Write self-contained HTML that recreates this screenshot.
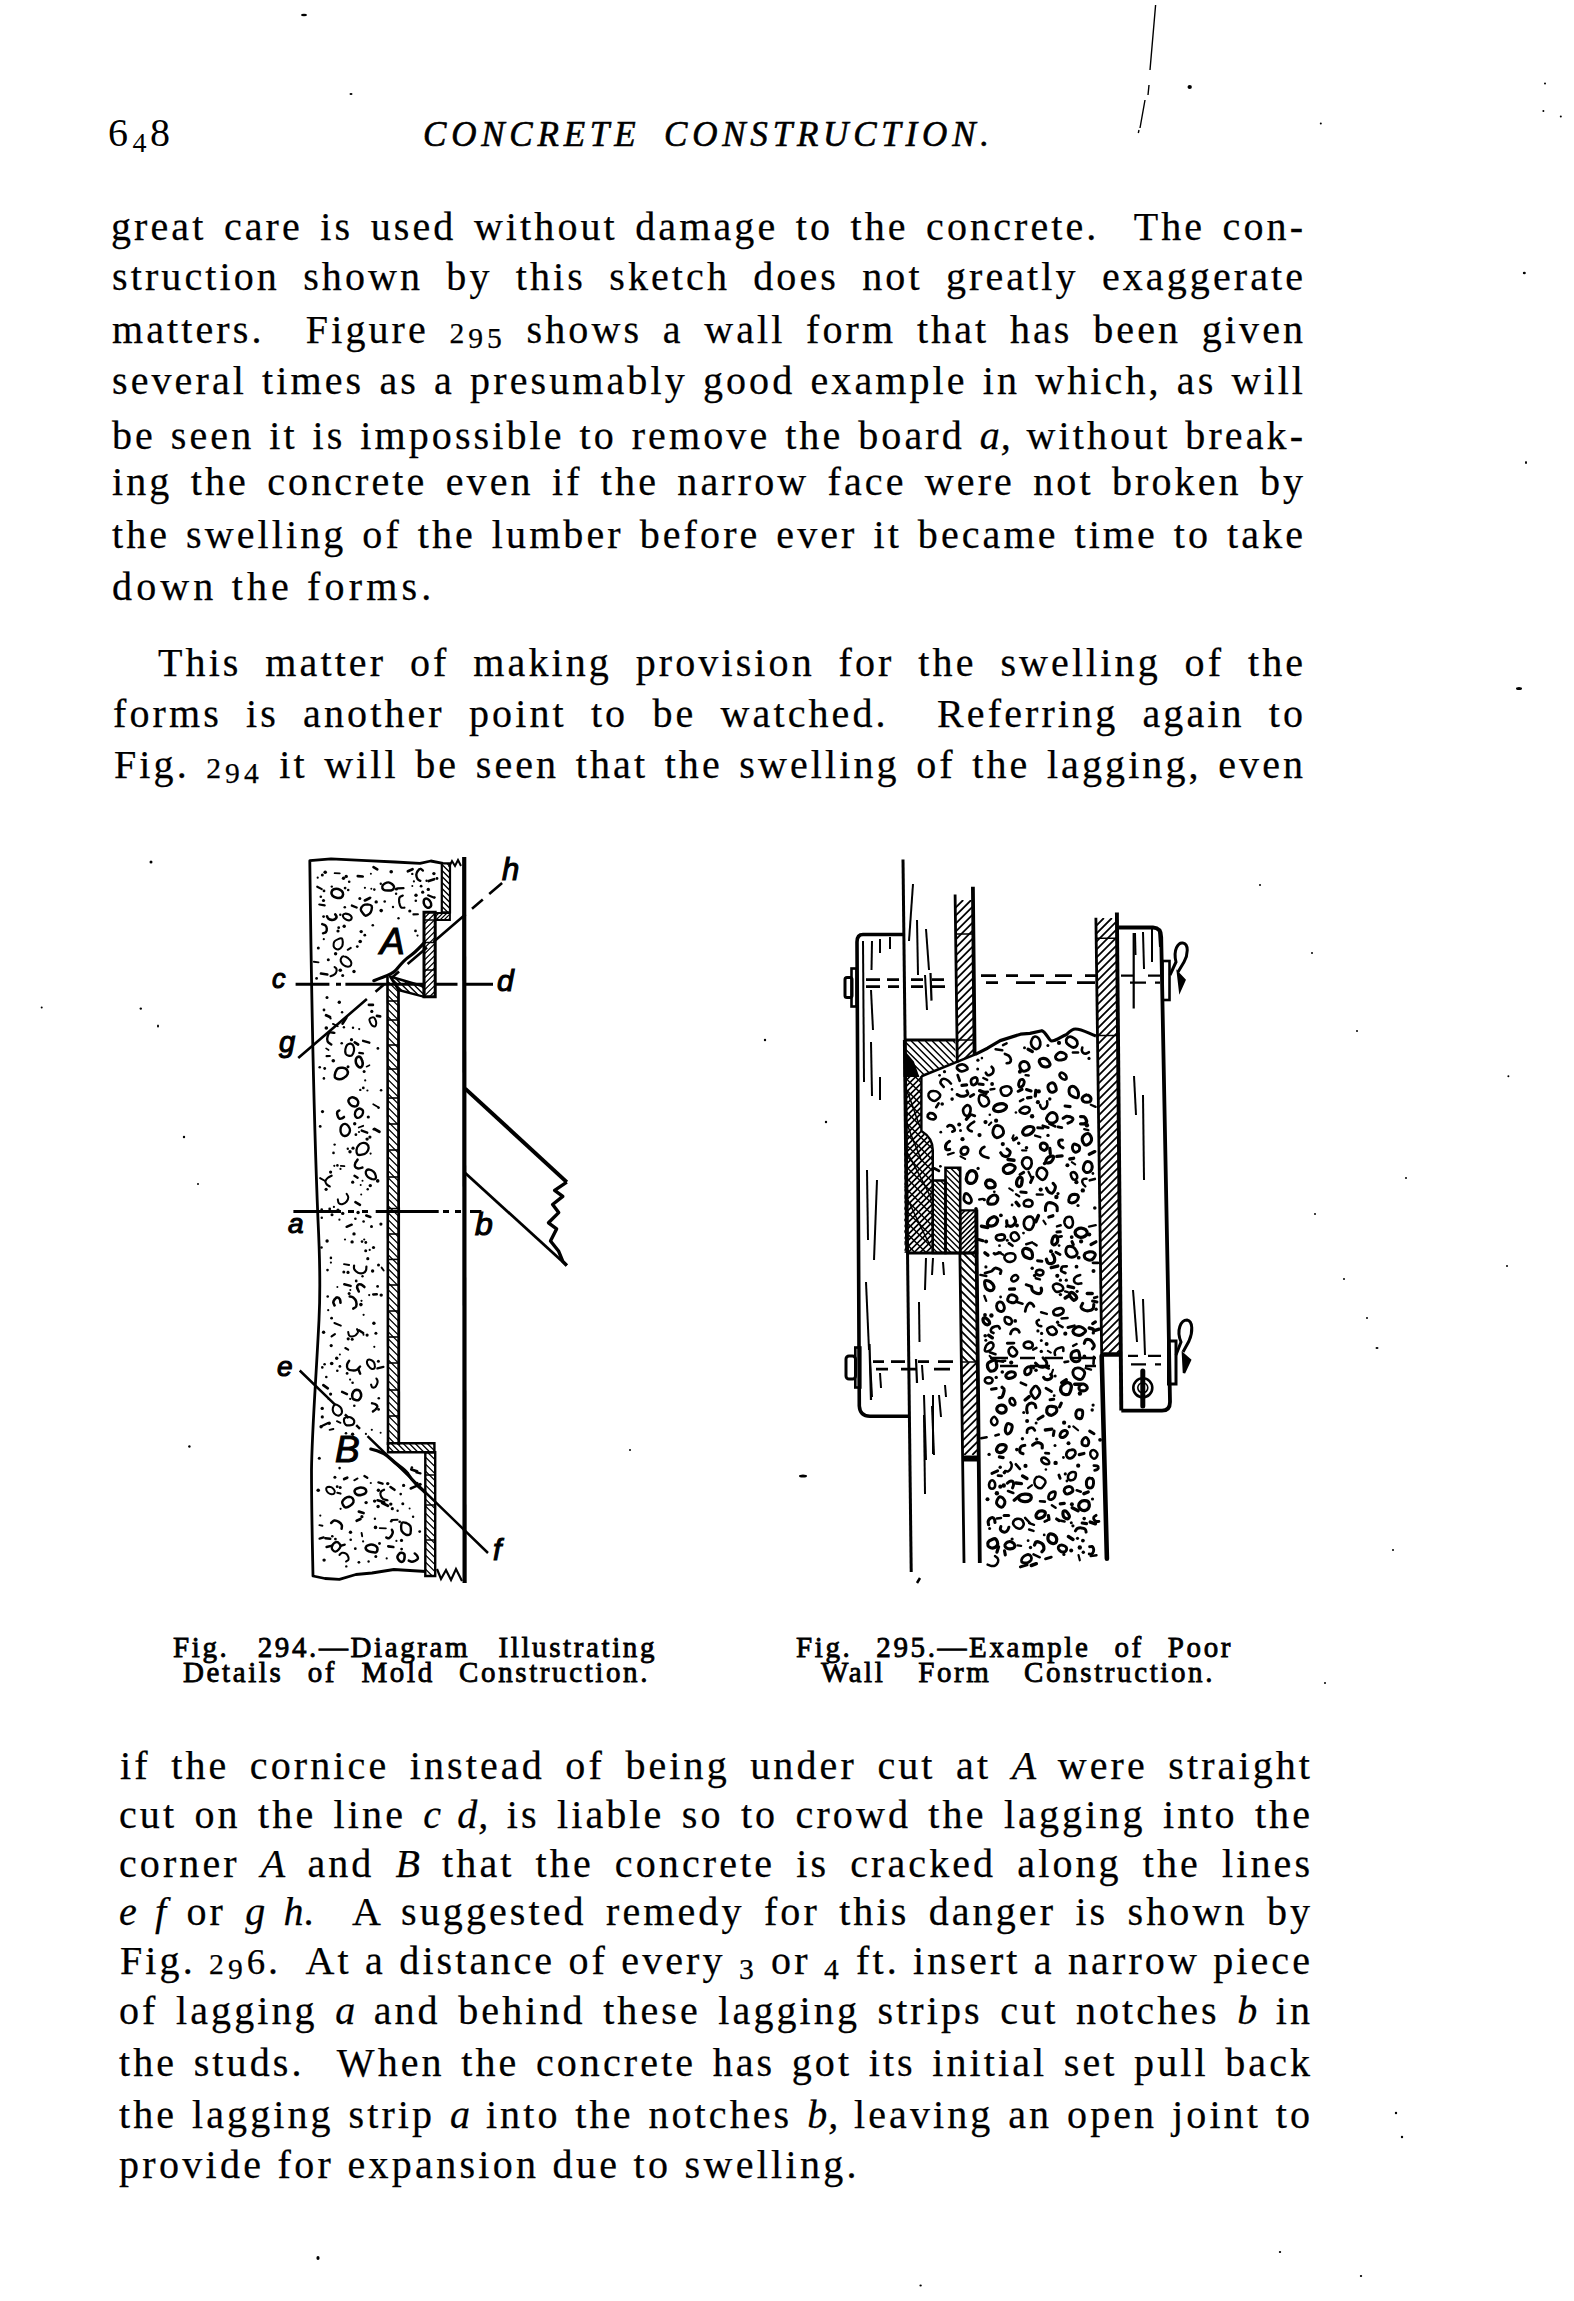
<!DOCTYPE html>
<html><head><meta charset="utf-8"><title>Concrete Construction p.648</title>
<style>
html,body{margin:0;padding:0;background:#fff}
body{width:1574px;height:2301px;position:relative;overflow:hidden;font-family:"Liberation Serif",serif;color:#000}
.l{position:absolute;font-size:40px;line-height:40px;letter-spacing:3.1px;white-space:nowrap;-webkit-text-stroke:0.25px #000}
.j{text-align:justify;text-align-last:justify}
.l i{letter-spacing:1px}
.ox{font-size:0.74em;letter-spacing:4px}
.od{font-size:0.74em;letter-spacing:4px;position:relative;top:0.2em}
.oa{font-size:0.92em;letter-spacing:3px}
.hd{position:absolute;font-size:35px;line-height:35px;font-style:italic;letter-spacing:4.8px;white-space:nowrap;-webkit-text-stroke:0.6px #000}
.pn{position:absolute;font-size:40px;line-height:40px;letter-spacing:3.5px;white-space:nowrap}
.cap{position:absolute;font-family:"Liberation Serif",serif;font-size:29px;line-height:29px;letter-spacing:2.6px;-webkit-text-stroke:0.8px #000;white-space:nowrap;text-align:justify;text-align-last:justify}
svg{position:absolute;left:0;top:0}
</style></head><body>
<div class="pn" style="left:108px;top:112.5px">6<span style="font-size:28px;position:relative;top:6px;margin-left:1px">4</span>8</div>
<div class="hd" style="left:423px;top:116.7px">CONCRETE</div>
<div class="hd" style="left:664px;top:116.7px">CONSTRUCTION.</div>
<div class="l j" style="top:206.5px;left:111px;width:1195.1px">great care is used without damage to the concrete.&nbsp; The con-</div>
<div class="l j" style="top:257.0px;left:112px;width:1194.1px">struction shown by this sketch does not greatly exaggerate</div>
<div class="l j" style="top:309.5px;left:112px;width:1194.1px">matters.&nbsp; Figure <span class=ox>2</span><span class=od>9</span><span class=od>5</span> shows a wall form that has been given</div>
<div class="l j" style="top:360.7px;left:112px;width:1194.1px">several times as a presumably good example in which, as will</div>
<div class="l j" style="top:416.3px;left:112px;width:1194.1px">be seen it is impossible to remove the board <i>a,</i> without break-</div>
<div class="l j" style="top:462.0px;left:112px;width:1194.1px">ing the concrete even if the narrow face were not broken by</div>
<div class="l j" style="top:515.3px;left:112px;width:1194.1px">the swelling of the lumber before ever it became time to take</div>
<div class="l" style="top:566.5px;left:112px;width:1194.1px;letter-spacing:4.15px">down the forms.</div>
<div class="l j" style="top:642.7px;left:158px;width:1148.1px">This matter of making provision for the swelling of the</div>
<div class="l j" style="top:693.8px;left:113px;width:1193.1px">forms is another point to be watched.&nbsp; Referring again to</div>
<div class="l j" style="top:744.5px;left:114px;width:1192.1px">Fig. <span class=ox>2</span><span class=od>9</span><span class=od>4</span> it will be seen that the swelling of the lagging, even</div>
<div class="l j" style="top:1745.5px;left:120px;width:1193.1px">if the cornice instead of being under cut at <i>A</i> were straight</div>
<div class="l j" style="top:1794.5px;left:119px;width:1194.1px">cut on the line <i>c d,</i> is liable so to crowd the lagging into the</div>
<div class="l j" style="top:1844.2px;left:119px;width:1194.1px">corner <i>A</i> and <i>B</i> that the concrete is cracked along the lines</div>
<div class="l j" style="top:1892.0px;left:119px;width:1194.1px"><i>e f</i> or <i>g h.</i>&nbsp; A suggested remedy for this danger is shown by</div>
<div class="l j" style="top:1940.5px;left:120px;width:1193.1px">Fig. <span class=ox>2</span><span class=od>9</span><span class=oa>6</span>.&nbsp; At a distance of every <span class=od>3</span> or <span class=od>4</span> ft. insert a narrow piece</div>
<div class="l j" style="top:1991.1px;left:119px;width:1194.1px">of lagging <i>a</i> and behind these lagging strips cut notches <i>b</i> in</div>
<div class="l j" style="top:2042.8px;left:119px;width:1194.1px">the studs.&nbsp; When the concrete has got its initial set pull back</div>
<div class="l j" style="top:2094.5px;left:119px;width:1194.1px">the lagging strip <i>a</i> into the notches <i>b,</i> leaving an open joint to</div>
<div class="l" style="top:2145.4px;left:119px;width:1194.1px;letter-spacing:3.3px">provide for expansion due to swelling.</div>
<div class="cap" style="left:173px;width:484px;top:1633.2px">Fig. 294.—Diagram Illustrating</div>
<div class="cap" style="left:183px;width:467px;top:1657.7px">Details of Mold Construction.</div>
<div class="cap" style="left:796px;width:437px;top:1633.2px">Fig. 295.—Example of Poor</div>
<div class="cap" style="left:821px;width:394px;top:1657.7px">Wall Form Construction.</div>
<svg width="1574" height="2301" viewBox="0 0 1574 2301"><g fill="none" stroke="#000" stroke-linecap="butt"><path d="M443,863.3 L430.8,861 L420,863.3 L395,862 L366.7,860.7 L331,858.9 L309.8,860.7 C311,960 313,1100 318,1220 C320,1260 320.5,1290 319,1320 C316,1380 312,1430 311.5,1470 C311.5,1510 312.5,1550 313,1576 L325,1578.5 L339.4,1579.4 L355.9,1574.5 L372,1573 L393.9,1569.5 L426,1571.5" stroke-width="2.8" stroke-linejoin="round"/>
<path d="M449,867 L452,861 L455,866 L458,860 L461,866" stroke-width="2"/>
<path d="M437,1569 L441,1579 L446,1570 L451,1580 L456,1569 L462,1581" stroke-width="2.2"/>
<path d="M464.2,857 L464.6,1583" stroke-width="4.2"/>
<clipPath id="cp1"><polygon points="441.8,863.3 450.0,863.3 450.0,912.3 441.8,912.3"/></clipPath><path d="M392.8,863.3L441.8,912.3M398.8,863.3L447.8,912.3M404.8,863.3L453.8,912.3M410.8,863.3L459.8,912.3M416.8,863.3L465.8,912.3M422.8,863.3L471.8,912.3M428.8,863.3L477.8,912.3M434.8,863.3L483.8,912.3M440.8,863.3L489.8,912.3M446.8,863.3L495.8,912.3M452.8,863.3L501.8,912.3M458.8,863.3L507.8,912.3M464.8,863.3L513.8,912.3M470.8,863.3L519.8,912.3M476.8,863.3L525.8,912.3M482.8,863.3L531.8,912.3M488.8,863.3L537.8,912.3M494.8,863.3L543.8,912.3" stroke-width="1.3" clip-path="url(#cp1)"/><polygon points="441.8,863.3 450.0,863.3 450.0,912.3 441.8,912.3" stroke-width="2.2"/>
<clipPath id="cp2"><polygon points="435.0,913.0 450.0,913.0 450.0,920.0 435.0,920.0"/></clipPath><path d="M428.0,920.0L435.0,913.0M432.0,920.0L439.0,913.0M436.0,920.0L443.0,913.0M440.0,920.0L447.0,913.0M444.0,920.0L451.0,913.0M448.0,920.0L455.0,913.0M452.0,920.0L459.0,913.0M456.0,920.0L463.0,913.0" stroke-width="1.2" clip-path="url(#cp2)"/><polygon points="435.0,913.0 450.0,913.0 450.0,920.0 435.0,920.0" stroke-width="1.8"/>
<clipPath id="cp3"><polygon points="424.0,912.3 435.2,912.3 435.2,996.8 424.0,996.8"/></clipPath><path d="M339.5,996.8L424.0,912.3M345.5,996.8L430.0,912.3M351.5,996.8L436.0,912.3M357.5,996.8L442.0,912.3M363.5,996.8L448.0,912.3M369.5,996.8L454.0,912.3M375.5,996.8L460.0,912.3M381.5,996.8L466.0,912.3M387.5,996.8L472.0,912.3M393.5,996.8L478.0,912.3M399.5,996.8L484.0,912.3M405.5,996.8L490.0,912.3M411.5,996.8L496.0,912.3M417.5,996.8L502.0,912.3M423.5,996.8L508.0,912.3M429.5,996.8L514.0,912.3M435.5,996.8L520.0,912.3M441.5,996.8L526.0,912.3M447.5,996.8L532.0,912.3M453.5,996.8L538.0,912.3M459.5,996.8L544.0,912.3M465.5,996.8L550.0,912.3M471.5,996.8L556.0,912.3M477.5,996.8L562.0,912.3M483.5,996.8L568.0,912.3M489.5,996.8L574.0,912.3M495.5,996.8L580.0,912.3M501.5,996.8L586.0,912.3M507.5,996.8L592.0,912.3M513.5,996.8L598.0,912.3M519.5,996.8L604.0,912.3" stroke-width="1.3" clip-path="url(#cp3)"/><polygon points="424.0,912.3 435.2,912.3 435.2,996.8 424.0,996.8" stroke-width="3"/>
<path d="M424,920 L435.2,920" stroke-width="1.5"/>
<path d="M424,942.5 L435.2,942.5" stroke-width="1.5"/>
<path d="M424,970 L435.2,970" stroke-width="1.5"/>
<clipPath id="cp4"><polygon points="390.0,976.5 424.0,986.5 424.0,996.8 400.5,990.5 398.5,990.0"/></clipPath><path d="M369.7,976.5L390.0,996.8M375.7,976.5L396.0,996.8M381.7,976.5L402.0,996.8M387.7,976.5L408.0,996.8M393.7,976.5L414.0,996.8M399.7,976.5L420.0,996.8M405.7,976.5L426.0,996.8M411.7,976.5L432.0,996.8M417.7,976.5L438.0,996.8M423.7,976.5L444.0,996.8M429.7,976.5L450.0,996.8M435.7,976.5L456.0,996.8M441.7,976.5L462.0,996.8" stroke-width="1.4" clip-path="url(#cp4)"/><polygon points="390.0,976.5 424.0,986.5 424.0,996.8 400.5,990.5 398.5,990.0" stroke-width="2.4"/>
<clipPath id="cp5"><polygon points="387.5,978.0 398.5,978.0 398.8,1443.2 388.0,1443.2"/></clipPath><path d="M-77.7,978.0L387.5,1443.2M-70.7,978.0L394.5,1443.2M-63.7,978.0L401.5,1443.2M-56.7,978.0L408.5,1443.2M-49.7,978.0L415.5,1443.2M-42.7,978.0L422.5,1443.2M-35.7,978.0L429.5,1443.2M-28.7,978.0L436.5,1443.2M-21.7,978.0L443.5,1443.2M-14.7,978.0L450.5,1443.2M-7.7,978.0L457.5,1443.2M-0.7,978.0L464.5,1443.2M6.3,978.0L471.5,1443.2M13.3,978.0L478.5,1443.2M20.3,978.0L485.5,1443.2M27.3,978.0L492.5,1443.2M34.3,978.0L499.5,1443.2M41.3,978.0L506.5,1443.2M48.3,978.0L513.5,1443.2M55.3,978.0L520.5,1443.2M62.3,978.0L527.5,1443.2M69.3,978.0L534.5,1443.2M76.3,978.0L541.5,1443.2M83.3,978.0L548.5,1443.2M90.3,978.0L555.5,1443.2M97.3,978.0L562.5,1443.2M104.3,978.0L569.5,1443.2M111.3,978.0L576.5,1443.2M118.3,978.0L583.5,1443.2M125.3,978.0L590.5,1443.2M132.3,978.0L597.5,1443.2M139.3,978.0L604.5,1443.2M146.3,978.0L611.5,1443.2M153.3,978.0L618.5,1443.2M160.3,978.0L625.5,1443.2M167.3,978.0L632.5,1443.2M174.3,978.0L639.5,1443.2M181.3,978.0L646.5,1443.2M188.3,978.0L653.5,1443.2M195.3,978.0L660.5,1443.2M202.3,978.0L667.5,1443.2M209.3,978.0L674.5,1443.2M216.3,978.0L681.5,1443.2M223.3,978.0L688.5,1443.2M230.3,978.0L695.5,1443.2M237.3,978.0L702.5,1443.2M244.3,978.0L709.5,1443.2M251.3,978.0L716.5,1443.2M258.3,978.0L723.5,1443.2M265.3,978.0L730.5,1443.2M272.3,978.0L737.5,1443.2M279.3,978.0L744.5,1443.2M286.3,978.0L751.5,1443.2M293.3,978.0L758.5,1443.2M300.3,978.0L765.5,1443.2M307.3,978.0L772.5,1443.2M314.3,978.0L779.5,1443.2M321.3,978.0L786.5,1443.2M328.3,978.0L793.5,1443.2M335.3,978.0L800.5,1443.2M342.3,978.0L807.5,1443.2M349.3,978.0L814.5,1443.2M356.3,978.0L821.5,1443.2M363.3,978.0L828.5,1443.2M370.3,978.0L835.5,1443.2M377.3,978.0L842.5,1443.2M384.3,978.0L849.5,1443.2M391.3,978.0L856.5,1443.2M398.3,978.0L863.5,1443.2M405.3,978.0L870.5,1443.2M412.3,978.0L877.5,1443.2M419.3,978.0L884.5,1443.2M426.3,978.0L891.5,1443.2M433.3,978.0L898.5,1443.2M440.3,978.0L905.5,1443.2M447.3,978.0L912.5,1443.2M454.3,978.0L919.5,1443.2M461.3,978.0L926.5,1443.2M468.3,978.0L933.5,1443.2M475.3,978.0L940.5,1443.2M482.3,978.0L947.5,1443.2M489.3,978.0L954.5,1443.2M496.3,978.0L961.5,1443.2M503.3,978.0L968.5,1443.2M510.3,978.0L975.5,1443.2M517.3,978.0L982.5,1443.2M524.3,978.0L989.5,1443.2M531.3,978.0L996.5,1443.2M538.3,978.0L1003.5,1443.2M545.3,978.0L1010.5,1443.2M552.3,978.0L1017.5,1443.2M559.3,978.0L1024.5,1443.2M566.3,978.0L1031.5,1443.2M573.3,978.0L1038.5,1443.2M580.3,978.0L1045.5,1443.2M587.3,978.0L1052.5,1443.2M594.3,978.0L1059.5,1443.2M601.3,978.0L1066.5,1443.2M608.3,978.0L1073.5,1443.2M615.3,978.0L1080.5,1443.2M622.3,978.0L1087.5,1443.2M629.3,978.0L1094.5,1443.2M636.3,978.0L1101.5,1443.2M643.3,978.0L1108.5,1443.2M650.3,978.0L1115.5,1443.2M657.3,978.0L1122.5,1443.2M664.3,978.0L1129.5,1443.2M671.3,978.0L1136.5,1443.2M678.3,978.0L1143.5,1443.2M685.3,978.0L1150.5,1443.2M692.3,978.0L1157.5,1443.2M699.3,978.0L1164.5,1443.2M706.3,978.0L1171.5,1443.2M713.3,978.0L1178.5,1443.2M720.3,978.0L1185.5,1443.2M727.3,978.0L1192.5,1443.2M734.3,978.0L1199.5,1443.2M741.3,978.0L1206.5,1443.2M748.3,978.0L1213.5,1443.2M755.3,978.0L1220.5,1443.2M762.3,978.0L1227.5,1443.2M769.3,978.0L1234.5,1443.2M776.3,978.0L1241.5,1443.2M783.3,978.0L1248.5,1443.2M790.3,978.0L1255.5,1443.2M797.3,978.0L1262.5,1443.2M804.3,978.0L1269.5,1443.2M811.3,978.0L1276.5,1443.2M818.3,978.0L1283.5,1443.2M825.3,978.0L1290.5,1443.2M832.3,978.0L1297.5,1443.2M839.3,978.0L1304.5,1443.2M846.3,978.0L1311.5,1443.2M853.3,978.0L1318.5,1443.2M860.3,978.0L1325.5,1443.2" stroke-width="1.3" clip-path="url(#cp5)"/>
<path d="M387.5,977 L388,1445" stroke-width="2.6"/><path d="M398.5,990 L398.8,1445" stroke-width="2.8"/>
<path d="M388,1001 L398.5,1001" stroke-width="1.6"/>
<path d="M388,1020 L398.5,1020" stroke-width="1.6"/>
<path d="M388,1045 L398.5,1045" stroke-width="1.6"/>
<path d="M388,1069 L398.5,1069" stroke-width="1.6"/>
<path d="M388,1098 L398.5,1098" stroke-width="1.6"/>
<path d="M388,1124 L398.5,1124" stroke-width="1.6"/>
<path d="M388,1150 L398.5,1150" stroke-width="1.6"/>
<path d="M388,1177 L398.5,1177" stroke-width="1.6"/>
<path d="M388,1208.6 L398.5,1208.6" stroke-width="1.6"/>
<path d="M388,1234 L398.5,1234" stroke-width="1.6"/>
<path d="M388,1259.4 L398.5,1259.4" stroke-width="1.6"/>
<path d="M388,1285 L398.5,1285" stroke-width="1.6"/>
<path d="M388,1311 L398.5,1311" stroke-width="1.6"/>
<path d="M388,1337 L398.5,1337" stroke-width="1.6"/>
<path d="M388,1363 L398.5,1363" stroke-width="1.6"/>
<path d="M388,1390 L398.5,1390" stroke-width="1.6"/>
<path d="M388,1416 L398.5,1416" stroke-width="1.6"/>
<clipPath id="cp6"><polygon points="388.0,1443.2 434.4,1443.2 434.4,1452.2 388.0,1452.2"/></clipPath><path d="M379.0,1443.2L388.0,1452.2M385.0,1443.2L394.0,1452.2M391.0,1443.2L400.0,1452.2M397.0,1443.2L406.0,1452.2M403.0,1443.2L412.0,1452.2M409.0,1443.2L418.0,1452.2M415.0,1443.2L424.0,1452.2M421.0,1443.2L430.0,1452.2M427.0,1443.2L436.0,1452.2M433.0,1443.2L442.0,1452.2M439.0,1443.2L448.0,1452.2" stroke-width="1.3" clip-path="url(#cp6)"/><polygon points="388.0,1443.2 434.4,1443.2 434.4,1452.2 388.0,1452.2" stroke-width="2.4"/>
<clipPath id="cp7"><polygon points="425.3,1452.2 435.2,1452.2 435.2,1576.0 425.3,1576.0"/></clipPath><path d="M301.5,1452.2L425.3,1576.0M308.5,1452.2L432.3,1576.0M315.5,1452.2L439.3,1576.0M322.5,1452.2L446.3,1576.0M329.5,1452.2L453.3,1576.0M336.5,1452.2L460.3,1576.0M343.5,1452.2L467.3,1576.0M350.5,1452.2L474.3,1576.0M357.5,1452.2L481.3,1576.0M364.5,1452.2L488.3,1576.0M371.5,1452.2L495.3,1576.0M378.5,1452.2L502.3,1576.0M385.5,1452.2L509.3,1576.0M392.5,1452.2L516.3,1576.0M399.5,1452.2L523.3,1576.0M406.5,1452.2L530.3,1576.0M413.5,1452.2L537.3,1576.0M420.5,1452.2L544.3,1576.0M427.5,1452.2L551.3,1576.0M434.5,1452.2L558.3,1576.0M441.5,1452.2L565.3,1576.0M448.5,1452.2L572.3,1576.0M455.5,1452.2L579.3,1576.0M462.5,1452.2L586.3,1576.0M469.5,1452.2L593.3,1576.0M476.5,1452.2L600.3,1576.0M483.5,1452.2L607.3,1576.0M490.5,1452.2L614.3,1576.0M497.5,1452.2L621.3,1576.0M504.5,1452.2L628.3,1576.0M511.5,1452.2L635.3,1576.0M518.5,1452.2L642.3,1576.0M525.5,1452.2L649.3,1576.0M532.5,1452.2L656.3,1576.0M539.5,1452.2L663.3,1576.0M546.5,1452.2L670.3,1576.0M553.5,1452.2L677.3,1576.0" stroke-width="1.3" clip-path="url(#cp7)"/><polygon points="425.3,1452.2 435.2,1452.2 435.2,1576.0 425.3,1576.0" stroke-width="2.4"/>
<path d="M425.3,1475 L435.2,1475" stroke-width="1.5"/>
<path d="M425.3,1505 L435.2,1505" stroke-width="1.5"/>
<path d="M425.3,1540 L435.2,1540" stroke-width="1.5"/>
<path d="M295.6,984.3 L329.4,984.3 M336,984.3 L341,984.3 M345.4,984.3 L425.4,984.3 M435,984.3 L457.5,984.3 M466,984.3 L493,984.3" stroke-width="3"/>
<path d="M293.4,1211.6 L341,1211.6 M348,1211.6 L354,1211.6 M362,1211.6 L368,1211.6 M375.7,1211.6 L438.7,1211.6 M443,1211.6 L449,1211.6 M455,1211.6 L461,1211.6 M470,1211.6 L481.4,1211.6" stroke-width="3"/>
<path d="M298.2,1058.1L366.9,999.1M375.5,991.8L384.0,984.4M392.6,977.0L399.1,971.5M407.6,964.1L427.0,947.5M433.4,942.0L465.6,914.3M472.0,908.8L482.8,899.6M489.2,894.1L502.1,883.0" stroke-width="2.6"/>
<path d="M299.7,1370.5L335.5,1405.2M344.9,1414.3L348.7,1418.0M356.2,1425.2L360.0,1428.9M367.5,1436.2L488.0,1553.0" stroke-width="2.5"/>
<path d="M373.8,980.7 C385,976 392,975 396,970 C400,965 404,960 410,956 C416,952 420,947 424.5,942.5" stroke-width="3.2" stroke-linecap="round"/>
<path d="M370.8,1449 C380,1451 386,1454 392,1460 C398,1466 404,1468 408,1474 C411,1479 414,1482 417,1485 C420,1488 423,1490 425.3,1492.7" stroke-width="3.2" stroke-linecap="round"/>
<path d="M465.2,1088.6 L566.8,1182.1" stroke-width="4"/>
<path d="M465.2,1173 L566.8,1265.5" stroke-width="2.8"/>
<path d="M566.8,1182.1 L554.6,1190.3 L562.8,1196.4 L552.6,1204.5 L558.7,1212.6 L548.5,1222.8 L556.6,1228.9 L550.5,1241 L558.7,1251.3 L562.8,1261.4 L566.8,1265.5" stroke-width="3.4" stroke-linejoin="round"/>
<text x="502" y="880" font-size="31" font-family="Liberation Sans" font-style="italic" stroke="#000" stroke-width="1.1" fill="#000">h</text>
<text x="272" y="988" font-size="27" font-family="Liberation Sans" font-style="italic" stroke="#000" stroke-width="1.1" fill="#000">c</text>
<text x="497" y="991" font-size="30" font-family="Liberation Sans" font-style="italic" stroke="#000" stroke-width="1.1" fill="#000">d</text>
<text x="380" y="954" font-size="37" font-family="Liberation Sans" font-style="italic" stroke="#000" stroke-width="1.1" fill="#000">A</text>
<text x="279" y="1052" font-size="29" font-family="Liberation Sans" font-style="italic" stroke="#000" stroke-width="1.1" fill="#000">g</text>
<text x="288" y="1233" font-size="28" font-family="Liberation Sans" font-style="italic" stroke="#000" stroke-width="1.1" fill="#000">a</text>
<text x="475" y="1235" font-size="32" font-family="Liberation Sans" font-style="italic" stroke="#000" stroke-width="1.1" fill="#000">b</text>
<text x="277" y="1376" font-size="28" font-family="Liberation Sans" font-style="italic" stroke="#000" stroke-width="1.1" fill="#000">e</text>
<text x="335" y="1462" font-size="37" font-family="Liberation Sans" font-style="italic" stroke="#000" stroke-width="1.1" fill="#000">B</text>
<text x="493" y="1560" font-size="30" font-family="Liberation Sans" font-style="italic" stroke="#000" stroke-width="1.1" fill="#000">f</text>
<path d="M382.3,886.2C382.5,885.1 383.8,884.1 384.8,883.5C385.9,882.9 387.3,882.3 388.5,882.4C389.7,882.5 391.0,883.3 392.0,884.0C392.9,884.8 394.1,886.0 394.1,887.0C394.1,888.1 393.1,889.6 392.0,890.1C391.0,890.7 389.3,890.6 387.9,890.5C386.5,890.5 384.5,890.4 383.6,889.7C382.6,889.0 382.1,887.2 382.3,886.2Z" stroke-width="2.4" stroke-linecap="round"/>
<path d="M343.1,894.4C343.0,895.5 342.3,896.9 341.2,897.5C340.1,898.0 338.0,898.0 336.5,897.7C335.1,897.4 333.3,896.6 332.5,895.7C331.6,894.7 331.3,893.2 331.5,892.2C331.7,891.1 332.5,889.8 333.7,889.3C334.8,888.8 336.8,888.7 338.2,889.0C339.5,889.3 341.0,890.2 341.9,891.1C342.7,892.0 343.3,893.4 343.1,894.4Z" stroke-width="2.6" stroke-linecap="round"/>
<path d="M404.4,907.7C403.8,907.7 401.7,908.1 400.9,907.2C400.0,906.3 399.5,904.1 399.2,902.4C399.0,900.8 399.0,898.5 399.6,897.4C400.2,896.2 402.2,895.9 402.8,895.6" stroke-width="2.2" stroke-linecap="round"/>
<path d="M335.5,948.7C334.7,948.2 333.8,947.3 333.6,946.1C333.4,944.9 333.6,942.7 334.4,941.5C335.1,940.4 336.9,939.6 338.1,939.1C339.3,938.5 341.0,937.9 341.8,938.4C342.5,938.9 342.7,940.7 342.8,942.0C342.8,943.3 342.7,945.0 342.1,946.2C341.4,947.4 339.8,948.9 338.7,949.3C337.6,949.7 336.4,949.2 335.5,948.7Z" stroke-width="2.1" stroke-linecap="round"/>
<path d="M362.7,913.0C361.9,912.0 360.7,910.8 360.8,909.5C360.9,908.2 362.0,906.3 363.2,905.4C364.3,904.6 366.2,904.4 367.6,904.4C369.1,904.5 371.0,905.0 371.7,906.0C372.3,907.0 371.8,909.0 371.5,910.2C371.2,911.5 370.6,912.7 369.6,913.7C368.6,914.6 366.8,915.9 365.6,915.8C364.4,915.7 363.5,914.1 362.7,913.0Z" stroke-width="2.4" stroke-linecap="round"/>
<path d="M335.2,914.3C335.4,914.7 336.7,916.1 336.6,917.0C336.5,917.8 335.6,918.8 334.7,919.3C333.9,919.8 332.6,920.0 331.5,919.9C330.5,919.8 329.3,919.4 328.6,918.8C327.8,918.3 327.3,916.8 327.0,916.4" stroke-width="2.6" stroke-linecap="round"/>
<path d="M334.6,967.1C334.9,967.4 336.2,968.0 336.5,969.0C336.7,969.9 336.6,971.8 336.0,972.8C335.5,973.8 334.3,974.6 333.4,975.1C332.5,975.7 331.0,976.0 330.5,976.2" stroke-width="2.1" stroke-linecap="round"/>
<path d="M341.2,958.1C341.7,957.2 342.8,956.1 343.9,956.2C345.1,956.2 346.9,957.3 348.1,958.2C349.2,959.1 350.4,960.3 350.9,961.4C351.4,962.5 351.6,964.1 351.1,964.9C350.6,965.8 349.2,966.7 347.9,966.7C346.7,966.7 344.6,965.9 343.4,965.0C342.2,964.1 341.2,962.5 340.8,961.4C340.5,960.2 340.6,959.0 341.2,958.1Z" stroke-width="2.1" stroke-linecap="round"/>
<path d="M351.5,918.8C351.2,919.4 350.5,920.2 349.7,920.3C348.8,920.5 347.4,920.1 346.5,919.7C345.5,919.2 344.4,918.6 343.8,917.9C343.3,917.2 342.7,916.0 342.9,915.3C343.1,914.6 344.1,913.9 345.0,913.7C346.0,913.5 347.5,913.9 348.6,914.3C349.6,914.8 350.8,915.6 351.3,916.4C351.8,917.1 351.8,918.1 351.5,918.8Z" stroke-width="2.1" stroke-linecap="round"/>
<path d="M322.2,924.1C322.7,924.3 324.5,924.6 325.3,925.3C326.0,926.0 326.7,927.4 326.8,928.5C326.9,929.7 326.6,931.3 326.0,932.1C325.3,932.9 323.5,933.1 323.0,933.3" stroke-width="2.4" stroke-linecap="round"/>
<path d="M420.3,880.8C419.9,880.5 418.3,880.2 417.7,879.2C417.0,878.2 416.3,876.2 416.3,874.8C416.3,873.4 417.2,871.8 417.9,870.8C418.5,869.8 419.5,868.7 420.3,868.7C421.1,868.6 422.5,870.3 422.9,870.6" stroke-width="2.4" stroke-linecap="round"/>
<path d="M424.7,899.0C425.3,898.6 426.5,898.4 427.4,898.8C428.3,899.2 429.6,900.4 430.2,901.4C430.9,902.5 431.3,904.3 431.2,905.3C431.1,906.3 430.3,907.0 429.6,907.4C428.9,907.8 427.8,908.0 426.9,907.5C426.1,907.1 425.0,905.8 424.4,904.8C423.9,903.8 423.6,902.5 423.7,901.6C423.7,900.6 424.1,899.5 424.7,899.0Z" stroke-width="2.5" stroke-linecap="round"/>
<circle cx="434.6" cy="897.4" r="1.1" stroke="none" fill="#000"/>
<circle cx="348.2" cy="890.0" r="1.3" stroke="none" fill="#000"/>
<circle cx="376.2" cy="901.9" r="1.7" stroke="none" fill="#000"/>
<circle cx="370.9" cy="873.7" r="1.0" stroke="none" fill="#000"/>
<circle cx="318.3" cy="947.9" r="1.5" stroke="none" fill="#000"/>
<line x1="313.8" y1="961.7" x2="318.5" y2="962.4" stroke-width="1.9" stroke-linecap="round"/>
<line x1="397.7" y1="888.4" x2="403.5" y2="888.2" stroke-width="2.2" stroke-linecap="round"/>
<circle cx="357.3" cy="946.6" r="1.4" stroke="none" fill="#000"/>
<circle cx="409.8" cy="911.0" r="1.6" stroke="none" fill="#000"/>
<line x1="320.9" y1="973.6" x2="327.4" y2="974.6" stroke-width="2.5" stroke-linecap="round"/>
<circle cx="361.2" cy="931.6" r="1.7" stroke="none" fill="#000"/>
<circle cx="396.4" cy="889.0" r="1.6" stroke="none" fill="#000"/>
<circle cx="340.3" cy="970.3" r="1.8" stroke="none" fill="#000"/>
<circle cx="354.0" cy="971.5" r="1.7" stroke="none" fill="#000"/>
<circle cx="323.6" cy="916.6" r="1.4" stroke="none" fill="#000"/>
<line x1="373.5" y1="867.2" x2="377.3" y2="869.4" stroke-width="2.6" stroke-linecap="round"/>
<circle cx="413.9" cy="881.4" r="1.1" stroke="none" fill="#000"/>
<circle cx="324.0" cy="890.9" r="1.4" stroke="none" fill="#000"/>
<circle cx="384.7" cy="901.5" r="1.3" stroke="none" fill="#000"/>
<circle cx="428.3" cy="889.4" r="1.7" stroke="none" fill="#000"/>
<circle cx="338.7" cy="927.7" r="1.4" stroke="none" fill="#000"/>
<circle cx="316.6" cy="978.4" r="1.4" stroke="none" fill="#000"/>
<circle cx="415.5" cy="930.9" r="1.4" stroke="none" fill="#000"/>
<line x1="428.1" y1="895.3" x2="434.3" y2="897.7" stroke-width="2.2" stroke-linecap="round"/>
<line x1="428.7" y1="881.1" x2="434.2" y2="879.2" stroke-width="2.6" stroke-linecap="round"/>
<line x1="351.9" y1="905.6" x2="356.6" y2="907.5" stroke-width="2.4" stroke-linecap="round"/>
<circle cx="345.1" cy="888.1" r="1.4" stroke="none" fill="#000"/>
<circle cx="380.8" cy="883.7" r="1.2" stroke="none" fill="#000"/>
<circle cx="422.7" cy="892.2" r="1.6" stroke="none" fill="#000"/>
<circle cx="426.6" cy="880.7" r="1.2" stroke="none" fill="#000"/>
<circle cx="346.2" cy="876.4" r="1.7" stroke="none" fill="#000"/>
<circle cx="437.0" cy="878.5" r="1.4" stroke="none" fill="#000"/>
<line x1="334.6" y1="873.2" x2="339.8" y2="873.3" stroke-width="1.7" stroke-linecap="round"/>
<circle cx="331.8" cy="886.6" r="1.2" stroke="none" fill="#000"/>
<circle cx="325.2" cy="872.2" r="1.8" stroke="none" fill="#000"/>
<circle cx="372.8" cy="925.3" r="1.3" stroke="none" fill="#000"/>
<circle cx="421.1" cy="886.2" r="1.4" stroke="none" fill="#000"/>
<circle cx="364.9" cy="887.8" r="1.1" stroke="none" fill="#000"/>
<circle cx="364.8" cy="935.2" r="1.4" stroke="none" fill="#000"/>
<circle cx="416.0" cy="895.2" r="1.7" stroke="none" fill="#000"/>
<line x1="319.3" y1="904.5" x2="324.7" y2="905.4" stroke-width="2.2" stroke-linecap="round"/>
<circle cx="342.7" cy="975.5" r="1.5" stroke="none" fill="#000"/>
<circle cx="381.2" cy="910.6" r="1.8" stroke="none" fill="#000"/>
<line x1="317.2" y1="886.7" x2="321.8" y2="889.1" stroke-width="2.1" stroke-linecap="round"/>
<line x1="407.9" y1="871.2" x2="412.5" y2="869.3" stroke-width="2.8" stroke-linecap="round"/>
<circle cx="391.2" cy="871.8" r="1.8" stroke="none" fill="#000"/>
<circle cx="359.8" cy="898.4" r="1.5" stroke="none" fill="#000"/>
<line x1="347.7" y1="949.8" x2="350.8" y2="947.9" stroke-width="2.0" stroke-linecap="round"/>
<circle cx="433.9" cy="873.6" r="1.7" stroke="none" fill="#000"/>
<circle cx="344.2" cy="926.2" r="1.7" stroke="none" fill="#000"/>
<circle cx="417.5" cy="935.6" r="1.1" stroke="none" fill="#000"/>
<circle cx="371.3" cy="888.8" r="1.0" stroke="none" fill="#000"/>
<circle cx="398.5" cy="918.3" r="1.2" stroke="none" fill="#000"/>
<circle cx="343.5" cy="878.3" r="1.7" stroke="none" fill="#000"/>
<circle cx="393.0" cy="907.0" r="1.2" stroke="none" fill="#000"/>
<circle cx="320.8" cy="896.7" r="1.3" stroke="none" fill="#000"/>
<circle cx="322.3" cy="875.1" r="1.5" stroke="none" fill="#000"/>
<circle cx="374.3" cy="889.6" r="1.3" stroke="none" fill="#000"/>
<circle cx="328.3" cy="959.7" r="1.5" stroke="none" fill="#000"/>
<circle cx="340.3" cy="914.7" r="1.2" stroke="none" fill="#000"/>
<circle cx="360.2" cy="941.5" r="1.8" stroke="none" fill="#000"/>
<line x1="357.8" y1="876.2" x2="362.7" y2="876.5" stroke-width="2.7" stroke-linecap="round"/>
<circle cx="412.3" cy="873.9" r="1.2" stroke="none" fill="#000"/>
<circle cx="323.5" cy="900.5" r="1.6" stroke="none" fill="#000"/>
<circle cx="349.2" cy="881.7" r="1.3" stroke="none" fill="#000"/>
<circle cx="415.8" cy="900.7" r="1.3" stroke="none" fill="#000"/>
<circle cx="344.8" cy="907.3" r="1.3" stroke="none" fill="#000"/>
<circle cx="338.0" cy="931.0" r="1.6" stroke="none" fill="#000"/>
<circle cx="335.6" cy="953.8" r="1.7" stroke="none" fill="#000"/>
<circle cx="323.8" cy="939.2" r="1.1" stroke="none" fill="#000"/>
<circle cx="396.1" cy="893.7" r="1.2" stroke="none" fill="#000"/>
<line x1="417.9" y1="914.3" x2="413.4" y2="914.4" stroke-width="2.1" stroke-linecap="round"/>
<line x1="364.9" y1="900.4" x2="369.9" y2="897.9" stroke-width="2.8" stroke-linecap="round"/>
<circle cx="412.3" cy="886.0" r="1.0" stroke="none" fill="#000"/>
<circle cx="317.7" cy="877.7" r="1.1" stroke="none" fill="#000"/>
<path d="M358.8,1291.5C358.6,1290.8 357.3,1288.7 357.1,1287.5C357.0,1286.4 357.4,1285.2 358.1,1284.7C358.7,1284.2 360.0,1284.2 361.1,1284.5C362.1,1284.9 363.9,1286.6 364.4,1287.0" stroke-width="2.6" stroke-linecap="round"/>
<path d="M371.4,1017.6C372.2,1017.3 373.3,1017.0 374.0,1017.5C374.8,1018.1 375.4,1019.6 375.8,1020.6C376.1,1021.6 376.3,1022.7 376.2,1023.6C376.1,1024.6 375.7,1026.0 375.1,1026.4C374.4,1026.7 373.1,1026.2 372.3,1025.6C371.5,1025.0 370.9,1023.9 370.4,1022.9C370.0,1021.8 369.2,1020.3 369.4,1019.4C369.6,1018.5 370.6,1017.9 371.4,1017.6Z" stroke-width="2.0" stroke-linecap="round"/>
<path d="M357.4,1057.1C358.1,1056.7 359.4,1056.5 360.2,1057.1C361.0,1057.8 361.8,1059.6 362.2,1060.8C362.7,1062.1 362.8,1063.7 362.6,1064.7C362.4,1065.8 361.7,1066.9 361.0,1067.2C360.2,1067.5 359.0,1067.1 358.2,1066.4C357.3,1065.7 356.4,1064.2 356.0,1063.0C355.6,1061.8 355.7,1060.3 355.9,1059.3C356.2,1058.3 356.7,1057.5 357.4,1057.1Z" stroke-width="2.6" stroke-linecap="round"/>
<path d="M357.5,1154.5C356.6,1153.7 356.4,1151.6 356.5,1150.1C356.6,1148.6 357.2,1146.8 358.2,1145.7C359.1,1144.5 360.9,1143.3 362.3,1143.0C363.7,1142.7 365.5,1143.0 366.6,1143.8C367.7,1144.6 368.7,1146.4 368.7,1147.9C368.6,1149.3 367.4,1151.5 366.3,1152.7C365.2,1153.8 363.4,1154.4 361.9,1154.7C360.5,1155.0 358.4,1155.2 357.5,1154.5Z" stroke-width="2.3" stroke-linecap="round"/>
<path d="M329.8,1186.5C329.3,1186.1 327.5,1185.4 326.8,1184.5C326.1,1183.6 325.2,1182.3 325.4,1181.2C325.6,1180.0 326.9,1178.6 327.9,1177.7C329.0,1176.8 331.1,1176.0 331.7,1175.7" stroke-width="2.1" stroke-linecap="round"/>
<path d="M344.1,1421.9C343.9,1420.8 343.7,1419.2 344.4,1418.3C345.1,1417.5 347.0,1417.0 348.3,1417.0C349.5,1416.9 350.8,1417.3 351.8,1418.0C352.8,1418.6 354.0,1419.6 354.2,1420.7C354.4,1421.8 354.0,1423.6 353.2,1424.4C352.4,1425.2 350.5,1425.3 349.3,1425.4C348.1,1425.5 346.6,1425.4 345.8,1424.8C344.9,1424.2 344.3,1423.0 344.1,1421.9Z" stroke-width="2.2" stroke-linecap="round"/>
<path d="M367.6,1360.1C368.2,1359.6 369.5,1359.5 370.4,1359.8C371.4,1360.1 372.8,1360.9 373.6,1361.8C374.3,1362.7 374.7,1364.1 374.8,1365.2C375.0,1366.3 375.0,1367.7 374.5,1368.3C373.9,1368.9 372.4,1369.1 371.4,1368.7C370.4,1368.3 369.2,1367.0 368.5,1366.0C367.8,1365.1 367.1,1363.9 367.0,1362.9C366.8,1361.9 367.1,1360.7 367.6,1360.1Z" stroke-width="2.1" stroke-linecap="round"/>
<path d="M349.7,1296.4C350.3,1296.5 352.1,1296.6 353.2,1297.4C354.2,1298.2 355.6,1299.7 356.1,1301.3C356.6,1302.8 356.6,1305.2 356.2,1306.4C355.7,1307.7 353.8,1308.2 353.3,1308.6" stroke-width="2.5" stroke-linecap="round"/>
<path d="M358.1,1390.1C359.0,1390.4 360.0,1391.2 360.5,1392.3C361.0,1393.3 361.4,1395.1 361.1,1396.3C360.8,1397.6 359.7,1399.2 358.8,1399.8C357.9,1400.4 356.6,1400.2 355.6,1400.0C354.6,1399.8 353.3,1399.4 352.7,1398.4C352.2,1397.4 352.0,1395.4 352.3,1394.1C352.6,1392.8 353.7,1391.1 354.7,1390.4C355.6,1389.8 357.1,1389.8 358.1,1390.1Z" stroke-width="2.6" stroke-linecap="round"/>
<path d="M334.9,1404.7C335.8,1404.3 337.3,1405.0 338.4,1405.6C339.5,1406.3 340.7,1407.3 341.3,1408.5C341.8,1409.7 342.1,1411.8 341.8,1412.9C341.4,1414.1 340.3,1415.1 339.3,1415.4C338.3,1415.7 336.9,1415.5 335.9,1414.9C334.9,1414.3 333.7,1413.0 333.2,1411.8C332.7,1410.6 332.6,1408.9 332.9,1407.7C333.2,1406.5 334.0,1405.0 334.9,1404.7Z" stroke-width="2.1" stroke-linecap="round"/>
<path d="M334.6,1305.4C334.4,1304.9 333.3,1303.3 333.3,1302.3C333.4,1301.2 334.1,1300.0 334.8,1299.2C335.5,1298.3 336.6,1297.3 337.5,1297.4C338.3,1297.4 339.4,1298.5 339.9,1299.4C340.4,1300.3 340.4,1302.1 340.5,1302.7" stroke-width="2.6" stroke-linecap="round"/>
<path d="M344.0,1116.9C343.6,1117.2 342.6,1118.2 341.8,1118.4C341.1,1118.7 339.9,1119.0 339.2,1118.5C338.5,1118.0 337.8,1116.5 337.5,1115.4C337.1,1114.3 337.0,1112.8 337.3,1112.0C337.6,1111.2 339.0,1110.7 339.3,1110.5" stroke-width="2.5" stroke-linecap="round"/>
<path d="M357.0,1329.1C357.2,1329.6 358.2,1331.2 358.0,1332.2C357.7,1333.2 356.5,1334.4 355.6,1335.2C354.6,1335.9 353.2,1336.5 352.1,1336.5C351.1,1336.6 349.7,1336.0 349.1,1335.3C348.4,1334.5 348.3,1332.6 348.2,1332.0" stroke-width="2.0" stroke-linecap="round"/>
<path d="M358.2,1103.2C358.0,1104.2 357.4,1105.6 356.4,1106.1C355.5,1106.5 353.6,1106.4 352.4,1106.0C351.3,1105.6 350.2,1104.6 349.5,1103.6C348.8,1102.7 348.2,1101.3 348.4,1100.3C348.7,1099.3 349.8,1098.0 350.9,1097.6C351.9,1097.2 353.7,1097.5 354.8,1098.0C355.9,1098.4 357.0,1099.3 357.5,1100.1C358.1,1101.0 358.4,1102.2 358.2,1103.2Z" stroke-width="2.5" stroke-linecap="round"/>
<path d="M366.4,1170.5C367.0,1169.8 368.4,1169.4 369.5,1169.6C370.7,1169.8 372.3,1170.6 373.3,1171.5C374.4,1172.4 375.3,1173.9 375.6,1175.1C376.0,1176.3 376.0,1178.1 375.4,1178.7C374.8,1179.3 373.0,1179.3 371.8,1179.0C370.6,1178.8 369.1,1178.1 368.1,1177.2C367.2,1176.3 366.2,1174.9 365.9,1173.7C365.6,1172.6 365.8,1171.2 366.4,1170.5Z" stroke-width="2.3" stroke-linecap="round"/>
<path d="M376.4,1378.5C376.6,1378.9 377.5,1380.0 377.6,1381.0C377.7,1381.9 377.4,1383.1 377.0,1384.1C376.6,1385.1 375.8,1386.5 375.0,1387.1C374.2,1387.6 372.9,1387.7 372.2,1387.3C371.5,1386.9 371.3,1385.1 371.1,1384.7" stroke-width="2.1" stroke-linecap="round"/>
<path d="M372.0,1403.3C372.5,1403.4 374.3,1403.5 375.2,1404.1C376.1,1404.6 377.3,1405.5 377.4,1406.4C377.5,1407.3 376.6,1408.4 375.8,1409.2C375.1,1410.0 373.4,1411.1 372.9,1411.5" stroke-width="2.4" stroke-linecap="round"/>
<path d="M362.4,1167.6C361.7,1167.7 359.3,1168.5 358.1,1168.4C356.8,1168.2 355.4,1167.5 355.0,1166.6C354.5,1165.7 354.9,1164.2 355.3,1163.1C355.8,1161.9 357.3,1160.2 357.6,1159.6" stroke-width="2.5" stroke-linecap="round"/>
<path d="M331.3,1044.5C330.7,1044.0 328.2,1042.7 327.6,1041.4C326.9,1040.0 327.2,1037.8 327.6,1036.4C328.0,1034.9 328.7,1033.1 329.8,1032.5C331.0,1032.0 333.6,1032.8 334.4,1032.9" stroke-width="2.4" stroke-linecap="round"/>
<path d="M348.4,1055.7C347.4,1055.4 346.3,1054.8 345.7,1053.7C345.2,1052.6 345.1,1050.6 345.4,1049.1C345.7,1047.6 346.5,1045.7 347.3,1044.8C348.2,1043.9 349.6,1043.5 350.6,1043.6C351.6,1043.8 352.8,1044.5 353.3,1045.7C353.9,1046.9 354.2,1049.0 354.0,1050.6C353.7,1052.2 352.8,1054.4 351.9,1055.3C350.9,1056.1 349.5,1055.9 348.4,1055.7Z" stroke-width="2.2" stroke-linecap="round"/>
<path d="M366.4,1266.7C366.3,1267.4 366.5,1269.5 365.9,1270.5C365.4,1271.6 364.5,1272.6 363.2,1273.0C361.9,1273.4 359.6,1273.3 358.1,1272.7C356.7,1272.0 355.0,1270.5 354.3,1269.3C353.6,1268.1 354.1,1266.1 354.1,1265.5" stroke-width="2.2" stroke-linecap="round"/>
<path d="M356.4,1117.4C355.6,1116.9 355.0,1115.8 354.9,1114.7C354.8,1113.6 355.2,1111.9 355.8,1110.9C356.5,1109.9 357.8,1108.9 358.7,1108.6C359.7,1108.3 360.6,1108.7 361.3,1109.1C362.1,1109.5 362.9,1110.2 363.0,1111.1C363.2,1112.1 362.9,1113.7 362.3,1114.8C361.7,1115.8 360.5,1117.0 359.5,1117.5C358.5,1117.9 357.2,1117.9 356.4,1117.4Z" stroke-width="2.4" stroke-linecap="round"/>
<path d="M360.1,1366.5C359.5,1367.1 358.2,1369.1 356.9,1369.8C355.6,1370.5 353.9,1370.6 352.3,1370.4C350.8,1370.3 348.6,1369.7 347.7,1368.7C346.8,1367.7 346.9,1365.8 347.1,1364.4C347.4,1363.1 348.9,1361.3 349.2,1360.7" stroke-width="2.4" stroke-linecap="round"/>
<path d="M346.6,1193.8C346.9,1194.3 348.3,1195.9 348.3,1197.2C348.3,1198.5 347.6,1200.3 346.6,1201.5C345.7,1202.6 344.1,1203.7 342.8,1204.0C341.5,1204.3 339.7,1203.9 338.9,1203.2C338.0,1202.4 338.0,1200.0 337.8,1199.4" stroke-width="2.0" stroke-linecap="round"/>
<path d="M344.5,1136.0C343.5,1135.9 342.3,1135.1 341.6,1134.1C340.9,1133.1 340.4,1131.3 340.5,1129.8C340.5,1128.3 341.1,1126.3 341.9,1125.4C342.7,1124.4 344.2,1123.8 345.2,1123.9C346.3,1124.0 347.4,1124.8 348.2,1125.9C349.0,1127.0 350.1,1128.9 350.0,1130.3C350.0,1131.8 348.9,1133.9 347.9,1134.8C347.0,1135.8 345.6,1136.1 344.5,1136.0Z" stroke-width="2.4" stroke-linecap="round"/>
<path d="M346.8,1069.6C347.6,1070.7 348.1,1072.8 347.6,1074.1C347.1,1075.5 345.3,1076.9 343.9,1077.8C342.5,1078.6 340.6,1079.3 339.1,1079.2C337.6,1079.1 335.4,1078.3 334.8,1077.2C334.2,1076.1 334.9,1074.0 335.4,1072.5C336.0,1071.1 336.7,1069.2 338.0,1068.4C339.2,1067.6 341.4,1067.6 342.8,1067.8C344.3,1068.0 346.0,1068.6 346.8,1069.6Z" stroke-width="2.5" stroke-linecap="round"/>
<circle cx="360.7" cy="1185.1" r="1.0" stroke="none" fill="#000"/>
<circle cx="340.5" cy="1168.9" r="1.1" stroke="none" fill="#000"/>
<circle cx="352.1" cy="1241.9" r="1.7" stroke="none" fill="#000"/>
<circle cx="354.0" cy="1233.9" r="1.7" stroke="none" fill="#000"/>
<circle cx="371.5" cy="1226.5" r="1.5" stroke="none" fill="#000"/>
<circle cx="330.6" cy="1172.1" r="1.6" stroke="none" fill="#000"/>
<circle cx="352.2" cy="1339.2" r="1.5" stroke="none" fill="#000"/>
<line x1="332.9" y1="1023.9" x2="337.8" y2="1026.2" stroke-width="1.8" stroke-linecap="round"/>
<line x1="327.6" y1="1423.2" x2="321.4" y2="1426.2" stroke-width="2.3" stroke-linecap="round"/>
<circle cx="368.3" cy="1117.0" r="1.6" stroke="none" fill="#000"/>
<circle cx="327.0" cy="997.4" r="1.5" stroke="none" fill="#000"/>
<circle cx="321.7" cy="1209.5" r="1.3" stroke="none" fill="#000"/>
<circle cx="352.6" cy="1434.2" r="1.7" stroke="none" fill="#000"/>
<line x1="374.5" y1="1129.0" x2="379.4" y2="1131.8" stroke-width="2.8" stroke-linecap="round"/>
<circle cx="365.2" cy="1080.4" r="1.1" stroke="none" fill="#000"/>
<circle cx="319.7" cy="1067.3" r="1.3" stroke="none" fill="#000"/>
<circle cx="370.3" cy="1185.6" r="1.7" stroke="none" fill="#000"/>
<circle cx="377.6" cy="1286.4" r="1.4" stroke="none" fill="#000"/>
<circle cx="330.6" cy="1018.5" r="1.1" stroke="none" fill="#000"/>
<circle cx="378.6" cy="1409.4" r="1.4" stroke="none" fill="#000"/>
<circle cx="348.2" cy="1338.8" r="1.6" stroke="none" fill="#000"/>
<line x1="373.2" y1="1294.5" x2="376.8" y2="1294.3" stroke-width="2.4" stroke-linecap="round"/>
<circle cx="327.5" cy="1270.1" r="1.3" stroke="none" fill="#000"/>
<circle cx="363.6" cy="1221.5" r="1.3" stroke="none" fill="#000"/>
<circle cx="329.2" cy="1423.2" r="1.7" stroke="none" fill="#000"/>
<line x1="359.3" y1="1052.9" x2="363.0" y2="1053.3" stroke-width="2.3" stroke-linecap="round"/>
<circle cx="331.6" cy="1318.2" r="1.4" stroke="none" fill="#000"/>
<circle cx="326.3" cy="1028.0" r="1.8" stroke="none" fill="#000"/>
<circle cx="364.2" cy="1239.5" r="1.1" stroke="none" fill="#000"/>
<circle cx="350.2" cy="1398.9" r="1.1" stroke="none" fill="#000"/>
<line x1="373.2" y1="1104.2" x2="378.8" y2="1107.5" stroke-width="1.7" stroke-linecap="round"/>
<circle cx="362.5" cy="1180.8" r="1.0" stroke="none" fill="#000"/>
<circle cx="323.9" cy="1078.4" r="1.3" stroke="none" fill="#000"/>
<line x1="326.1" y1="1015.3" x2="329.9" y2="1017.1" stroke-width="2.8" stroke-linecap="round"/>
<line x1="377.4" y1="1368.4" x2="383.4" y2="1366.9" stroke-width="2.3" stroke-linecap="round"/>
<line x1="336.9" y1="1421.1" x2="340.5" y2="1422.9" stroke-width="1.8" stroke-linecap="round"/>
<line x1="363.1" y1="1040.8" x2="369.3" y2="1042.7" stroke-width="2.4" stroke-linecap="round"/>
<circle cx="346.0" cy="1433.2" r="1.3" stroke="none" fill="#000"/>
<circle cx="322.5" cy="1111.6" r="1.6" stroke="none" fill="#000"/>
<line x1="331.6" y1="1336.4" x2="334.9" y2="1334.2" stroke-width="2.2" stroke-linecap="round"/>
<circle cx="381.2" cy="1295.1" r="1.7" stroke="none" fill="#000"/>
<circle cx="361.5" cy="1300.8" r="1.1" stroke="none" fill="#000"/>
<circle cx="326.1" cy="1189.3" r="1.6" stroke="none" fill="#000"/>
<circle cx="373.7" cy="1129.2" r="1.2" stroke="none" fill="#000"/>
<circle cx="337.4" cy="1165.4" r="1.3" stroke="none" fill="#000"/>
<line x1="326.1" y1="1048.4" x2="328.6" y2="1050.0" stroke-width="1.7" stroke-linecap="round"/>
<circle cx="347.8" cy="1148.7" r="1.2" stroke="none" fill="#000"/>
<line x1="320.1" y1="1178.1" x2="325.2" y2="1181.0" stroke-width="1.9" stroke-linecap="round"/>
<circle cx="367.4" cy="1090.5" r="1.1" stroke="none" fill="#000"/>
<circle cx="363.6" cy="1314.8" r="1.1" stroke="none" fill="#000"/>
<circle cx="353.0" cy="1027.7" r="1.2" stroke="none" fill="#000"/>
<circle cx="359.2" cy="1029.1" r="1.1" stroke="none" fill="#000"/>
<circle cx="324.7" cy="1068.5" r="1.4" stroke="none" fill="#000"/>
<line x1="326.6" y1="1056.1" x2="329.8" y2="1056.0" stroke-width="2.2" stroke-linecap="round"/>
<circle cx="367.1" cy="1335.1" r="1.6" stroke="none" fill="#000"/>
<line x1="346.3" y1="1017.7" x2="342.6" y2="1023.6" stroke-width="2.7" stroke-linecap="round"/>
<circle cx="356.2" cy="1281.0" r="1.4" stroke="none" fill="#000"/>
<circle cx="343.8" cy="1271.9" r="1.5" stroke="none" fill="#000"/>
<circle cx="369.9" cy="1137.1" r="1.6" stroke="none" fill="#000"/>
<line x1="346.6" y1="1226.8" x2="351.7" y2="1224.7" stroke-width="2.5" stroke-linecap="round"/>
<circle cx="327.1" cy="1241.0" r="1.7" stroke="none" fill="#000"/>
<circle cx="330.9" cy="1257.9" r="1.3" stroke="none" fill="#000"/>
<circle cx="327.7" cy="1296.5" r="1.3" stroke="none" fill="#000"/>
<circle cx="380.6" cy="1432.7" r="1.0" stroke="none" fill="#000"/>
<circle cx="322.3" cy="1416.9" r="1.6" stroke="none" fill="#000"/>
<circle cx="365.8" cy="1242.5" r="1.4" stroke="none" fill="#000"/>
<line x1="344.3" y1="1284.3" x2="350.6" y2="1285.9" stroke-width="2.5" stroke-linecap="round"/>
<line x1="377.0" y1="1015.9" x2="380.1" y2="1016.3" stroke-width="2.8" stroke-linecap="round"/>
<line x1="345.3" y1="1348.0" x2="348.2" y2="1349.7" stroke-width="2.1" stroke-linecap="round"/>
<circle cx="362.5" cy="1276.2" r="1.2" stroke="none" fill="#000"/>
<circle cx="329.7" cy="1208.9" r="1.4" stroke="none" fill="#000"/>
<circle cx="375.9" cy="1333.2" r="1.5" stroke="none" fill="#000"/>
<circle cx="321.5" cy="1247.5" r="1.3" stroke="none" fill="#000"/>
<circle cx="341.7" cy="1043.2" r="1.3" stroke="none" fill="#000"/>
<circle cx="350.3" cy="1290.1" r="1.0" stroke="none" fill="#000"/>
<circle cx="333.9" cy="1206.9" r="1.1" stroke="none" fill="#000"/>
<circle cx="332.0" cy="1214.7" r="1.5" stroke="none" fill="#000"/>
<circle cx="321.1" cy="1426.7" r="1.7" stroke="none" fill="#000"/>
<line x1="363.2" y1="1125.8" x2="358.7" y2="1127.5" stroke-width="1.8" stroke-linecap="round"/>
<line x1="355.4" y1="1202.1" x2="360.0" y2="1204.9" stroke-width="2.5" stroke-linecap="round"/>
<line x1="358.2" y1="1368.8" x2="360.2" y2="1373.7" stroke-width="2.4" stroke-linecap="round"/>
<circle cx="371.8" cy="1429.8" r="1.1" stroke="none" fill="#000"/>
<circle cx="337.3" cy="1370.8" r="1.3" stroke="none" fill="#000"/>
<circle cx="369.2" cy="1295.1" r="1.1" stroke="none" fill="#000"/>
<circle cx="324.6" cy="1364.2" r="1.3" stroke="none" fill="#000"/>
<circle cx="365.9" cy="1433.9" r="1.1" stroke="none" fill="#000"/>
<circle cx="331.2" cy="1345.6" r="1.6" stroke="none" fill="#000"/>
<line x1="354.7" y1="1042.4" x2="358.1" y2="1044.5" stroke-width="2.7" stroke-linecap="round"/>
<circle cx="349.1" cy="1293.5" r="1.5" stroke="none" fill="#000"/>
<line x1="342.1" y1="1391.9" x2="347.0" y2="1394.1" stroke-width="2.5" stroke-linecap="round"/>
<circle cx="378.5" cy="1107.7" r="1.2" stroke="none" fill="#000"/>
<line x1="323.3" y1="1385.2" x2="327.8" y2="1388.3" stroke-width="2.7" stroke-linecap="round"/>
<line x1="366.2" y1="1215.5" x2="370.4" y2="1217.0" stroke-width="2.4" stroke-linecap="round"/>
<circle cx="367.8" cy="1258.7" r="1.6" stroke="none" fill="#000"/>
<circle cx="336.7" cy="1358.2" r="1.7" stroke="none" fill="#000"/>
<circle cx="355.9" cy="1134.7" r="1.4" stroke="none" fill="#000"/>
<circle cx="378.5" cy="1265.1" r="1.5" stroke="none" fill="#000"/>
<circle cx="348.0" cy="1066.8" r="1.5" stroke="none" fill="#000"/>
<circle cx="339.4" cy="1219.7" r="1.1" stroke="none" fill="#000"/>
<circle cx="370.6" cy="1153.6" r="1.1" stroke="none" fill="#000"/>
<circle cx="359.0" cy="1132.0" r="1.1" stroke="none" fill="#000"/>
<circle cx="330.6" cy="1394.1" r="1.6" stroke="none" fill="#000"/>
<circle cx="343.9" cy="1027.2" r="1.2" stroke="none" fill="#000"/>
<circle cx="377.7" cy="1180.9" r="1.8" stroke="none" fill="#000"/>
<circle cx="322.3" cy="1367.4" r="1.3" stroke="none" fill="#000"/>
<line x1="344.0" y1="1264.1" x2="349.1" y2="1265.0" stroke-width="1.9" stroke-linecap="round"/>
<circle cx="326.3" cy="1377.0" r="1.3" stroke="none" fill="#000"/>
<circle cx="377.9" cy="1048.4" r="1.4" stroke="none" fill="#000"/>
<circle cx="360.3" cy="1089.9" r="1.2" stroke="none" fill="#000"/>
<circle cx="354.7" cy="1123.7" r="1.7" stroke="none" fill="#000"/>
<circle cx="373.5" cy="1247.5" r="1.6" stroke="none" fill="#000"/>
<circle cx="323.6" cy="1332.2" r="1.7" stroke="none" fill="#000"/>
<circle cx="339.3" cy="1002.3" r="1.7" stroke="none" fill="#000"/>
<circle cx="322.2" cy="1408.4" r="1.7" stroke="none" fill="#000"/>
<circle cx="363.5" cy="1334.8" r="1.0" stroke="none" fill="#000"/>
<circle cx="355.4" cy="1218.7" r="1.3" stroke="none" fill="#000"/>
<circle cx="337.4" cy="1287.1" r="1.0" stroke="none" fill="#000"/>
<circle cx="361.2" cy="1194.5" r="1.0" stroke="none" fill="#000"/>
<circle cx="380.9" cy="1224.1" r="1.6" stroke="none" fill="#000"/>
<circle cx="372.6" cy="1271.0" r="1.7" stroke="none" fill="#000"/>
<circle cx="378.8" cy="1398.2" r="1.3" stroke="none" fill="#000"/>
<circle cx="378.4" cy="1361.2" r="1.5" stroke="none" fill="#000"/>
<circle cx="330.9" cy="1262.6" r="1.1" stroke="none" fill="#000"/>
<circle cx="369.7" cy="1249.9" r="1.1" stroke="none" fill="#000"/>
<circle cx="365.7" cy="1250.7" r="1.5" stroke="none" fill="#000"/>
<circle cx="321.8" cy="1217.7" r="1.2" stroke="none" fill="#000"/>
<circle cx="348.0" cy="1272.4" r="1.6" stroke="none" fill="#000"/>
<circle cx="345.0" cy="1239.5" r="1.1" stroke="none" fill="#000"/>
<circle cx="342.7" cy="1213.4" r="1.7" stroke="none" fill="#000"/>
<circle cx="352.7" cy="1182.2" r="1.6" stroke="none" fill="#000"/>
<circle cx="373.9" cy="1323.2" r="1.7" stroke="none" fill="#000"/>
<circle cx="362.0" cy="1241.6" r="1.3" stroke="none" fill="#000"/>
<circle cx="334.6" cy="1144.6" r="1.2" stroke="none" fill="#000"/>
<circle cx="350.1" cy="1379.6" r="1.1" stroke="none" fill="#000"/>
<circle cx="374.3" cy="1346.8" r="1.1" stroke="none" fill="#000"/>
<line x1="334.4" y1="1323.0" x2="340.8" y2="1325.7" stroke-width="2.0" stroke-linecap="round"/>
<circle cx="347.1" cy="1373.4" r="1.4" stroke="none" fill="#000"/>
<line x1="366.5" y1="1066.7" x2="369.5" y2="1065.2" stroke-width="1.6" stroke-linecap="round"/>
<circle cx="342.1" cy="1012.2" r="1.2" stroke="none" fill="#000"/>
<circle cx="333.5" cy="1152.9" r="1.3" stroke="none" fill="#000"/>
<circle cx="328.8" cy="1398.9" r="1.2" stroke="none" fill="#000"/>
<line x1="368.9" y1="1004.8" x2="372.9" y2="1004.9" stroke-width="2.7" stroke-linecap="round"/>
<circle cx="338.0" cy="1210.0" r="1.6" stroke="none" fill="#000"/>
<line x1="333.4" y1="1429.0" x2="329.6" y2="1429.9" stroke-width="1.9" stroke-linecap="round"/>
<circle cx="352.6" cy="1382.7" r="1.3" stroke="none" fill="#000"/>
<circle cx="358.1" cy="1212.5" r="1.7" stroke="none" fill="#000"/>
<circle cx="334.3" cy="1165.8" r="1.1" stroke="none" fill="#000"/>
<circle cx="364.1" cy="1071.4" r="1.5" stroke="none" fill="#000"/>
<line x1="361.7" y1="1130.6" x2="367.2" y2="1132.7" stroke-width="2.4" stroke-linecap="round"/>
<circle cx="339.9" cy="1366.4" r="1.4" stroke="none" fill="#000"/>
<circle cx="367.1" cy="1139.1" r="1.7" stroke="none" fill="#000"/>
<line x1="381.6" y1="1267.6" x2="383.7" y2="1270.5" stroke-width="1.9" stroke-linecap="round"/>
<line x1="354.5" y1="1175.8" x2="357.6" y2="1177.7" stroke-width="2.5" stroke-linecap="round"/>
<line x1="340.8" y1="1165.9" x2="344.4" y2="1166.1" stroke-width="1.8" stroke-linecap="round"/>
<circle cx="367.7" cy="1189.3" r="1.2" stroke="none" fill="#000"/>
<line x1="358.9" y1="1330.2" x2="363.2" y2="1333.1" stroke-width="2.4" stroke-linecap="round"/>
<circle cx="351.5" cy="1039.7" r="1.6" stroke="none" fill="#000"/>
<circle cx="320.2" cy="1126.4" r="1.4" stroke="none" fill="#000"/>
<circle cx="331.7" cy="1363.5" r="1.8" stroke="none" fill="#000"/>
<circle cx="350.0" cy="1151.8" r="1.7" stroke="none" fill="#000"/>
<circle cx="360.9" cy="1304.6" r="1.8" stroke="none" fill="#000"/>
<circle cx="381.1" cy="1090.3" r="1.3" stroke="none" fill="#000"/>
<circle cx="371.8" cy="1011.4" r="1.6" stroke="none" fill="#000"/>
<circle cx="324.0" cy="1010.0" r="1.4" stroke="none" fill="#000"/>
<circle cx="328.2" cy="1310.2" r="1.1" stroke="none" fill="#000"/>
<circle cx="353.0" cy="1148.2" r="1.6" stroke="none" fill="#000"/>
<circle cx="333.3" cy="1060.8" r="1.8" stroke="none" fill="#000"/>
<circle cx="363.3" cy="1087.9" r="1.4" stroke="none" fill="#000"/>
<circle cx="339.9" cy="1354.6" r="1.0" stroke="none" fill="#000"/>
<circle cx="354.3" cy="1405.8" r="1.3" stroke="none" fill="#000"/>
<path d="M391.9,1529.8C392.0,1530.2 392.8,1531.3 392.8,1532.2C392.7,1533.2 392.3,1534.5 391.6,1535.5C391.0,1536.5 389.8,1537.9 388.9,1538.2C388.0,1538.5 386.8,1537.6 386.3,1537.5" stroke-width="2.5" stroke-linecap="round"/>
<path d="M400.8,1561.7C400.0,1561.6 399.2,1560.8 398.7,1560.0C398.1,1559.2 397.4,1557.9 397.4,1556.9C397.5,1555.8 398.4,1554.5 399.1,1553.8C399.7,1553.1 400.7,1552.8 401.5,1552.8C402.3,1552.8 403.5,1553.0 404.1,1553.8C404.6,1554.6 404.7,1556.2 404.6,1557.4C404.5,1558.6 404.2,1560.3 403.5,1561.0C402.9,1561.7 401.6,1561.9 400.8,1561.7Z" stroke-width="2.6" stroke-linecap="round"/>
<path d="M387.5,1500.2C386.7,1500.0 384.2,1499.6 383.0,1498.8C381.9,1497.9 380.9,1496.4 380.6,1495.2C380.2,1494.0 380.4,1492.5 381.0,1491.6C381.6,1490.7 383.6,1490.0 384.1,1489.7" stroke-width="2.2" stroke-linecap="round"/>
<path d="M339.5,1554.9C339.9,1554.5 340.9,1553.0 342.0,1552.8C343.1,1552.6 345.0,1553.0 346.0,1553.7C347.0,1554.3 347.8,1555.6 348.2,1556.6C348.6,1557.6 348.9,1558.8 348.5,1559.6C348.2,1560.4 346.5,1561.2 346.1,1561.5" stroke-width="2.1" stroke-linecap="round"/>
<path d="M409.8,1534.4C408.9,1535.1 407.0,1535.1 405.7,1534.6C404.3,1534.1 402.6,1532.5 401.8,1531.2C401.1,1529.8 401.1,1528.0 401.1,1526.6C401.2,1525.1 401.4,1523.2 402.3,1522.6C403.2,1522.0 405.0,1522.5 406.4,1523.0C407.7,1523.6 409.4,1524.6 410.2,1525.9C410.9,1527.1 410.9,1529.0 410.8,1530.4C410.8,1531.8 410.6,1533.7 409.8,1534.4Z" stroke-width="2.4" stroke-linecap="round"/>
<path d="M331.2,1523.0C331.7,1522.6 332.9,1520.8 334.2,1520.6C335.5,1520.4 337.5,1521.1 338.8,1521.9C340.0,1522.7 341.3,1524.0 341.8,1525.2C342.2,1526.3 341.6,1528.2 341.6,1528.8" stroke-width="2.5" stroke-linecap="round"/>
<path d="M352.7,1498.4C353.4,1499.3 353.8,1501.1 353.4,1502.3C352.9,1503.6 351.4,1505.0 350.1,1505.8C348.8,1506.7 346.8,1507.6 345.6,1507.4C344.4,1507.3 343.5,1505.9 343.0,1504.9C342.4,1504.0 341.9,1502.7 342.3,1501.6C342.7,1500.5 343.9,1499.2 345.1,1498.3C346.2,1497.5 348.0,1496.7 349.2,1496.7C350.5,1496.8 352.0,1497.5 352.7,1498.4Z" stroke-width="2.5" stroke-linecap="round"/>
<path d="M332.7,1550.1C332.1,1549.4 331.7,1548.3 331.8,1547.3C331.9,1546.2 332.4,1544.9 333.2,1544.0C334.0,1543.1 335.5,1542.1 336.5,1542.0C337.6,1541.9 338.7,1542.8 339.3,1543.6C340.0,1544.3 340.6,1545.4 340.5,1546.4C340.4,1547.4 339.5,1548.7 338.7,1549.6C337.9,1550.5 336.5,1551.6 335.5,1551.7C334.5,1551.8 333.3,1550.8 332.7,1550.1Z" stroke-width="2.3" stroke-linecap="round"/>
<path d="M355.0,1492.8C354.6,1492.0 354.3,1490.6 355.0,1489.8C355.7,1488.9 357.8,1488.0 359.3,1487.7C360.7,1487.4 362.4,1487.6 363.6,1488.0C364.7,1488.4 365.7,1489.1 366.0,1490.0C366.3,1490.8 366.4,1492.3 365.5,1493.1C364.7,1494.0 362.5,1494.7 361.1,1495.0C359.7,1495.3 358.1,1495.1 357.1,1494.7C356.0,1494.3 355.3,1493.6 355.0,1492.8Z" stroke-width="2.6" stroke-linecap="round"/>
<path d="M326.6,1487.6C327.1,1487.0 328.2,1486.8 329.2,1486.8C330.1,1486.9 331.4,1487.1 332.3,1487.8C333.2,1488.4 334.2,1489.7 334.6,1490.6C334.9,1491.5 334.8,1492.8 334.3,1493.4C333.8,1494.0 332.6,1494.3 331.6,1494.3C330.7,1494.2 329.3,1493.6 328.4,1493.0C327.5,1492.3 326.7,1491.1 326.4,1490.2C326.1,1489.3 326.2,1488.2 326.6,1487.6Z" stroke-width="2.0" stroke-linecap="round"/>
<path d="M414.7,1553.4C415.1,1553.8 416.4,1554.7 416.9,1555.5C417.5,1556.4 418.3,1557.6 418.0,1558.5C417.6,1559.4 416.1,1560.3 415.0,1560.9C414.0,1561.4 412.8,1561.9 411.8,1561.8C410.7,1561.8 409.2,1560.8 408.7,1560.6" stroke-width="2.4" stroke-linecap="round"/>
<path d="M365.8,1547.1C366.1,1546.1 367.7,1545.2 368.9,1544.9C370.1,1544.5 371.8,1544.5 373.0,1544.8C374.3,1545.1 375.8,1545.8 376.5,1546.6C377.3,1547.4 377.6,1548.6 377.5,1549.5C377.4,1550.5 377.0,1551.9 376.0,1552.4C375.0,1552.8 372.9,1552.4 371.5,1552.1C370.0,1551.8 368.2,1551.3 367.3,1550.5C366.3,1549.7 365.5,1548.0 365.8,1547.1Z" stroke-width="2.6" stroke-linecap="round"/>
<circle cx="402.8" cy="1503.8" r="1.5" stroke="none" fill="#000"/>
<line x1="390.5" y1="1487.0" x2="394.5" y2="1489.8" stroke-width="2.6" stroke-linecap="round"/>
<line x1="340.6" y1="1545.9" x2="344.8" y2="1544.6" stroke-width="2.2" stroke-linecap="round"/>
<circle cx="417.0" cy="1483.4" r="1.7" stroke="none" fill="#000"/>
<circle cx="397.6" cy="1510.7" r="1.2" stroke="none" fill="#000"/>
<circle cx="413.1" cy="1516.7" r="1.2" stroke="none" fill="#000"/>
<line x1="364.4" y1="1476.0" x2="367.3" y2="1477.8" stroke-width="2.3" stroke-linecap="round"/>
<circle cx="378.4" cy="1490.3" r="1.7" stroke="none" fill="#000"/>
<line x1="382.2" y1="1502.9" x2="387.9" y2="1505.7" stroke-width="2.8" stroke-linecap="round"/>
<circle cx="368.6" cy="1561.5" r="1.2" stroke="none" fill="#000"/>
<line x1="378.4" y1="1482.4" x2="382.6" y2="1483.7" stroke-width="2.3" stroke-linecap="round"/>
<circle cx="390.8" cy="1504.1" r="1.7" stroke="none" fill="#000"/>
<circle cx="324.1" cy="1560.1" r="1.7" stroke="none" fill="#000"/>
<line x1="325.3" y1="1538.2" x2="330.3" y2="1538.8" stroke-width="2.4" stroke-linecap="round"/>
<circle cx="355.3" cy="1548.7" r="1.4" stroke="none" fill="#000"/>
<circle cx="358.9" cy="1562.3" r="1.4" stroke="none" fill="#000"/>
<circle cx="350.5" cy="1532.3" r="1.7" stroke="none" fill="#000"/>
<circle cx="366.1" cy="1502.6" r="1.7" stroke="none" fill="#000"/>
<line x1="356.6" y1="1520.8" x2="360.5" y2="1519.0" stroke-width="2.6" stroke-linecap="round"/>
<circle cx="346.3" cy="1566.4" r="1.2" stroke="none" fill="#000"/>
<line x1="344.2" y1="1479.1" x2="347.2" y2="1477.7" stroke-width="2.8" stroke-linecap="round"/>
<line x1="354.2" y1="1480.4" x2="357.6" y2="1478.4" stroke-width="1.8" stroke-linecap="round"/>
<circle cx="375.8" cy="1556.6" r="1.5" stroke="none" fill="#000"/>
<line x1="388.3" y1="1546.3" x2="393.3" y2="1547.0" stroke-width="2.7" stroke-linecap="round"/>
<circle cx="332.3" cy="1536.2" r="1.3" stroke="none" fill="#000"/>
<circle cx="340.2" cy="1487.4" r="1.5" stroke="none" fill="#000"/>
<line x1="410.7" y1="1488.5" x2="416.6" y2="1485.9" stroke-width="2.5" stroke-linecap="round"/>
<circle cx="420.1" cy="1484.3" r="1.6" stroke="none" fill="#000"/>
<circle cx="391.2" cy="1521.2" r="1.3" stroke="none" fill="#000"/>
<line x1="337.3" y1="1492.7" x2="340.5" y2="1493.6" stroke-width="2.1" stroke-linecap="round"/>
<circle cx="401.6" cy="1549.1" r="1.4" stroke="none" fill="#000"/>
<circle cx="370.8" cy="1483.0" r="1.1" stroke="none" fill="#000"/>
<circle cx="396.4" cy="1540.9" r="1.1" stroke="none" fill="#000"/>
<circle cx="375.5" cy="1527.4" r="1.8" stroke="none" fill="#000"/>
<circle cx="379.5" cy="1543.5" r="1.4" stroke="none" fill="#000"/>
<circle cx="400.7" cy="1494.1" r="1.3" stroke="none" fill="#000"/>
<circle cx="374.6" cy="1501.1" r="1.7" stroke="none" fill="#000"/>
<circle cx="361.9" cy="1516.7" r="1.6" stroke="none" fill="#000"/>
<circle cx="374.9" cy="1518.8" r="1.2" stroke="none" fill="#000"/>
<line x1="358.9" y1="1511.7" x2="363.5" y2="1513.0" stroke-width="2.8" stroke-linecap="round"/>
<circle cx="407.2" cy="1473.4" r="1.6" stroke="none" fill="#000"/>
<line x1="391.7" y1="1520.0" x2="397.5" y2="1519.7" stroke-width="2.1" stroke-linecap="round"/>
<line x1="377.6" y1="1500.3" x2="384.2" y2="1502.2" stroke-width="2.7" stroke-linecap="round"/>
<circle cx="378.1" cy="1506.5" r="1.7" stroke="none" fill="#000"/>
<circle cx="339.6" cy="1468.1" r="1.3" stroke="none" fill="#000"/>
<circle cx="409.6" cy="1508.5" r="1.0" stroke="none" fill="#000"/>
<circle cx="335.4" cy="1539.1" r="1.4" stroke="none" fill="#000"/>
<line x1="326.6" y1="1547.0" x2="332.2" y2="1545.6" stroke-width="2.5" stroke-linecap="round"/>
<circle cx="419.7" cy="1531.6" r="1.4" stroke="none" fill="#000"/>
<circle cx="340.6" cy="1508.8" r="1.1" stroke="none" fill="#000"/>
<circle cx="320.3" cy="1515.6" r="1.1" stroke="none" fill="#000"/>
<circle cx="319.3" cy="1458.2" r="1.5" stroke="none" fill="#000"/>
<line x1="379.7" y1="1528.1" x2="385.9" y2="1528.3" stroke-width="1.8" stroke-linecap="round"/>
<line x1="319.6" y1="1538.6" x2="323.6" y2="1537.4" stroke-width="2.3" stroke-linecap="round"/>
<circle cx="363.1" cy="1541.4" r="1.1" stroke="none" fill="#000"/>
<circle cx="403.6" cy="1485.4" r="1.6" stroke="none" fill="#000"/>
<circle cx="337.2" cy="1486.7" r="1.4" stroke="none" fill="#000"/>
<circle cx="399.7" cy="1521.7" r="1.3" stroke="none" fill="#000"/>
<line x1="361.6" y1="1533.0" x2="362.2" y2="1536.2" stroke-width="1.9" stroke-linecap="round"/>
<circle cx="411.9" cy="1467.6" r="1.3" stroke="none" fill="#000"/>
<circle cx="386.7" cy="1558.4" r="1.1" stroke="none" fill="#000"/>
<circle cx="392.3" cy="1508.7" r="1.6" stroke="none" fill="#000"/>
<circle cx="350.7" cy="1539.8" r="1.3" stroke="none" fill="#000"/>
<line x1="416.5" y1="1472.4" x2="420.5" y2="1473.3" stroke-width="2.3" stroke-linecap="round"/>
<circle cx="334.9" cy="1477.2" r="1.5" stroke="none" fill="#000"/>
<circle cx="318.2" cy="1490.2" r="1.8" stroke="none" fill="#000"/>
<line x1="319.4" y1="1525.1" x2="322.4" y2="1525.7" stroke-width="1.9" stroke-linecap="round"/>
<circle cx="401.5" cy="1540.4" r="1.6" stroke="none" fill="#000"/>
<line x1="411.3" y1="1469.5" x2="417.1" y2="1471.3" stroke-width="2.8" stroke-linecap="round"/>
<circle cx="387.7" cy="1483.6" r="1.7" stroke="none" fill="#000"/><path d="M903,934.5 L863,934.5 Q857,934.5 857,942 L859.3,1406 Q860,1416.3 870,1416.3 L908.5,1416.3" stroke-width="3.6" stroke-linejoin="round"/>
<rect x="845" y="977.5" width="7" height="20" rx="2" stroke-width="3"/><rect x="851.5" y="968.5" width="5" height="38" stroke-width="2.6"/>
<rect x="846" y="1356" width="9.5" height="23" rx="3" stroke-width="3"/><rect x="855.3" y="1347.5" width="5" height="40" stroke-width="2.6"/>
<path d="M903,859.5 L911.2,1572" stroke-width="3"/>
<clipPath id="cp8"><polygon points="955.2,900.0 973.0,900.0 974.6,1054.8 957.3,1062.4"/></clipPath><path d="M792.8,1062.4L955.2,900.0M800.8,1062.4L963.2,900.0M808.8,1062.4L971.2,900.0M816.8,1062.4L979.2,900.0M824.8,1062.4L987.2,900.0M832.8,1062.4L995.2,900.0M840.8,1062.4L1003.2,900.0M848.8,1062.4L1011.2,900.0M856.8,1062.4L1019.2,900.0M864.8,1062.4L1027.2,900.0M872.8,1062.4L1035.2,900.0M880.8,1062.4L1043.2,900.0M888.8,1062.4L1051.2,900.0M896.8,1062.4L1059.2,900.0M904.8,1062.4L1067.2,900.0M912.8,1062.4L1075.2,900.0M920.8,1062.4L1083.2,900.0M928.8,1062.4L1091.2,900.0M936.8,1062.4L1099.2,900.0M944.8,1062.4L1107.2,900.0M952.8,1062.4L1115.2,900.0M960.8,1062.4L1123.2,900.0M968.8,1062.4L1131.2,900.0M976.8,1062.4L1139.2,900.0M984.8,1062.4L1147.2,900.0M992.8,1062.4L1155.2,900.0M1000.8,1062.4L1163.2,900.0M1008.8,1062.4L1171.2,900.0M1016.8,1062.4L1179.2,900.0M1024.8,1062.4L1187.2,900.0M1032.8,1062.4L1195.2,900.0M1040.8,1062.4L1203.2,900.0M1048.8,1062.4L1211.2,900.0M1056.8,1062.4L1219.2,900.0M1064.8,1062.4L1227.2,900.0M1072.8,1062.4L1235.2,900.0M1080.8,1062.4L1243.2,900.0M1088.8,1062.4L1251.2,900.0M1096.8,1062.4L1259.2,900.0M1104.8,1062.4L1267.2,900.0M1112.8,1062.4L1275.2,900.0M1120.8,1062.4L1283.2,900.0M1128.8,1062.4L1291.2,900.0M1136.8,1062.4L1299.2,900.0" stroke-width="1.8" clip-path="url(#cp8)"/>
<clipPath id="cp9"><polygon points="959.9,1253.0 976.6,1253.0 977.7,1362.0 961.3,1362.0"/></clipPath><path d="M850.9,1253.0L959.9,1362.0M858.9,1253.0L967.9,1362.0M866.9,1253.0L975.9,1362.0M874.9,1253.0L983.9,1362.0M882.9,1253.0L991.9,1362.0M890.9,1253.0L999.9,1362.0M898.9,1253.0L1007.9,1362.0M906.9,1253.0L1015.9,1362.0M914.9,1253.0L1023.9,1362.0M922.9,1253.0L1031.9,1362.0M930.9,1253.0L1039.9,1362.0M938.9,1253.0L1047.9,1362.0M946.9,1253.0L1055.9,1362.0M954.9,1253.0L1063.9,1362.0M962.9,1253.0L1071.9,1362.0M970.9,1253.0L1079.9,1362.0M978.9,1253.0L1087.9,1362.0M986.9,1253.0L1095.9,1362.0M994.9,1253.0L1103.9,1362.0M1002.9,1253.0L1111.9,1362.0M1010.9,1253.0L1119.9,1362.0M1018.9,1253.0L1127.9,1362.0M1026.9,1253.0L1135.9,1362.0M1034.9,1253.0L1143.9,1362.0M1042.9,1253.0L1151.9,1362.0M1050.9,1253.0L1159.9,1362.0M1058.9,1253.0L1167.9,1362.0M1066.9,1253.0L1175.9,1362.0M1074.9,1253.0L1183.9,1362.0M1082.9,1253.0L1191.9,1362.0" stroke-width="1.8" clip-path="url(#cp9)"/>
<clipPath id="cp10"><polygon points="961.3,1362.0 977.7,1362.0 978.7,1455.0 962.6,1455.0"/></clipPath><path d="M868.3,1455.0L961.3,1362.0M876.3,1455.0L969.3,1362.0M884.3,1455.0L977.3,1362.0M892.3,1455.0L985.3,1362.0M900.3,1455.0L993.3,1362.0M908.3,1455.0L1001.3,1362.0M916.3,1455.0L1009.3,1362.0M924.3,1455.0L1017.3,1362.0M932.3,1455.0L1025.3,1362.0M940.3,1455.0L1033.3,1362.0M948.3,1455.0L1041.3,1362.0M956.3,1455.0L1049.3,1362.0M964.3,1455.0L1057.3,1362.0M972.3,1455.0L1065.3,1362.0M980.3,1455.0L1073.3,1362.0M988.3,1455.0L1081.3,1362.0M996.3,1455.0L1089.3,1362.0M1004.3,1455.0L1097.3,1362.0M1012.3,1455.0L1105.3,1362.0M1020.3,1455.0L1113.3,1362.0M1028.3,1455.0L1121.3,1362.0M1036.3,1455.0L1129.3,1362.0M1044.3,1455.0L1137.3,1362.0M1052.3,1455.0L1145.3,1362.0M1060.3,1455.0L1153.3,1362.0M1068.3,1455.0L1161.3,1362.0" stroke-width="1.8" clip-path="url(#cp10)"/>
<path d="M955.1,894.5 L957.3,1062.4 M959.9,1253 L964.0,1563" stroke-width="2.8"/>
<path d="M972.9,886.8 L974.6,1055 M976.2,1210 L979.8,1563" stroke-width="3.8"/>
<path d="M962.6,1458.5 L978.7,1458.5" stroke-width="6"/>
<path d="M955.5,934 L973.5,934 M956,1040 L974,1040 M961.3,1362 L977.7,1362" stroke-width="1.5"/>
<path d="M904.2,1040 L955.7,1040" stroke-width="3"/>
<clipPath id="cp11"><polygon points="904.5,1041.0 955.5,1041.0 955.5,1062.4 921.4,1076.2 904.5,1076.0"/></clipPath><path d="M869.3,1041.0L904.5,1076.2M876.3,1041.0L911.5,1076.2M883.3,1041.0L918.5,1076.2M890.3,1041.0L925.5,1076.2M897.3,1041.0L932.5,1076.2M904.3,1041.0L939.5,1076.2M911.3,1041.0L946.5,1076.2M918.3,1041.0L953.5,1076.2M925.3,1041.0L960.5,1076.2M932.3,1041.0L967.5,1076.2M939.3,1041.0L974.5,1076.2M946.3,1041.0L981.5,1076.2M953.3,1041.0L988.5,1076.2M960.3,1041.0L995.5,1076.2M967.3,1041.0L1002.5,1076.2M974.3,1041.0L1009.5,1076.2M981.3,1041.0L1016.5,1076.2M988.3,1041.0L1023.5,1076.2" stroke-width="1.5" clip-path="url(#cp11)"/>
<clipPath id="cp12"><polygon points="904.5,1076.0 921.4,1076.2 921.4,1131.0 932.8,1143.7 932.8,1253.0 904.5,1253.0"/></clipPath><path d="M727.5,1253.0L904.5,1076.0M733.5,1253.0L910.5,1076.0M739.5,1253.0L916.5,1076.0M745.5,1253.0L922.5,1076.0M751.5,1253.0L928.5,1076.0M757.5,1253.0L934.5,1076.0M763.5,1253.0L940.5,1076.0M769.5,1253.0L946.5,1076.0M775.5,1253.0L952.5,1076.0M781.5,1253.0L958.5,1076.0M787.5,1253.0L964.5,1076.0M793.5,1253.0L970.5,1076.0M799.5,1253.0L976.5,1076.0M805.5,1253.0L982.5,1076.0M811.5,1253.0L988.5,1076.0M817.5,1253.0L994.5,1076.0M823.5,1253.0L1000.5,1076.0M829.5,1253.0L1006.5,1076.0M835.5,1253.0L1012.5,1076.0M841.5,1253.0L1018.5,1076.0M847.5,1253.0L1024.5,1076.0M853.5,1253.0L1030.5,1076.0M859.5,1253.0L1036.5,1076.0M865.5,1253.0L1042.5,1076.0M871.5,1253.0L1048.5,1076.0M877.5,1253.0L1054.5,1076.0M883.5,1253.0L1060.5,1076.0M889.5,1253.0L1066.5,1076.0M895.5,1253.0L1072.5,1076.0M901.5,1253.0L1078.5,1076.0M907.5,1253.0L1084.5,1076.0M913.5,1253.0L1090.5,1076.0M919.5,1253.0L1096.5,1076.0M925.5,1253.0L1102.5,1076.0M931.5,1253.0L1108.5,1076.0M937.5,1253.0L1114.5,1076.0M943.5,1253.0L1120.5,1076.0M949.5,1253.0L1126.5,1076.0M955.5,1253.0L1132.5,1076.0M961.5,1253.0L1138.5,1076.0M967.5,1253.0L1144.5,1076.0M973.5,1253.0L1150.5,1076.0M979.5,1253.0L1156.5,1076.0M985.5,1253.0L1162.5,1076.0M991.5,1253.0L1168.5,1076.0M997.5,1253.0L1174.5,1076.0M1003.5,1253.0L1180.5,1076.0M1009.5,1253.0L1186.5,1076.0M1015.5,1253.0L1192.5,1076.0M1021.5,1253.0L1198.5,1076.0M1027.5,1253.0L1204.5,1076.0M1033.5,1253.0L1210.5,1076.0M1039.5,1253.0L1216.5,1076.0M1045.5,1253.0L1222.5,1076.0M1051.5,1253.0L1228.5,1076.0M1057.5,1253.0L1234.5,1076.0M1063.5,1253.0L1240.5,1076.0M1069.5,1253.0L1246.5,1076.0M1075.5,1253.0L1252.5,1076.0M1081.5,1253.0L1258.5,1076.0M1087.5,1253.0L1264.5,1076.0M1093.5,1253.0L1270.5,1076.0M1099.5,1253.0L1276.5,1076.0M1105.5,1253.0L1282.5,1076.0" stroke-width="1.7" clip-path="url(#cp12)"/>
<clipPath id="cp13"><polygon points="904.5,1076.0 921.4,1076.2 921.4,1131.0 932.8,1143.7 932.8,1253.0 904.5,1253.0"/></clipPath><path d="M727.5,1076.0L904.5,1253.0M738.5,1076.0L915.5,1253.0M749.5,1076.0L926.5,1253.0M760.5,1076.0L937.5,1253.0M771.5,1076.0L948.5,1253.0M782.5,1076.0L959.5,1253.0M793.5,1076.0L970.5,1253.0M804.5,1076.0L981.5,1253.0M815.5,1076.0L992.5,1253.0M826.5,1076.0L1003.5,1253.0M837.5,1076.0L1014.5,1253.0M848.5,1076.0L1025.5,1253.0M859.5,1076.0L1036.5,1253.0M870.5,1076.0L1047.5,1253.0M881.5,1076.0L1058.5,1253.0M892.5,1076.0L1069.5,1253.0M903.5,1076.0L1080.5,1253.0M914.5,1076.0L1091.5,1253.0M925.5,1076.0L1102.5,1253.0M936.5,1076.0L1113.5,1253.0M947.5,1076.0L1124.5,1253.0M958.5,1076.0L1135.5,1253.0M969.5,1076.0L1146.5,1253.0M980.5,1076.0L1157.5,1253.0M991.5,1076.0L1168.5,1253.0M1002.5,1076.0L1179.5,1253.0M1013.5,1076.0L1190.5,1253.0M1024.5,1076.0L1201.5,1253.0M1035.5,1076.0L1212.5,1253.0M1046.5,1076.0L1223.5,1253.0M1057.5,1076.0L1234.5,1253.0M1068.5,1076.0L1245.5,1253.0M1079.5,1076.0L1256.5,1253.0M1090.5,1076.0L1267.5,1253.0M1101.5,1076.0L1278.5,1253.0" stroke-width="1.5" clip-path="url(#cp13)"/>
<path d="M906,1090 C912,1100 916,1120 921,1128 M906,1150 C914,1165 925,1185 932,1200 M908,1200 C915,1215 922,1230 930,1245 M906,1120 C912,1140 918,1150 921,1160" stroke-width="1.5"/>
<path d="M904.5,1052 L913,1062 L918,1076 L904.5,1076Z" stroke-width="2" fill="#000"/>
<path d="M921.4,1076.2 L974.8,1054.6" stroke-width="2.6"/>
<path d="M921.4,1076 L921.4,1131 Q932.8,1138 932.8,1150 L932.8,1253" stroke-width="2.4" fill="none"/>
<clipPath id="cp14"><polygon points="932.8,1180.5 945.5,1180.5 945.5,1253.0 932.8,1253.0"/></clipPath><path d="M860.3,1180.5L932.8,1253.0M865.3,1180.5L937.8,1253.0M870.3,1180.5L942.8,1253.0M875.3,1180.5L947.8,1253.0M880.3,1180.5L952.8,1253.0M885.3,1180.5L957.8,1253.0M890.3,1180.5L962.8,1253.0M895.3,1180.5L967.8,1253.0M900.3,1180.5L972.8,1253.0M905.3,1180.5L977.8,1253.0M910.3,1180.5L982.8,1253.0M915.3,1180.5L987.8,1253.0M920.3,1180.5L992.8,1253.0M925.3,1180.5L997.8,1253.0M930.3,1180.5L1002.8,1253.0M935.3,1180.5L1007.8,1253.0M940.3,1180.5L1012.8,1253.0M945.3,1180.5L1017.8,1253.0M950.3,1180.5L1022.8,1253.0M955.3,1180.5L1027.8,1253.0M960.3,1180.5L1032.8,1253.0M965.3,1180.5L1037.8,1253.0M970.3,1180.5L1042.8,1253.0M975.3,1180.5L1047.8,1253.0M980.3,1180.5L1052.8,1253.0M985.3,1180.5L1057.8,1253.0M990.3,1180.5L1062.8,1253.0M995.3,1180.5L1067.8,1253.0M1000.3,1180.5L1072.8,1253.0M1005.3,1180.5L1077.8,1253.0M1010.3,1180.5L1082.8,1253.0M1015.3,1180.5L1087.8,1253.0" stroke-width="1.4" clip-path="url(#cp14)"/><polygon points="932.8,1180.5 945.5,1180.5 945.5,1253.0 932.8,1253.0" stroke-width="2.4"/>
<clipPath id="cp15"><polygon points="945.5,1167.8 960.2,1167.8 960.2,1253.0 945.5,1253.0"/></clipPath><path d="M860.3,1167.8L945.5,1253.0M866.3,1167.8L951.5,1253.0M872.3,1167.8L957.5,1253.0M878.3,1167.8L963.5,1253.0M884.3,1167.8L969.5,1253.0M890.3,1167.8L975.5,1253.0M896.3,1167.8L981.5,1253.0M902.3,1167.8L987.5,1253.0M908.3,1167.8L993.5,1253.0M914.3,1167.8L999.5,1253.0M920.3,1167.8L1005.5,1253.0M926.3,1167.8L1011.5,1253.0M932.3,1167.8L1017.5,1253.0M938.3,1167.8L1023.5,1253.0M944.3,1167.8L1029.5,1253.0M950.3,1167.8L1035.5,1253.0M956.3,1167.8L1041.5,1253.0M962.3,1167.8L1047.5,1253.0M968.3,1167.8L1053.5,1253.0M974.3,1167.8L1059.5,1253.0M980.3,1167.8L1065.5,1253.0M986.3,1167.8L1071.5,1253.0M992.3,1167.8L1077.5,1253.0M998.3,1167.8L1083.5,1253.0M1004.3,1167.8L1089.5,1253.0M1010.3,1167.8L1095.5,1253.0M1016.3,1167.8L1101.5,1253.0M1022.3,1167.8L1107.5,1253.0M1028.3,1167.8L1113.5,1253.0M1034.3,1167.8L1119.5,1253.0M1040.3,1167.8L1125.5,1253.0" stroke-width="1.5" clip-path="url(#cp15)"/><polygon points="945.5,1167.8 960.2,1167.8 960.2,1253.0 945.5,1253.0" stroke-width="2.6"/>
<clipPath id="cp16"><polygon points="960.2,1210.4 977.0,1210.4 977.0,1253.0 960.2,1253.0"/></clipPath><path d="M917.6,1253.0L960.2,1210.4M922.6,1253.0L965.2,1210.4M927.6,1253.0L970.2,1210.4M932.6,1253.0L975.2,1210.4M937.6,1253.0L980.2,1210.4M942.6,1253.0L985.2,1210.4M947.6,1253.0L990.2,1210.4M952.6,1253.0L995.2,1210.4M957.6,1253.0L1000.2,1210.4M962.6,1253.0L1005.2,1210.4M967.6,1253.0L1010.2,1210.4M972.6,1253.0L1015.2,1210.4M977.6,1253.0L1020.2,1210.4M982.6,1253.0L1025.2,1210.4M987.6,1253.0L1030.2,1210.4M992.6,1253.0L1035.2,1210.4M997.6,1253.0L1040.2,1210.4M1002.6,1253.0L1045.2,1210.4M1007.6,1253.0L1050.2,1210.4M1012.6,1253.0L1055.2,1210.4M1017.6,1253.0L1060.2,1210.4" stroke-width="1.5" clip-path="url(#cp16)"/><polygon points="960.2,1210.4 977.0,1210.4 977.0,1253.0 960.2,1253.0" stroke-width="2.4"/>
<path d="M906,1253 L977.3,1253" stroke-width="3.2"/>
<path d="M904.7,1040 L907,1253" stroke-width="3.6"/>
<path d="M974.8,1054.6 L987.5,1048.2 L1000.2,1040.6 L1020.5,1034.2 L1030,1033.4 L1041.9,1030.7 C1046,1032 1049,1041 1051.6,1041 C1056,1041 1062,1036 1066.7,1034.4 C1070,1031 1073,1029 1075.4,1029 C1082,1029 1088,1033 1096,1036" stroke-width="3.2" stroke-linejoin="round"/>
<clipPath id="cp17"><polygon points="1095.9,918.0 1117.0,918.0 1121.3,1353.0 1101.7,1353.0"/></clipPath><path d="M660.9,1353.0L1095.9,918.0M668.9,1353.0L1103.9,918.0M676.9,1353.0L1111.9,918.0M684.9,1353.0L1119.9,918.0M692.9,1353.0L1127.9,918.0M700.9,1353.0L1135.9,918.0M708.9,1353.0L1143.9,918.0M716.9,1353.0L1151.9,918.0M724.9,1353.0L1159.9,918.0M732.9,1353.0L1167.9,918.0M740.9,1353.0L1175.9,918.0M748.9,1353.0L1183.9,918.0M756.9,1353.0L1191.9,918.0M764.9,1353.0L1199.9,918.0M772.9,1353.0L1207.9,918.0M780.9,1353.0L1215.9,918.0M788.9,1353.0L1223.9,918.0M796.9,1353.0L1231.9,918.0M804.9,1353.0L1239.9,918.0M812.9,1353.0L1247.9,918.0M820.9,1353.0L1255.9,918.0M828.9,1353.0L1263.9,918.0M836.9,1353.0L1271.9,918.0M844.9,1353.0L1279.9,918.0M852.9,1353.0L1287.9,918.0M860.9,1353.0L1295.9,918.0M868.9,1353.0L1303.9,918.0M876.9,1353.0L1311.9,918.0M884.9,1353.0L1319.9,918.0M892.9,1353.0L1327.9,918.0M900.9,1353.0L1335.9,918.0M908.9,1353.0L1343.9,918.0M916.9,1353.0L1351.9,918.0M924.9,1353.0L1359.9,918.0M932.9,1353.0L1367.9,918.0M940.9,1353.0L1375.9,918.0M948.9,1353.0L1383.9,918.0M956.9,1353.0L1391.9,918.0M964.9,1353.0L1399.9,918.0M972.9,1353.0L1407.9,918.0M980.9,1353.0L1415.9,918.0M988.9,1353.0L1423.9,918.0M996.9,1353.0L1431.9,918.0M1004.9,1353.0L1439.9,918.0M1012.9,1353.0L1447.9,918.0M1020.9,1353.0L1455.9,918.0M1028.9,1353.0L1463.9,918.0M1036.9,1353.0L1471.9,918.0M1044.9,1353.0L1479.9,918.0M1052.9,1353.0L1487.9,918.0M1060.9,1353.0L1495.9,918.0M1068.9,1353.0L1503.9,918.0M1076.9,1353.0L1511.9,918.0M1084.9,1353.0L1519.9,918.0M1092.9,1353.0L1527.9,918.0M1100.9,1353.0L1535.9,918.0M1108.9,1353.0L1543.9,918.0M1116.9,1353.0L1551.9,918.0M1124.9,1353.0L1559.9,918.0M1132.9,1353.0L1567.9,918.0M1140.9,1353.0L1575.9,918.0M1148.9,1353.0L1583.9,918.0M1156.9,1353.0L1591.9,918.0M1164.9,1353.0L1599.9,918.0M1172.9,1353.0L1607.9,918.0M1180.9,1353.0L1615.9,918.0M1188.9,1353.0L1623.9,918.0M1196.9,1353.0L1631.9,918.0M1204.9,1353.0L1639.9,918.0M1212.9,1353.0L1647.9,918.0M1220.9,1353.0L1655.9,918.0M1228.9,1353.0L1663.9,918.0M1236.9,1353.0L1671.9,918.0M1244.9,1353.0L1679.9,918.0M1252.9,1353.0L1687.9,918.0M1260.9,1353.0L1695.9,918.0M1268.9,1353.0L1703.9,918.0M1276.9,1353.0L1711.9,918.0M1284.9,1353.0L1719.9,918.0M1292.9,1353.0L1727.9,918.0M1300.9,1353.0L1735.9,918.0M1308.9,1353.0L1743.9,918.0M1316.9,1353.0L1751.9,918.0M1324.9,1353.0L1759.9,918.0M1332.9,1353.0L1767.9,918.0M1340.9,1353.0L1775.9,918.0M1348.9,1353.0L1783.9,918.0M1356.9,1353.0L1791.9,918.0M1364.9,1353.0L1799.9,918.0M1372.9,1353.0L1807.9,918.0M1380.9,1353.0L1815.9,918.0M1388.9,1353.0L1823.9,918.0M1396.9,1353.0L1831.9,918.0M1404.9,1353.0L1839.9,918.0M1412.9,1353.0L1847.9,918.0M1420.9,1353.0L1855.9,918.0M1428.9,1353.0L1863.9,918.0M1436.9,1353.0L1871.9,918.0M1444.9,1353.0L1879.9,918.0M1452.9,1353.0L1887.9,918.0M1460.9,1353.0L1895.9,918.0M1468.9,1353.0L1903.9,918.0M1476.9,1353.0L1911.9,918.0M1484.9,1353.0L1919.9,918.0M1492.9,1353.0L1927.9,918.0M1500.9,1353.0L1935.9,918.0M1508.9,1353.0L1943.9,918.0M1516.9,1353.0L1951.9,918.0M1524.9,1353.0L1959.9,918.0M1532.9,1353.0L1967.9,918.0M1540.9,1353.0L1975.9,918.0M1548.9,1353.0L1983.9,918.0" stroke-width="1.8" clip-path="url(#cp17)"/>
<path d="M1095.9,917.8 L1101.7,1356" stroke-width="2.8"/>
<path d="M1116.9,912.4 L1121.3,1410.6" stroke-width="3.9"/>
<path d="M1101.7,1354.5 L1121,1354.5" stroke-width="4.5"/>
<path d="M1096,938.3 L1117,938.3 M1096.5,1035.5 L1118,1035.5" stroke-width="1.6"/>
<path d="M1101.7,1356 L1106.9,1558.6" stroke-width="4.6" stroke-linecap="round"/>
<path d="M1118.6,927.5 L1153,927.5 Q1161.2,928 1161.2,937 L1168,1290 L1170,1402 Q1170,1410.6 1162,1410.6 L1121.3,1410.6" stroke-width="3.8" stroke-linejoin="round"/>
<rect x="1162.5" y="961" width="7" height="39" stroke-width="2.6"/>
<path d="M1170,975 L1176,962 C1173,950 1178,942 1183,943 C1189,944 1188,955 1184,962 L1178,972" stroke-width="3"/>
<path d="M1178,973 L1184.5,980 L1180,990 Z" stroke-width="2.5" fill="#000"/>
<rect x="1168.5" y="1341" width="7.5" height="43" stroke-width="3"/>
<path d="M1176,1355 L1181,1342 C1176,1330 1181,1320 1187,1320 C1193,1321 1193,1332 1189,1341 L1183,1352" stroke-width="3"/>
<path d="M1183,1354 L1190,1360 L1184,1373 Z" stroke-width="2.5" fill="#000"/>
<circle cx="1142.8" cy="1387.8" r="9.5" stroke-width="2.6"/><circle cx="1142.8" cy="1387.8" r="5" stroke-width="1.6"/>
<path d="M1142.8,1371 L1142.8,1406" stroke-width="5" stroke-linecap="round"/>
<path d="M866,979.6 L880,979.6 M887,979.6 L899,979.6 M911,979.6 L923,979.6 M932,979.6 L944,979.6 M866,986.6 L880,986.6 M888,986.6 L899,986.6 M911,986.6 L923,986.6 M932,986.6 L945,986.6" stroke-width="2.8"/>
<path d="M981,975.6 L996,975.6 M1006,975.6 L1018,975.6 M1030,975.6 L1044,975.6 M1055,975.6 L1072,975.6 M1085,975.6 L1096,975.6 M986,982.6 L998,982.6 M1016,982.6 L1035,982.6 M1046,982.6 L1066,982.6 M1077,982.6 L1095,982.6" stroke-width="2.6"/>
<path d="M1121,975.6 L1133,975.6 M1148,975.6 L1160,975.6 M1130,982.6 L1146,982.6 M1155,982.6 L1160,982.6 M1133.7,933 L1133.7,1008.5 M930.5,973 L931.5,1000.6" stroke-width="2.2"/>
<path d="M873,1361.6 L884,1361.6 M891,1361.6 L905,1361.6 M918,1361.6 L929,1361.6 M938,1361.6 L953,1361.6 M876,1369.2 L888,1369.2 M901,1369.2 L917,1369.2 M934,1369.2 L950,1369.2" stroke-width="2.8"/>
<path d="M990,1358 L1008,1358 M1020,1358 L1035,1358 M1045,1358 L1063,1358 M1072,1358 L1096,1358 M1000,1366 L1018,1366 M1030,1366 L1050,1366 M1085,1366 L1096,1366" stroke-width="2.6"/>
<path d="M1128,1355.8 L1138,1355.8 M1148,1355.8 L1161,1355.8 M1131,1364.3 L1146,1364.3 M1155,1364.3 L1161,1364.3 M869.5,1344 L871,1400 M916,1359 L917,1383" stroke-width="2.2"/>
<path d="M863,941 L864,1082" stroke-width="2"/>
<path d="M872,941 L871.5,970" stroke-width="2"/>
<path d="M880,939 L880,953" stroke-width="2"/>
<path d="M890,937 L890,949" stroke-width="2"/>
<path d="M871,990 L873,1030" stroke-width="2"/>
<path d="M871,1042 L872,1096" stroke-width="2"/>
<path d="M880,1077 L880,1100" stroke-width="2"/>
<path d="M913,884 L909,941" stroke-width="2"/>
<path d="M917,920 L918,975" stroke-width="2"/>
<path d="M926,929 L929,970" stroke-width="2"/>
<path d="M925,975 L927,1010" stroke-width="2"/>
<path d="M867,1170 L868,1240" stroke-width="2"/>
<path d="M877,1180 L874,1260" stroke-width="2"/>
<path d="M866,1282 L869,1350" stroke-width="2"/>
<path d="M870,1360 L872,1397" stroke-width="2"/>
<path d="M880,1373 L881,1388" stroke-width="2"/>
<path d="M919,1302 L919.5,1342" stroke-width="2"/>
<path d="M922,1365 L923,1380" stroke-width="2"/>
<path d="M924,1395 L926,1460" stroke-width="2"/>
<path d="M933,1395 L933,1454" stroke-width="2"/>
<path d="M939,1395 L941,1417" stroke-width="2"/>
<path d="M945,1385 L946,1397" stroke-width="2"/>
<path d="M924,1415 L925,1494" stroke-width="2"/>
<path d="M932,1406 L934,1455" stroke-width="2"/>
<path d="M926,1258 L925,1290" stroke-width="2"/>
<path d="M933,1258 L932,1275" stroke-width="2"/>
<path d="M943,1262 L944,1275" stroke-width="2"/>
<path d="M1135,933 L1135.5,955" stroke-width="2"/>
<path d="M1143,932 L1144,969" stroke-width="2"/>
<path d="M1152,929 L1152,962" stroke-width="2"/>
<path d="M1159,931 L1160,947" stroke-width="2"/>
<path d="M1134,1076 L1136,1115" stroke-width="2"/>
<path d="M1143,1095 L1144,1180" stroke-width="2"/>
<path d="M1133,1290 L1137,1342" stroke-width="2"/>
<path d="M1143,1299 L1145,1355" stroke-width="2"/>
<path d="M917,1583 L920,1578" stroke-width="2.5"/>
<path d="M1050.7,1374.5C1050.9,1374.8 1051.9,1375.7 1052.0,1376.3C1052.0,1376.9 1051.5,1377.7 1050.9,1378.2C1050.3,1378.7 1049.3,1379.3 1048.4,1379.5C1047.5,1379.7 1046.1,1379.6 1045.3,1379.2C1044.5,1378.9 1043.9,1377.7 1043.6,1377.4" stroke-width="3.1" stroke-linecap="round"/>
<path d="M992.4,1270.5C992.8,1270.1 994.0,1268.3 995.0,1268.1C996.0,1267.8 997.4,1268.4 998.4,1268.8C999.4,1269.2 1000.7,1269.7 1001.0,1270.5C1001.3,1271.3 1000.4,1273.1 1000.3,1273.6" stroke-width="2.9" stroke-linecap="round"/>
<path d="M1085.9,1437.4C1086.6,1437.5 1087.4,1438.5 1087.9,1439.3C1088.4,1440.1 1088.8,1441.1 1088.8,1442.1C1088.8,1443.1 1088.4,1444.7 1087.8,1445.3C1087.2,1445.9 1086.1,1445.9 1085.2,1445.8C1084.4,1445.8 1083.3,1445.6 1082.7,1444.9C1082.2,1444.2 1081.8,1442.6 1082.0,1441.6C1082.1,1440.5 1082.8,1439.4 1083.5,1438.7C1084.1,1438.0 1085.1,1437.3 1085.9,1437.4Z" stroke-width="2.9" stroke-linecap="round"/>
<path d="M1008.2,1297.5C1008.5,1296.6 1009.1,1295.5 1010.1,1295.1C1011.0,1294.7 1012.6,1294.7 1013.7,1295.1C1014.8,1295.5 1016.2,1296.4 1016.7,1297.3C1017.2,1298.1 1017.0,1299.4 1016.7,1300.3C1016.4,1301.1 1015.6,1302.0 1014.7,1302.3C1013.7,1302.7 1012.4,1302.8 1011.3,1302.5C1010.2,1302.3 1008.5,1301.5 1008.0,1300.7C1007.5,1299.8 1007.8,1298.4 1008.2,1297.5Z" stroke-width="3.0" stroke-linecap="round"/>
<path d="M1067.4,1457.3C1066.8,1456.6 1066.2,1455.5 1066.3,1454.4C1066.4,1453.4 1067.1,1451.8 1067.9,1451.1C1068.7,1450.3 1070.1,1450.0 1071.2,1449.9C1072.3,1449.7 1073.7,1449.7 1074.4,1450.3C1075.1,1450.9 1075.5,1452.4 1075.4,1453.4C1075.2,1454.5 1074.3,1455.7 1073.5,1456.6C1072.6,1457.4 1071.3,1458.3 1070.3,1458.4C1069.3,1458.5 1068.1,1458.0 1067.4,1457.3Z" stroke-width="2.8" stroke-linecap="round"/>
<path d="M1080.6,1116.6C1081.1,1116.6 1082.9,1116.4 1083.8,1116.8C1084.7,1117.2 1085.5,1118.3 1085.9,1119.1C1086.4,1120.0 1086.8,1121.3 1086.5,1122.1C1086.2,1122.9 1085.0,1123.5 1084.0,1123.8C1083.0,1124.1 1081.1,1123.8 1080.6,1123.8" stroke-width="3.3" stroke-linecap="round"/>
<path d="M1015.2,1167.4C1015.4,1168.3 1014.4,1169.8 1013.6,1170.7C1012.8,1171.6 1011.7,1172.5 1010.4,1172.9C1009.1,1173.3 1007.1,1173.7 1006.0,1173.3C1004.8,1172.9 1003.7,1171.6 1003.4,1170.5C1003.1,1169.5 1003.4,1167.8 1004.2,1166.9C1005.0,1165.9 1006.8,1165.0 1008.2,1164.6C1009.6,1164.3 1011.3,1164.5 1012.4,1165.0C1013.6,1165.4 1015.0,1166.4 1015.2,1167.4Z" stroke-width="3.2" stroke-linecap="round"/>
<path d="M1020.0,1177.1C1020.7,1177.1 1021.7,1177.7 1022.0,1178.6C1022.4,1179.4 1022.1,1181.0 1022.0,1182.1C1021.8,1183.3 1021.6,1184.6 1021.1,1185.4C1020.6,1186.1 1019.7,1186.6 1019.0,1186.6C1018.3,1186.5 1017.4,1185.9 1017.0,1185.1C1016.6,1184.3 1016.5,1182.6 1016.7,1181.5C1016.9,1180.5 1017.5,1179.3 1018.0,1178.6C1018.6,1177.9 1019.4,1177.1 1020.0,1177.1Z" stroke-width="3.3" stroke-linecap="round"/>
<path d="M943.7,1086.9C943.2,1086.3 941.0,1084.4 940.6,1083.3C940.2,1082.2 940.7,1081.1 941.2,1080.3C941.7,1079.6 942.6,1078.8 943.7,1078.8C944.9,1078.8 946.7,1079.7 947.9,1080.5C949.1,1081.3 950.5,1083.2 951.0,1083.7" stroke-width="2.6" stroke-linecap="round"/>
<path d="M1056.7,1332.1C1056.5,1333.0 1055.4,1334.1 1054.3,1334.5C1053.3,1334.9 1051.6,1335.0 1050.6,1334.6C1049.5,1334.2 1048.7,1333.0 1048.2,1332.2C1047.6,1331.3 1047.0,1330.1 1047.2,1329.3C1047.4,1328.5 1048.6,1327.9 1049.5,1327.4C1050.5,1327.0 1051.9,1326.4 1052.9,1326.7C1053.9,1327.0 1054.8,1328.2 1055.5,1329.1C1056.1,1330.0 1056.9,1331.3 1056.7,1332.1Z" stroke-width="2.7" stroke-linecap="round"/>
<path d="M997.4,1196.7C997.9,1197.5 998.0,1198.8 997.7,1199.9C997.3,1201.0 996.4,1202.8 995.3,1203.5C994.2,1204.2 992.5,1204.2 991.3,1204.2C990.1,1204.1 988.7,1204.1 988.1,1203.4C987.6,1202.7 987.6,1201.2 988.0,1200.1C988.3,1199.0 989.3,1197.6 990.4,1196.7C991.5,1195.9 993.4,1195.0 994.6,1195.0C995.7,1195.0 996.8,1195.9 997.4,1196.7Z" stroke-width="3.1" stroke-linecap="round"/>
<path d="M1026.3,1062.0C1027.3,1062.5 1028.1,1063.5 1028.6,1064.6C1029.1,1065.7 1029.5,1067.6 1029.0,1068.6C1028.6,1069.7 1026.9,1070.5 1025.8,1070.8C1024.7,1071.2 1023.4,1071.3 1022.5,1070.9C1021.6,1070.5 1020.8,1069.5 1020.3,1068.5C1019.9,1067.4 1019.4,1065.8 1019.8,1064.7C1020.2,1063.5 1021.6,1062.1 1022.7,1061.7C1023.8,1061.2 1025.3,1061.5 1026.3,1062.0Z" stroke-width="3.0" stroke-linecap="round"/>
<path d="M1036.0,1272.0C1036.2,1271.3 1036.8,1270.6 1037.4,1270.3C1038.1,1269.9 1039.2,1269.8 1040.0,1269.9C1040.9,1270.0 1042.1,1270.3 1042.6,1270.7C1043.2,1271.2 1043.4,1272.1 1043.3,1272.7C1043.3,1273.4 1043.0,1274.2 1042.3,1274.7C1041.7,1275.1 1040.4,1275.4 1039.4,1275.3C1038.5,1275.2 1037.3,1274.6 1036.7,1274.1C1036.2,1273.5 1035.9,1272.6 1036.0,1272.0Z" stroke-width="2.7" stroke-linecap="round"/>
<path d="M1015.4,1374.0C1015.6,1374.7 1015.2,1375.7 1014.6,1376.4C1013.9,1377.0 1012.6,1377.8 1011.5,1378.1C1010.4,1378.4 1008.7,1378.5 1007.7,1378.2C1006.8,1377.9 1006.0,1377.0 1005.8,1376.3C1005.7,1375.5 1006.2,1374.5 1006.9,1373.8C1007.6,1373.1 1008.9,1372.3 1010.0,1372.0C1011.2,1371.7 1012.8,1371.8 1013.7,1372.1C1014.6,1372.5 1015.3,1373.3 1015.4,1374.0Z" stroke-width="3.1" stroke-linecap="round"/>
<path d="M995.1,1360.3C996.0,1360.7 996.4,1362.8 996.6,1364.1C996.9,1365.3 997.0,1366.8 996.5,1367.9C996.0,1369.0 994.7,1370.2 993.6,1370.7C992.4,1371.1 990.8,1371.2 989.8,1370.7C988.8,1370.1 988.1,1368.8 987.7,1367.6C987.4,1366.4 987.2,1364.6 987.8,1363.5C988.3,1362.5 989.8,1361.7 991.0,1361.2C992.2,1360.6 994.1,1359.8 995.1,1360.3Z" stroke-width="3.3" stroke-linecap="round"/>
<path d="M1011.4,1089.3C1011.8,1090.3 1011.6,1091.7 1010.9,1092.7C1010.3,1093.8 1008.9,1095.0 1007.6,1095.4C1006.3,1095.8 1004.3,1095.7 1003.2,1095.2C1002.1,1094.7 1001.4,1093.4 1001.1,1092.3C1000.7,1091.1 1000.3,1089.5 1001.0,1088.5C1001.7,1087.5 1003.7,1086.8 1005.1,1086.5C1006.4,1086.2 1008.1,1086.2 1009.1,1086.7C1010.2,1087.2 1011.1,1088.3 1011.4,1089.3Z" stroke-width="2.6" stroke-linecap="round"/>
<path d="M971.8,1131.3C971.3,1131.1 969.7,1130.8 969.0,1130.1C968.4,1129.5 967.4,1128.3 967.7,1127.3C968.0,1126.3 969.6,1125.1 970.7,1124.1C971.7,1123.2 973.6,1122.1 974.2,1121.7" stroke-width="2.7" stroke-linecap="round"/>
<path d="M1019.9,1087.2C1019.3,1087.0 1018.8,1085.8 1018.6,1085.1C1018.5,1084.3 1018.7,1083.3 1019.0,1082.4C1019.3,1081.5 1019.8,1080.4 1020.4,1079.9C1021.1,1079.4 1022.2,1079.3 1022.8,1079.5C1023.4,1079.8 1024.0,1080.7 1024.2,1081.5C1024.3,1082.3 1024.0,1083.4 1023.7,1084.2C1023.4,1085.0 1022.8,1085.8 1022.2,1086.3C1021.5,1086.8 1020.5,1087.4 1019.9,1087.2Z" stroke-width="2.9" stroke-linecap="round"/>
<path d="M1072.2,1488.2C1072.6,1489.0 1073.1,1490.2 1072.8,1491.0C1072.4,1491.8 1071.2,1492.5 1070.3,1493.1C1069.3,1493.6 1068.0,1494.3 1067.0,1494.1C1066.1,1494.0 1065.0,1493.0 1064.6,1492.1C1064.2,1491.3 1064.1,1489.9 1064.5,1489.0C1064.9,1488.1 1066.2,1487.3 1067.1,1486.9C1068.0,1486.5 1069.3,1486.4 1070.1,1486.6C1070.9,1486.8 1071.7,1487.5 1072.2,1488.2Z" stroke-width="3.0" stroke-linecap="round"/>
<path d="M1010.5,1462.3C1010.7,1462.7 1011.6,1463.7 1011.7,1464.7C1011.8,1465.8 1011.6,1467.3 1011.0,1468.4C1010.4,1469.5 1009.1,1470.9 1008.1,1471.3C1007.1,1471.7 1005.6,1471.0 1005.1,1470.9" stroke-width="2.5" stroke-linecap="round"/>
<path d="M1010.3,1398.8C1010.7,1398.4 1011.5,1397.8 1012.2,1398.1C1012.8,1398.3 1013.8,1399.4 1014.4,1400.2C1014.9,1401.0 1015.2,1402.1 1015.2,1402.9C1015.3,1403.6 1015.1,1404.6 1014.6,1404.9C1014.1,1405.3 1013.1,1405.4 1012.4,1405.1C1011.7,1404.8 1010.7,1403.8 1010.2,1403.1C1009.8,1402.3 1009.6,1401.3 1009.6,1400.5C1009.6,1399.8 1009.8,1399.2 1010.3,1398.8Z" stroke-width="2.7" stroke-linecap="round"/>
<path d="M983.3,1318.3C983.7,1317.8 984.7,1317.8 985.5,1318.0C986.2,1318.2 987.1,1318.9 987.8,1319.6C988.4,1320.2 989.3,1321.2 989.5,1322.0C989.7,1322.7 989.4,1323.7 988.9,1324.2C988.5,1324.6 987.5,1324.9 986.7,1324.7C986.0,1324.5 984.8,1323.7 984.2,1323.0C983.6,1322.3 983.2,1321.3 983.1,1320.5C982.9,1319.7 982.9,1318.7 983.3,1318.3Z" stroke-width="3.3" stroke-linecap="round"/>
<path d="M997.3,1541.6C997.6,1542.6 997.9,1543.8 997.5,1544.8C997.0,1545.8 995.9,1547.0 994.8,1547.5C993.7,1548.0 991.9,1548.1 990.8,1547.8C989.7,1547.4 988.4,1546.5 988.0,1545.6C987.6,1544.6 987.7,1542.9 988.3,1542.0C988.9,1541.0 990.3,1540.2 991.5,1539.7C992.6,1539.2 994.4,1538.4 995.4,1538.7C996.4,1539.1 996.9,1540.6 997.3,1541.6Z" stroke-width="3.2" stroke-linecap="round"/>
<path d="M1066.7,1431.2C1067.2,1431.6 1067.6,1432.6 1067.4,1433.4C1067.3,1434.1 1066.4,1435.2 1065.7,1435.9C1065.0,1436.6 1063.9,1437.3 1063.0,1437.5C1062.1,1437.7 1060.9,1437.5 1060.4,1436.9C1059.9,1436.4 1059.9,1435.1 1060.2,1434.2C1060.5,1433.4 1061.2,1432.3 1061.9,1431.7C1062.6,1431.1 1063.7,1430.6 1064.5,1430.5C1065.3,1430.4 1066.2,1430.7 1066.7,1431.2Z" stroke-width="3.0" stroke-linecap="round"/>
<path d="M1046.6,1148.9C1046.1,1149.6 1045.1,1150.3 1044.3,1150.4C1043.4,1150.4 1042.1,1149.8 1041.5,1149.1C1040.8,1148.5 1040.4,1147.5 1040.3,1146.7C1040.2,1145.8 1040.3,1144.9 1040.7,1144.3C1041.2,1143.6 1042.1,1143.1 1042.9,1143.0C1043.8,1142.9 1045.0,1143.2 1045.7,1143.8C1046.5,1144.3 1047.3,1145.5 1047.4,1146.3C1047.5,1147.2 1047.1,1148.2 1046.6,1148.9Z" stroke-width="3.0" stroke-linecap="round"/>
<path d="M995.9,1237.6C995.9,1236.8 996.4,1235.9 997.1,1235.4C997.8,1234.9 999.1,1234.7 1000.2,1234.6C1001.3,1234.5 1002.8,1234.4 1003.6,1234.8C1004.4,1235.2 1004.8,1236.2 1004.9,1237.0C1004.9,1237.7 1004.6,1238.7 1003.9,1239.3C1003.1,1239.9 1001.7,1240.4 1000.6,1240.4C999.5,1240.5 998.0,1240.2 997.2,1239.7C996.5,1239.3 995.9,1238.3 995.9,1237.6Z" stroke-width="2.8" stroke-linecap="round"/>
<path d="M1032.7,1344.9C1032.7,1345.7 1032.5,1346.7 1031.8,1347.3C1031.0,1347.9 1029.4,1348.4 1028.2,1348.4C1027.1,1348.4 1025.5,1347.9 1024.8,1347.3C1024.1,1346.7 1023.8,1345.8 1023.8,1345.1C1023.8,1344.3 1024.1,1343.5 1024.8,1342.9C1025.5,1342.3 1027.0,1341.6 1028.1,1341.6C1029.2,1341.6 1030.8,1342.1 1031.5,1342.7C1032.3,1343.3 1032.6,1344.2 1032.7,1344.9Z" stroke-width="2.8" stroke-linecap="round"/>
<path d="M1027.3,1412.8C1027.2,1412.2 1026.6,1410.3 1026.7,1409.1C1026.7,1407.8 1026.9,1406.1 1027.6,1405.1C1028.4,1404.1 1030.3,1403.0 1031.5,1402.9C1032.6,1402.8 1034.0,1403.6 1034.8,1404.3C1035.5,1405.1 1035.7,1407.0 1035.9,1407.6" stroke-width="3.0" stroke-linecap="round"/>
<path d="M1072.4,1172.3C1073.0,1172.0 1073.9,1172.1 1074.6,1172.5C1075.3,1172.9 1076.2,1173.8 1076.6,1174.6C1077.0,1175.5 1077.4,1176.9 1077.2,1177.7C1077.0,1178.5 1076.3,1179.1 1075.6,1179.4C1075.0,1179.6 1074.0,1179.9 1073.4,1179.5C1072.7,1179.1 1071.9,1177.9 1071.5,1177.0C1071.1,1176.0 1070.7,1174.7 1070.8,1173.9C1071.0,1173.1 1071.8,1172.5 1072.4,1172.3Z" stroke-width="2.6" stroke-linecap="round"/>
<path d="M1087.3,1388.1C1087.2,1388.9 1086.4,1389.8 1085.6,1390.3C1084.8,1390.7 1083.6,1391.0 1082.6,1390.9C1081.6,1390.8 1080.1,1390.4 1079.5,1389.7C1078.9,1389.1 1078.9,1387.9 1079.1,1387.0C1079.2,1386.2 1079.7,1385.2 1080.4,1384.7C1081.1,1384.2 1082.6,1383.9 1083.5,1384.1C1084.5,1384.3 1085.6,1385.0 1086.2,1385.6C1086.8,1386.3 1087.4,1387.3 1087.3,1388.1Z" stroke-width="3.1" stroke-linecap="round"/>
<path d="M1007.0,1148.9C1007.5,1149.3 1009.7,1150.6 1010.1,1151.6C1010.5,1152.6 1010.0,1154.1 1009.4,1154.9C1008.8,1155.8 1007.7,1156.5 1006.6,1156.6C1005.5,1156.7 1003.9,1156.3 1002.9,1155.6C1001.9,1155.0 1000.9,1153.2 1000.6,1152.7" stroke-width="3.0" stroke-linecap="round"/>
<path d="M966.9,1090.9C967.1,1091.4 968.2,1093.1 967.9,1094.0C967.6,1094.8 966.4,1095.5 965.2,1095.9C964.1,1096.3 962.6,1096.4 961.2,1096.2C959.9,1096.0 957.8,1094.7 957.1,1094.5" stroke-width="3.0" stroke-linecap="round"/>
<path d="M1033.7,1128.0C1034.1,1128.8 1033.8,1130.3 1033.1,1131.4C1032.4,1132.5 1030.9,1133.7 1029.6,1134.4C1028.3,1135.0 1026.3,1135.3 1025.2,1135.2C1024.1,1135.0 1023.3,1134.2 1022.9,1133.4C1022.5,1132.6 1022.5,1131.5 1023.1,1130.5C1023.6,1129.5 1024.9,1128.1 1026.1,1127.5C1027.3,1126.8 1029.2,1126.4 1030.5,1126.5C1031.8,1126.6 1033.3,1127.1 1033.7,1128.0Z" stroke-width="3.2" stroke-linecap="round"/>
<path d="M972.3,1084.8C971.6,1084.4 971.2,1083.3 971.1,1082.4C970.9,1081.6 971.0,1080.4 971.3,1079.7C971.7,1078.9 972.6,1078.3 973.4,1077.9C974.2,1077.5 975.3,1077.2 976.0,1077.5C976.6,1077.8 977.3,1078.9 977.4,1079.7C977.6,1080.5 977.3,1081.7 976.9,1082.5C976.5,1083.3 975.7,1084.1 974.9,1084.5C974.2,1084.9 972.9,1085.1 972.3,1084.8Z" stroke-width="2.8" stroke-linecap="round"/>
<path d="M1041.2,1288.0C1041.2,1288.5 1041.8,1290.0 1041.5,1291.0C1041.3,1291.9 1040.7,1293.2 1039.7,1293.5C1038.6,1293.9 1036.5,1293.4 1035.3,1292.8C1034.1,1292.3 1032.9,1291.3 1032.3,1290.4C1031.7,1289.4 1031.8,1287.9 1031.7,1287.4" stroke-width="3.2" stroke-linecap="round"/>
<path d="M986.3,1181.4C986.8,1180.6 988.1,1180.0 989.1,1180.0C990.2,1179.9 991.5,1180.3 992.4,1180.9C993.4,1181.5 994.7,1182.6 995.0,1183.6C995.3,1184.6 995.1,1186.2 994.5,1186.9C993.9,1187.6 992.5,1187.8 991.4,1187.9C990.3,1188.0 989.0,1188.1 988.0,1187.5C987.1,1187.0 986.1,1185.6 985.8,1184.6C985.5,1183.6 985.7,1182.2 986.3,1181.4Z" stroke-width="3.3" stroke-linecap="round"/>
<path d="M973.3,1170.8C974.4,1171.1 975.7,1172.3 976.2,1173.5C976.8,1174.8 976.9,1176.9 976.5,1178.4C976.1,1179.9 974.9,1181.7 973.8,1182.5C972.6,1183.3 970.9,1183.6 969.7,1183.3C968.5,1183.0 967.1,1181.8 966.6,1180.6C966.1,1179.3 966.4,1177.2 966.9,1175.7C967.3,1174.2 968.3,1172.5 969.3,1171.7C970.4,1170.9 972.1,1170.5 973.3,1170.8Z" stroke-width="3.3" stroke-linecap="round"/>
<path d="M1002.0,1387.3C1002.3,1387.7 1003.9,1388.3 1004.1,1389.3C1004.4,1390.4 1003.9,1392.2 1003.5,1393.5C1003.1,1394.8 1002.6,1396.4 1001.8,1397.1C1001.0,1397.9 999.4,1397.6 999.0,1397.7" stroke-width="3.2" stroke-linecap="round"/>
<path d="M1058.4,1547.0C1058.6,1546.4 1059.1,1545.6 1059.9,1545.3C1060.8,1545.0 1062.2,1544.9 1063.3,1545.3C1064.4,1545.6 1065.7,1546.5 1066.3,1547.3C1066.8,1548.1 1066.7,1549.1 1066.5,1549.9C1066.2,1550.6 1065.6,1551.5 1064.7,1551.8C1063.8,1552.1 1062.1,1552.0 1061.1,1551.6C1060.1,1551.1 1059.1,1550.1 1058.6,1549.3C1058.2,1548.6 1058.2,1547.7 1058.4,1547.0Z" stroke-width="2.9" stroke-linecap="round"/>
<path d="M1063.1,1118.3C1063.7,1117.9 1065.3,1116.6 1066.5,1116.3C1067.8,1116.1 1069.3,1116.5 1070.4,1116.8C1071.5,1117.2 1072.8,1117.8 1073.0,1118.6C1073.2,1119.3 1072.6,1120.6 1071.7,1121.4C1070.9,1122.1 1068.6,1122.8 1067.9,1123.1" stroke-width="3.0" stroke-linecap="round"/>
<path d="M1056.2,1236.0C1056.8,1236.3 1057.2,1237.5 1057.5,1238.4C1057.7,1239.3 1057.9,1240.4 1057.6,1241.3C1057.4,1242.2 1056.7,1243.2 1056.0,1243.8C1055.3,1244.4 1054.3,1245.1 1053.6,1244.9C1052.9,1244.8 1052.1,1243.9 1051.9,1243.0C1051.6,1242.1 1052.0,1240.8 1052.2,1239.8C1052.5,1238.7 1052.9,1237.3 1053.6,1236.7C1054.3,1236.1 1055.5,1235.7 1056.2,1236.0Z" stroke-width="3.2" stroke-linecap="round"/>
<path d="M1054.1,1543.5C1053.1,1543.7 1051.9,1543.4 1051.0,1542.9C1050.0,1542.4 1048.9,1541.6 1048.4,1540.6C1047.9,1539.6 1047.8,1538.0 1048.0,1536.9C1048.2,1535.8 1049.0,1534.4 1049.8,1534.0C1050.7,1533.6 1052.2,1534.0 1053.3,1534.5C1054.3,1535.0 1055.6,1536.0 1056.1,1537.1C1056.7,1538.3 1056.9,1540.2 1056.5,1541.2C1056.2,1542.3 1055.0,1543.2 1054.1,1543.5Z" stroke-width="3.3" stroke-linecap="round"/>
<path d="M1089.3,1504.8C1089.4,1505.9 1089.2,1507.2 1088.4,1508.2C1087.7,1509.2 1086.2,1510.4 1084.9,1510.5C1083.6,1510.7 1081.6,1510.1 1080.6,1509.3C1079.6,1508.5 1078.7,1506.9 1078.7,1505.7C1078.6,1504.6 1079.4,1503.0 1080.3,1502.2C1081.2,1501.4 1082.7,1500.8 1084.0,1500.7C1085.3,1500.6 1087.1,1500.8 1087.9,1501.4C1088.8,1502.1 1089.2,1503.7 1089.3,1504.8Z" stroke-width="3.3" stroke-linecap="round"/>
<path d="M1023.0,1453.7C1022.6,1453.5 1021.0,1453.1 1020.4,1452.4C1019.9,1451.7 1019.6,1450.6 1019.7,1449.6C1019.9,1448.6 1020.5,1447.1 1021.3,1446.4C1022.2,1445.7 1024.2,1445.6 1024.8,1445.4" stroke-width="3.1" stroke-linecap="round"/>
<path d="M1022.8,1526.5C1022.1,1527.5 1021.1,1528.6 1019.9,1528.7C1018.8,1528.8 1017.0,1528.0 1015.8,1527.3C1014.7,1526.5 1013.5,1525.1 1013.2,1524.0C1012.9,1522.9 1013.4,1521.4 1014.0,1520.6C1014.6,1519.7 1015.8,1519.1 1017.0,1518.9C1018.2,1518.7 1020.0,1518.8 1021.1,1519.4C1022.2,1520.1 1023.3,1521.9 1023.6,1523.1C1023.9,1524.2 1023.4,1525.6 1022.8,1526.5Z" stroke-width="2.6" stroke-linecap="round"/>
<path d="M1010.5,1333.9C1010.7,1333.4 1011.0,1331.8 1011.7,1331.0C1012.3,1330.2 1013.4,1329.3 1014.4,1329.1C1015.4,1328.9 1016.9,1329.3 1017.7,1329.8C1018.6,1330.3 1019.1,1331.8 1019.3,1332.2" stroke-width="2.8" stroke-linecap="round"/>
<path d="M1040.9,1167.7C1042.0,1167.5 1043.5,1168.1 1044.5,1168.9C1045.5,1169.7 1046.8,1171.3 1047.1,1172.6C1047.3,1174.0 1046.6,1175.8 1046.0,1177.0C1045.3,1178.2 1044.2,1179.6 1043.2,1179.8C1042.1,1180.1 1040.6,1179.1 1039.5,1178.2C1038.4,1177.3 1037.0,1176.0 1036.7,1174.6C1036.4,1173.2 1037.1,1171.1 1037.8,1169.9C1038.5,1168.8 1039.8,1167.8 1040.9,1167.7Z" stroke-width="2.7" stroke-linecap="round"/>
<path d="M1023.9,1202.5C1024.1,1201.6 1025.1,1200.9 1025.9,1200.5C1026.7,1200.0 1027.7,1199.8 1028.7,1199.9C1029.6,1200.0 1030.9,1200.4 1031.6,1201.0C1032.2,1201.7 1032.7,1203.0 1032.5,1203.9C1032.4,1204.8 1031.5,1205.8 1030.7,1206.3C1029.8,1206.7 1028.6,1206.7 1027.6,1206.5C1026.5,1206.4 1025.0,1206.1 1024.4,1205.5C1023.8,1204.8 1023.6,1203.3 1023.9,1202.5Z" stroke-width="2.7" stroke-linecap="round"/>
<path d="M1044.0,1485.2C1043.2,1486.3 1042.3,1487.9 1041.0,1488.2C1039.8,1488.4 1037.6,1487.6 1036.5,1486.7C1035.3,1485.8 1034.6,1484.1 1034.4,1482.7C1034.2,1481.4 1034.4,1479.9 1035.1,1478.8C1035.7,1477.8 1037.2,1476.6 1038.5,1476.5C1039.7,1476.3 1041.4,1477.3 1042.6,1478.1C1043.8,1479.0 1045.4,1480.4 1045.6,1481.5C1045.9,1482.7 1044.8,1484.1 1044.0,1485.2Z" stroke-width="2.5" stroke-linecap="round"/>
<path d="M1084.3,1343.3C1084.6,1342.8 1084.9,1340.7 1085.7,1340.1C1086.5,1339.5 1088.1,1339.2 1089.2,1339.6C1090.3,1339.9 1091.7,1341.1 1092.5,1342.2C1093.4,1343.3 1094.3,1345.0 1094.3,1346.1C1094.3,1347.3 1092.7,1348.4 1092.4,1348.9" stroke-width="3.1" stroke-linecap="round"/>
<path d="M1026.4,1168.8C1025.3,1168.7 1024.3,1167.6 1023.6,1166.6C1022.9,1165.6 1022.0,1164.0 1022.0,1162.6C1022.1,1161.3 1023.1,1159.4 1023.9,1158.5C1024.8,1157.6 1026.2,1157.3 1027.3,1157.4C1028.5,1157.5 1029.9,1157.9 1030.6,1158.9C1031.4,1159.9 1031.8,1162.0 1031.7,1163.5C1031.5,1164.9 1030.8,1166.8 1029.9,1167.7C1029.0,1168.6 1027.4,1169.0 1026.4,1168.8Z" stroke-width="2.7" stroke-linecap="round"/>
<path d="M928.4,1095.8C928.3,1094.7 928.6,1093.0 929.6,1092.2C930.5,1091.4 932.7,1091.0 934.1,1091.1C935.6,1091.1 937.3,1091.6 938.3,1092.4C939.3,1093.2 940.3,1094.6 940.2,1095.7C940.2,1096.7 939.1,1097.9 938.1,1098.8C937.1,1099.6 935.6,1100.9 934.3,1100.9C933.0,1100.9 931.3,1099.8 930.3,1099.0C929.3,1098.1 928.6,1097.0 928.4,1095.8Z" stroke-width="2.5" stroke-linecap="round"/>
<path d="M993.5,1333.0C993.1,1332.8 991.4,1332.3 991.1,1331.6C990.7,1330.8 990.7,1329.5 991.3,1328.7C991.9,1327.8 993.3,1327.0 994.5,1326.6C995.6,1326.2 997.4,1325.9 998.3,1326.2C999.1,1326.5 999.5,1328.1 999.8,1328.5" stroke-width="2.7" stroke-linecap="round"/>
<path d="M1027.0,1432.7C1027.1,1432.2 1027.0,1430.5 1027.4,1429.7C1027.9,1429.0 1028.7,1428.4 1029.6,1428.1C1030.5,1427.8 1031.9,1427.5 1032.7,1427.9C1033.6,1428.3 1034.5,1429.9 1034.8,1430.3" stroke-width="2.8" stroke-linecap="round"/>
<path d="M1088.9,1052.2C1088.4,1052.4 1087.0,1053.5 1086.0,1053.6C1085.0,1053.7 1083.7,1053.3 1083.0,1052.7C1082.3,1052.1 1081.9,1051.1 1081.8,1050.2C1081.7,1049.4 1082.3,1047.9 1082.3,1047.5" stroke-width="2.6" stroke-linecap="round"/>
<path d="M1098.9,1521.4C1098.4,1521.4 1097.0,1521.7 1096.1,1521.4C1095.3,1521.0 1094.3,1520.2 1093.9,1519.4C1093.6,1518.7 1093.6,1517.5 1094.0,1516.8C1094.3,1516.1 1095.7,1515.7 1096.1,1515.4" stroke-width="2.9" stroke-linecap="round"/>
<path d="M1034.5,1545.0C1034.8,1544.5 1035.3,1542.5 1036.1,1542.0C1036.9,1541.6 1038.3,1541.8 1039.4,1542.2C1040.6,1542.6 1042.1,1543.3 1042.9,1544.5C1043.6,1545.6 1044.1,1547.6 1043.9,1548.8C1043.8,1550.0 1042.3,1551.3 1041.9,1551.8" stroke-width="3.3" stroke-linecap="round"/>
<path d="M1024.1,1248.8C1024.8,1248.3 1026.1,1248.3 1027.2,1248.6C1028.4,1248.9 1030.0,1249.5 1030.9,1250.6C1031.7,1251.6 1032.4,1253.5 1032.5,1254.8C1032.6,1256.1 1032.2,1257.8 1031.4,1258.3C1030.6,1258.8 1028.9,1258.4 1027.7,1258.0C1026.5,1257.6 1024.9,1256.9 1024.0,1255.9C1023.2,1254.8 1022.6,1252.8 1022.6,1251.6C1022.6,1250.5 1023.3,1249.3 1024.1,1248.8Z" stroke-width="3.2" stroke-linecap="round"/>
<path d="M1014.6,1544.7C1014.9,1545.6 1014.9,1547.0 1014.1,1547.7C1013.4,1548.4 1011.5,1548.9 1010.3,1548.9C1009.1,1549.0 1007.8,1548.7 1006.9,1548.2C1006.0,1547.7 1005.2,1546.9 1005.0,1546.1C1004.8,1545.3 1005.1,1544.0 1005.9,1543.3C1006.6,1542.5 1008.1,1541.7 1009.3,1541.6C1010.4,1541.4 1011.8,1542.1 1012.7,1542.6C1013.6,1543.1 1014.4,1543.9 1014.6,1544.7Z" stroke-width="3.1" stroke-linecap="round"/>
<path d="M996.9,1409.9C996.7,1409.0 996.9,1407.5 997.6,1406.7C998.3,1405.9 999.9,1405.3 1001.1,1405.2C1002.3,1405.1 1003.9,1405.5 1004.7,1406.1C1005.6,1406.8 1006.1,1408.0 1006.2,1408.9C1006.3,1409.9 1005.9,1411.2 1005.2,1411.9C1004.5,1412.6 1003.0,1413.2 1001.9,1413.2C1000.9,1413.3 999.7,1412.8 998.8,1412.2C998.0,1411.7 997.1,1410.8 996.9,1409.9Z" stroke-width="3.2" stroke-linecap="round"/>
<path d="M1085.6,1330.9C1085.6,1331.8 1084.0,1333.0 1083.0,1333.8C1081.9,1334.5 1080.6,1335.2 1079.3,1335.3C1078.0,1335.4 1076.2,1335.0 1075.1,1334.4C1074.0,1333.7 1073.0,1332.4 1072.9,1331.4C1072.9,1330.3 1073.9,1329.0 1074.9,1328.2C1075.9,1327.4 1077.6,1326.6 1079.0,1326.5C1080.3,1326.5 1081.9,1327.3 1083.0,1328.0C1084.1,1328.7 1085.6,1329.9 1085.6,1330.9Z" stroke-width="3.2" stroke-linecap="round"/>
<path d="M1088.0,1133.6C1089.0,1133.8 1090.2,1135.2 1090.8,1136.3C1091.4,1137.4 1091.7,1139.1 1091.5,1140.4C1091.2,1141.6 1090.2,1142.9 1089.2,1143.7C1088.3,1144.4 1086.8,1145.3 1085.8,1145.1C1084.7,1144.9 1083.7,1143.5 1083.1,1142.4C1082.5,1141.4 1082.0,1139.8 1082.2,1138.6C1082.4,1137.3 1083.3,1135.8 1084.3,1135.0C1085.3,1134.2 1086.9,1133.4 1088.0,1133.6Z" stroke-width="3.1" stroke-linecap="round"/>
<path d="M993.9,1425.2C993.2,1425.1 992.4,1424.5 991.9,1423.8C991.4,1423.1 990.9,1422.0 991.0,1421.0C991.0,1420.1 991.6,1419.0 992.2,1418.3C992.8,1417.6 993.7,1416.7 994.4,1416.8C995.1,1416.9 995.8,1418.0 996.3,1418.7C996.8,1419.5 997.5,1420.5 997.5,1421.4C997.5,1422.3 996.8,1423.7 996.2,1424.3C995.6,1424.9 994.6,1425.3 993.9,1425.2Z" stroke-width="2.5" stroke-linecap="round"/>
<path d="M1067.7,1217.1C1068.7,1216.8 1070.1,1216.5 1071.0,1217.1C1071.8,1217.8 1072.5,1219.7 1072.8,1221.0C1073.0,1222.3 1073.1,1223.9 1072.6,1225.0C1072.2,1226.1 1071.2,1227.3 1070.3,1227.6C1069.3,1227.9 1067.7,1227.6 1066.8,1226.8C1065.8,1226.0 1064.8,1224.3 1064.5,1223.0C1064.3,1221.7 1064.7,1219.9 1065.2,1219.0C1065.7,1218.0 1066.7,1217.4 1067.7,1217.1Z" stroke-width="2.6" stroke-linecap="round"/>
<path d="M999.8,1496.7C1000.7,1496.6 1002.1,1497.4 1003.0,1498.2C1003.8,1499.0 1004.7,1500.4 1004.9,1501.5C1005.0,1502.7 1004.6,1504.2 1004.0,1505.1C1003.5,1506.1 1002.6,1507.1 1001.7,1507.2C1000.8,1507.4 999.6,1506.8 998.7,1506.1C997.8,1505.4 996.7,1504.2 996.5,1503.0C996.3,1501.9 997.0,1500.4 997.5,1499.4C998.1,1498.3 998.9,1496.9 999.8,1496.7Z" stroke-width="3.0" stroke-linecap="round"/>
<path d="M1029.7,1109.5C1029.8,1110.3 1029.3,1111.4 1028.6,1112.1C1027.8,1112.8 1026.5,1113.4 1025.4,1113.6C1024.3,1113.8 1022.9,1113.5 1022.0,1113.1C1021.0,1112.6 1019.7,1111.8 1019.6,1111.0C1019.5,1110.3 1020.6,1109.2 1021.4,1108.5C1022.2,1107.8 1023.3,1107.1 1024.4,1106.9C1025.5,1106.7 1027.2,1106.8 1028.1,1107.2C1029.0,1107.6 1029.7,1108.7 1029.7,1109.5Z" stroke-width="2.7" stroke-linecap="round"/>
<path d="M996.6,1450.5C996.3,1449.7 996.6,1448.5 997.2,1447.5C997.7,1446.6 998.7,1445.4 999.7,1445.0C1000.7,1444.5 1002.2,1444.5 1003.3,1444.7C1004.3,1444.9 1005.6,1445.4 1006.0,1446.1C1006.4,1446.8 1006.2,1448.2 1005.7,1449.1C1005.2,1450.1 1004.0,1451.2 1002.9,1451.7C1001.8,1452.3 1000.0,1452.7 999.0,1452.5C997.9,1452.3 996.9,1451.4 996.6,1450.5Z" stroke-width="3.3" stroke-linecap="round"/>
<path d="M1089.6,1546.7C1090.0,1546.7 1091.3,1546.2 1091.9,1546.4C1092.5,1546.7 1093.1,1547.4 1093.4,1548.2C1093.7,1549.0 1093.8,1550.3 1093.5,1551.3C1093.2,1552.3 1092.3,1553.6 1091.6,1554.0C1090.8,1554.5 1089.6,1554.0 1089.2,1554.0" stroke-width="2.9" stroke-linecap="round"/>
<path d="M1081.3,1283.4C1080.7,1283.4 1078.7,1284.0 1077.6,1283.8C1076.5,1283.6 1075.2,1283.0 1074.6,1282.2C1074.0,1281.4 1073.9,1279.7 1074.2,1278.7C1074.6,1277.7 1075.8,1276.9 1076.8,1276.2C1077.8,1275.6 1079.6,1275.2 1080.2,1275.0" stroke-width="2.6" stroke-linecap="round"/>
<path d="M1018.7,1498.4C1018.5,1497.4 1019.0,1496.0 1020.0,1495.3C1021.1,1494.6 1023.2,1494.2 1024.8,1494.1C1026.4,1494.0 1028.6,1494.1 1029.7,1494.7C1030.7,1495.2 1031.3,1496.6 1031.3,1497.5C1031.3,1498.4 1030.6,1499.6 1029.6,1500.3C1028.6,1501.0 1026.7,1501.6 1025.3,1501.6C1023.9,1501.7 1022.2,1501.3 1021.0,1500.8C1019.9,1500.2 1018.8,1499.3 1018.7,1498.4Z" stroke-width="3.3" stroke-linecap="round"/>
<path d="M985.0,1350.9C984.5,1350.3 984.9,1348.9 985.3,1347.8C985.6,1346.8 986.1,1345.5 987.0,1344.6C987.9,1343.7 989.7,1342.5 990.7,1342.4C991.7,1342.2 992.6,1343.0 993.0,1343.7C993.5,1344.3 993.6,1345.3 993.4,1346.3C993.1,1347.2 992.2,1348.5 991.3,1349.4C990.4,1350.2 989.0,1351.1 988.0,1351.3C986.9,1351.6 985.4,1351.5 985.0,1350.9Z" stroke-width="2.6" stroke-linecap="round"/>
<path d="M1085.3,1186.3C1084.9,1185.9 1083.6,1184.9 1083.1,1184.0C1082.6,1183.1 1082.0,1181.7 1082.2,1180.9C1082.3,1180.1 1083.3,1179.3 1084.0,1178.9C1084.7,1178.6 1086.1,1178.8 1086.5,1178.8" stroke-width="2.5" stroke-linecap="round"/>
<path d="M967.6,1068.9C967.4,1069.7 965.9,1070.1 964.9,1070.5C963.8,1070.9 962.6,1071.5 961.4,1071.3C960.3,1071.2 958.9,1070.3 958.1,1069.6C957.3,1068.9 956.7,1067.8 956.9,1067.0C957.0,1066.3 958.0,1065.6 959.0,1065.1C960.0,1064.7 961.5,1064.2 962.7,1064.4C963.9,1064.5 965.5,1065.4 966.3,1066.2C967.1,1066.9 967.9,1068.2 967.6,1068.9Z" stroke-width="2.8" stroke-linecap="round"/>
<path d="M988.4,1157.8C987.6,1157.6 985.2,1157.2 983.8,1156.4C982.4,1155.7 980.6,1154.3 980.2,1153.1C979.7,1151.9 980.6,1150.2 981.3,1149.2C982.0,1148.2 983.9,1147.2 984.4,1146.9" stroke-width="2.8" stroke-linecap="round"/>
<path d="M1043.0,1357.8C1043.5,1358.3 1045.5,1360.1 1046.1,1361.3C1046.7,1362.4 1047.1,1363.9 1046.7,1364.9C1046.3,1365.9 1045.0,1366.9 1043.7,1367.1C1042.4,1367.4 1040.3,1367.0 1038.9,1366.3C1037.6,1365.6 1036.0,1363.6 1035.5,1363.1" stroke-width="3.0" stroke-linecap="round"/>
<path d="M1068.9,1201.6C1068.5,1200.8 1068.7,1199.5 1069.1,1198.4C1069.4,1197.4 1070.1,1196.0 1071.0,1195.3C1071.9,1194.6 1073.5,1194.3 1074.7,1194.3C1075.8,1194.4 1077.4,1194.7 1077.9,1195.4C1078.5,1196.2 1078.4,1197.8 1078.0,1198.8C1077.6,1199.9 1076.5,1201.2 1075.5,1201.8C1074.5,1202.5 1072.9,1202.9 1071.8,1202.9C1070.8,1202.8 1069.4,1202.3 1068.9,1201.6Z" stroke-width="3.0" stroke-linecap="round"/>
<path d="M1093.8,1458.7C1093.0,1458.7 1092.1,1457.7 1091.5,1457.0C1090.9,1456.3 1090.4,1455.3 1090.3,1454.4C1090.2,1453.4 1090.3,1452.0 1090.9,1451.2C1091.4,1450.5 1092.6,1450.1 1093.4,1450.1C1094.2,1450.1 1095.1,1450.7 1095.8,1451.3C1096.5,1452.0 1097.4,1453.0 1097.5,1454.0C1097.6,1455.0 1097.0,1456.4 1096.4,1457.2C1095.8,1458.0 1094.7,1458.8 1093.8,1458.7Z" stroke-width="2.5" stroke-linecap="round"/>
<path d="M1063.0,1289.7C1062.5,1290.5 1061.1,1290.9 1059.9,1291.3C1058.8,1291.6 1057.3,1292.1 1056.2,1291.8C1055.2,1291.4 1054.3,1289.9 1053.7,1288.9C1053.2,1287.9 1052.6,1286.6 1053.0,1285.7C1053.3,1284.8 1054.6,1284.0 1055.6,1283.7C1056.7,1283.5 1058.1,1283.7 1059.2,1284.2C1060.4,1284.6 1061.8,1285.3 1062.4,1286.3C1063.0,1287.2 1063.4,1288.8 1063.0,1289.7Z" stroke-width="2.6" stroke-linecap="round"/>
<path d="M1035.5,1385.9C1036.5,1385.8 1037.6,1387.1 1038.3,1388.2C1039.1,1389.3 1039.9,1391.1 1039.9,1392.4C1039.8,1393.8 1038.8,1395.3 1038.0,1396.4C1037.2,1397.4 1036.0,1398.8 1035.1,1398.7C1034.2,1398.7 1033.2,1397.1 1032.5,1396.0C1031.8,1394.9 1030.7,1393.4 1030.8,1392.1C1030.8,1390.8 1032.0,1389.4 1032.8,1388.4C1033.6,1387.3 1034.6,1385.9 1035.5,1385.9Z" stroke-width="2.9" stroke-linecap="round"/>
<path d="M1093.8,1304.5C1093.7,1305.2 1093.8,1307.8 1093.0,1308.8C1092.1,1309.9 1090.1,1310.6 1088.6,1310.8C1087.2,1311.0 1085.6,1310.8 1084.3,1310.2C1083.1,1309.6 1081.4,1308.5 1081.1,1307.3C1080.9,1306.1 1082.4,1303.9 1082.7,1303.3" stroke-width="3.1" stroke-linecap="round"/>
<path d="M1080.1,1409.8C1080.9,1409.9 1082.0,1410.1 1082.5,1410.9C1082.9,1411.6 1082.7,1413.3 1082.6,1414.4C1082.4,1415.6 1082.2,1417.2 1081.6,1417.9C1081.0,1418.6 1079.8,1418.7 1079.0,1418.5C1078.1,1418.4 1077.1,1418.1 1076.6,1417.2C1076.1,1416.4 1075.7,1414.8 1075.8,1413.6C1076.0,1412.4 1076.7,1410.7 1077.4,1410.1C1078.1,1409.5 1079.2,1409.7 1080.1,1409.8Z" stroke-width="3.0" stroke-linecap="round"/>
<path d="M1077.3,1097.7C1076.4,1098.2 1074.7,1097.4 1073.4,1096.8C1072.1,1096.2 1070.4,1095.4 1069.7,1094.2C1069.0,1093.0 1068.9,1090.9 1069.1,1089.6C1069.3,1088.4 1070.0,1087.3 1070.8,1086.8C1071.7,1086.2 1073.1,1086.1 1074.2,1086.6C1075.3,1087.1 1076.6,1088.5 1077.3,1089.7C1078.0,1091.0 1078.5,1092.6 1078.5,1094.0C1078.5,1095.3 1078.1,1097.3 1077.3,1097.7Z" stroke-width="3.0" stroke-linecap="round"/>
<path d="M1063.3,1511.4C1063.8,1510.9 1065.0,1510.8 1065.8,1511.1C1066.5,1511.5 1067.4,1512.6 1068.0,1513.4C1068.6,1514.3 1069.3,1515.4 1069.4,1516.2C1069.4,1517.1 1069.0,1518.1 1068.4,1518.5C1067.9,1518.9 1066.8,1518.8 1066.0,1518.5C1065.2,1518.2 1064.1,1517.4 1063.6,1516.6C1063.1,1515.8 1063.0,1514.7 1062.9,1513.8C1062.9,1513.0 1062.9,1511.8 1063.3,1511.4Z" stroke-width="3.2" stroke-linecap="round"/>
<path d="M949.7,1149.4C949.2,1149.5 947.5,1150.1 946.8,1149.7C946.1,1149.3 945.5,1148.2 945.5,1147.2C945.5,1146.2 946.0,1144.5 946.7,1143.5C947.3,1142.6 949.0,1141.7 949.5,1141.3" stroke-width="3.1" stroke-linecap="round"/>
<path d="M1046.5,1119.2C1046.3,1118.2 1047.0,1116.8 1047.7,1115.7C1048.4,1114.7 1049.5,1113.2 1050.7,1112.8C1052.0,1112.4 1054.1,1112.8 1055.2,1113.4C1056.2,1114.0 1056.8,1115.4 1057.1,1116.6C1057.3,1117.7 1057.5,1119.2 1056.9,1120.3C1056.2,1121.3 1054.6,1122.6 1053.3,1122.9C1051.9,1123.2 1050.1,1122.8 1048.9,1122.2C1047.8,1121.6 1046.7,1120.3 1046.5,1119.2Z" stroke-width="2.9" stroke-linecap="round"/>
<path d="M1093.9,1465.6C1094.4,1465.7 1096.1,1465.6 1096.9,1465.9C1097.6,1466.2 1098.3,1466.9 1098.4,1467.5C1098.5,1468.0 1098.1,1468.9 1097.4,1469.4C1096.8,1469.9 1095.2,1470.3 1094.7,1470.4" stroke-width="2.8" stroke-linecap="round"/>
<path d="M947.5,1126.4C947.8,1126.1 948.8,1125.2 949.6,1125.1C950.5,1125.1 951.8,1125.5 952.5,1126.0C953.3,1126.5 953.8,1127.4 954.1,1128.2C954.5,1129.0 954.9,1130.1 954.6,1130.6C954.3,1131.2 952.7,1131.4 952.4,1131.6" stroke-width="2.8" stroke-linecap="round"/>
<path d="M1053.1,1183.3C1053.5,1183.8 1055.2,1185.3 1055.4,1186.5C1055.6,1187.6 1055.0,1189.2 1054.5,1190.3C1053.9,1191.4 1053.1,1192.9 1052.2,1193.2C1051.2,1193.4 1049.6,1192.7 1048.7,1191.9C1047.7,1191.1 1046.8,1188.8 1046.4,1188.2" stroke-width="3.1" stroke-linecap="round"/>
<path d="M1075.4,1530.8C1075.7,1530.4 1076.5,1528.9 1077.5,1528.4C1078.4,1528.0 1079.9,1527.8 1081.2,1527.9C1082.5,1528.0 1084.3,1528.4 1085.1,1529.1C1086.0,1529.8 1086.0,1531.6 1086.1,1532.1" stroke-width="3.0" stroke-linecap="round"/>
<path d="M1076.3,1361.8C1075.1,1361.8 1073.8,1361.4 1072.9,1360.6C1072.0,1359.8 1071.1,1358.2 1071.0,1356.9C1070.8,1355.6 1071.2,1353.9 1071.8,1352.9C1072.4,1351.9 1073.5,1351.2 1074.6,1350.9C1075.7,1350.6 1077.5,1350.3 1078.3,1351.1C1079.2,1351.9 1079.4,1354.1 1079.6,1355.6C1079.8,1357.1 1080.3,1359.2 1079.7,1360.2C1079.2,1361.3 1077.4,1361.7 1076.3,1361.8Z" stroke-width="3.1" stroke-linecap="round"/>
<path d="M1017.6,1276.2C1018.0,1276.7 1018.4,1277.4 1018.1,1278.1C1017.9,1278.8 1017.0,1279.8 1016.2,1280.4C1015.4,1280.9 1014.1,1281.5 1013.3,1281.5C1012.6,1281.5 1012.0,1280.9 1011.7,1280.4C1011.3,1279.9 1011.1,1279.2 1011.4,1278.5C1011.6,1277.7 1012.3,1276.7 1013.1,1276.1C1013.9,1275.5 1015.2,1275.1 1016.0,1275.1C1016.7,1275.1 1017.2,1275.7 1017.6,1276.2Z" stroke-width="2.5" stroke-linecap="round"/>
<path d="M1041.3,1326.2C1040.9,1326.1 1039.3,1326.0 1038.5,1325.5C1037.7,1324.9 1037.0,1323.8 1036.7,1323.1C1036.5,1322.3 1036.7,1321.5 1037.0,1321.0C1037.4,1320.4 1038.6,1320.1 1038.9,1319.9" stroke-width="2.6" stroke-linecap="round"/>
<path d="M1095.3,1254.4C1095.5,1255.3 1094.7,1256.7 1093.9,1257.7C1093.2,1258.6 1092.0,1259.8 1090.9,1260.1C1089.7,1260.4 1088.0,1259.9 1087.0,1259.4C1085.9,1258.9 1084.8,1258.0 1084.5,1257.0C1084.2,1256.0 1084.4,1254.3 1085.2,1253.4C1085.9,1252.6 1087.7,1252.2 1088.9,1251.9C1090.2,1251.7 1091.5,1251.6 1092.6,1252.0C1093.7,1252.4 1095.1,1253.4 1095.3,1254.4Z" stroke-width="3.1" stroke-linecap="round"/>
<path d="M1006.5,1106.0C1006.7,1106.8 1006.2,1108.2 1005.3,1109.1C1004.4,1110.0 1002.6,1110.9 1001.1,1111.2C999.6,1111.6 997.3,1111.7 996.1,1111.3C994.8,1110.9 993.6,1109.7 993.5,1108.8C993.4,1107.8 994.3,1106.4 995.3,1105.6C996.4,1104.8 998.1,1104.2 999.5,1103.9C1000.9,1103.7 1002.7,1103.6 1003.8,1103.9C1005.0,1104.3 1006.2,1105.1 1006.5,1106.0Z" stroke-width="3.2" stroke-linecap="round"/>
<path d="M988.6,1524.8C988.5,1524.2 988.0,1522.4 988.2,1521.4C988.4,1520.4 989.1,1519.4 989.8,1518.7C990.5,1518.1 991.5,1517.4 992.3,1517.5C993.0,1517.6 993.9,1518.4 994.4,1519.3C994.9,1520.1 994.9,1521.9 995.0,1522.4" stroke-width="3.1" stroke-linecap="round"/>
<path d="M992.1,1480.3C992.9,1480.3 993.8,1481.0 994.3,1481.8C994.8,1482.5 995.2,1483.9 995.2,1484.9C995.2,1485.9 994.7,1487.2 994.2,1487.9C993.7,1488.5 992.8,1488.8 992.1,1488.8C991.3,1488.8 990.4,1488.5 989.9,1487.9C989.4,1487.2 989.0,1485.8 989.0,1484.8C989.1,1483.8 989.5,1482.6 990.0,1481.8C990.5,1481.1 991.4,1480.3 992.1,1480.3Z" stroke-width="2.6" stroke-linecap="round"/>
<path d="M1004.9,1053.9C1005.6,1054.2 1007.8,1054.7 1008.8,1055.7C1009.8,1056.7 1010.8,1058.7 1010.9,1059.8C1011.1,1060.9 1010.3,1062.0 1009.6,1062.6C1008.9,1063.1 1007.2,1063.1 1006.7,1063.2" stroke-width="2.7" stroke-linecap="round"/>
<path d="M995.0,1556.1C995.5,1556.5 997.3,1557.5 997.8,1558.5C998.3,1559.4 998.4,1560.8 998.0,1562.0C997.6,1563.1 996.6,1564.7 995.5,1565.3C994.3,1566.0 992.6,1566.1 991.3,1566.0C990.0,1565.8 988.2,1564.8 987.6,1564.6" stroke-width="2.5" stroke-linecap="round"/>
<path d="M1036.9,1049.0C1035.8,1049.2 1034.3,1048.6 1033.4,1047.8C1032.4,1046.9 1031.3,1045.2 1031.1,1043.8C1030.8,1042.4 1031.3,1040.7 1031.9,1039.5C1032.4,1038.2 1033.5,1036.8 1034.5,1036.6C1035.6,1036.3 1037.3,1037.0 1038.2,1037.9C1039.1,1038.8 1039.9,1040.6 1040.2,1042.1C1040.4,1043.5 1040.3,1045.4 1039.7,1046.5C1039.2,1047.7 1038.0,1048.8 1036.9,1049.0Z" stroke-width="2.7" stroke-linecap="round"/>
<path d="M991.6,1066.8C991.9,1067.2 993.1,1068.1 993.3,1069.1C993.5,1070.0 993.5,1071.7 993.0,1072.6C992.5,1073.5 991.3,1074.3 990.4,1074.7C989.5,1075.1 988.3,1075.4 987.6,1075.1C986.8,1074.7 986.1,1073.2 985.8,1072.8" stroke-width="2.7" stroke-linecap="round"/>
<path d="M1053.6,1092.0C1052.6,1092.3 1051.4,1092.5 1050.5,1092.0C1049.6,1091.5 1048.7,1090.2 1048.3,1089.1C1047.9,1088.0 1047.8,1086.4 1048.2,1085.4C1048.6,1084.4 1049.7,1083.4 1050.7,1083.1C1051.6,1082.8 1053.2,1082.9 1054.0,1083.5C1054.9,1084.1 1055.4,1085.6 1055.8,1086.7C1056.1,1087.8 1056.5,1089.3 1056.2,1090.2C1055.8,1091.1 1054.5,1091.7 1053.6,1092.0Z" stroke-width="3.0" stroke-linecap="round"/>
<path d="M996.5,1137.7C995.4,1137.4 994.1,1136.2 993.5,1134.9C992.9,1133.6 992.7,1131.6 993.1,1130.1C993.5,1128.6 994.6,1126.5 995.7,1125.8C996.9,1125.1 998.7,1125.6 999.8,1126.0C1001.0,1126.5 1001.9,1127.4 1002.6,1128.6C1003.2,1129.8 1003.9,1131.8 1003.5,1133.1C1003.2,1134.4 1001.6,1135.8 1000.4,1136.6C999.2,1137.3 997.7,1137.9 996.5,1137.7Z" stroke-width="2.9" stroke-linecap="round"/>
<path d="M1049.9,1065.1C1049.5,1066.0 1048.0,1066.7 1046.9,1066.9C1045.7,1067.1 1043.9,1067.0 1042.8,1066.4C1041.7,1065.9 1040.7,1064.6 1040.1,1063.6C1039.6,1062.6 1039.0,1061.1 1039.4,1060.3C1039.7,1059.4 1041.1,1058.7 1042.2,1058.5C1043.4,1058.3 1045.1,1058.5 1046.2,1059.0C1047.3,1059.6 1048.4,1060.7 1049.0,1061.7C1049.6,1062.7 1050.3,1064.3 1049.9,1065.1Z" stroke-width="3.2" stroke-linecap="round"/>
<path d="M1056.8,1410.8C1056.7,1411.8 1055.7,1412.8 1054.8,1413.6C1053.9,1414.3 1052.6,1415.3 1051.4,1415.3C1050.2,1415.3 1048.4,1414.5 1047.6,1413.6C1046.8,1412.8 1046.6,1411.2 1046.7,1410.1C1046.8,1409.0 1047.3,1407.5 1048.2,1406.9C1049.0,1406.2 1050.7,1406.2 1051.9,1406.3C1053.2,1406.4 1054.9,1406.5 1055.8,1407.3C1056.6,1408.0 1057.0,1409.7 1056.8,1410.8Z" stroke-width="3.2" stroke-linecap="round"/>
<path d="M1045.1,1512.1C1045.5,1512.8 1045.4,1514.1 1044.9,1515.0C1044.4,1516.0 1043.2,1517.0 1042.1,1517.6C1041.0,1518.1 1039.3,1518.5 1038.3,1518.3C1037.3,1518.1 1036.3,1517.2 1036.1,1516.5C1035.8,1515.7 1036.2,1514.5 1036.7,1513.7C1037.2,1512.8 1038.1,1511.7 1039.1,1511.2C1040.0,1510.8 1041.4,1510.8 1042.4,1510.9C1043.4,1511.1 1044.7,1511.5 1045.1,1512.1Z" stroke-width="3.3" stroke-linecap="round"/>
<path d="M1065.3,1273.0C1064.7,1272.7 1062.1,1271.9 1061.5,1271.2C1060.8,1270.5 1061.2,1269.4 1061.4,1268.6C1061.6,1267.8 1061.9,1267.0 1062.8,1266.6C1063.6,1266.2 1066.0,1266.3 1066.7,1266.3" stroke-width="2.8" stroke-linecap="round"/>
<path d="M1045.5,1210.5C1045.5,1209.8 1045.3,1207.7 1045.7,1206.4C1046.1,1205.1 1046.8,1203.4 1048.0,1202.9C1049.2,1202.4 1051.6,1202.8 1053.1,1203.4C1054.5,1204.0 1056.2,1205.3 1056.9,1206.5C1057.5,1207.7 1057.1,1210.0 1057.2,1210.7" stroke-width="3.1" stroke-linecap="round"/>
<path d="M1077.2,1253.5C1077.0,1254.7 1075.7,1256.1 1074.4,1256.7C1073.2,1257.2 1070.9,1257.4 1069.6,1256.9C1068.3,1256.5 1067.0,1254.9 1066.4,1253.8C1065.8,1252.6 1065.7,1251.3 1065.9,1250.1C1066.1,1248.9 1066.7,1247.2 1067.8,1246.6C1069.0,1246.1 1071.3,1246.3 1072.6,1246.9C1074.0,1247.4 1075.0,1248.7 1075.7,1249.8C1076.5,1250.9 1077.4,1252.4 1077.2,1253.5Z" stroke-width="2.9" stroke-linecap="round"/>
<path d="M1008.9,1527.2C1008.7,1527.6 1008.3,1529.3 1007.7,1530.1C1007.1,1530.9 1006.1,1531.9 1005.2,1532.1C1004.3,1532.3 1003.0,1531.9 1002.1,1531.4C1001.3,1530.9 1000.5,1530.1 1000.3,1529.2C1000.1,1528.4 1000.8,1526.9 1000.9,1526.5" stroke-width="3.0" stroke-linecap="round"/>
<path d="M1060.2,1073.4C1060.7,1072.9 1061.5,1072.5 1062.3,1072.7C1063.1,1072.9 1064.3,1073.8 1065.0,1074.5C1065.7,1075.2 1066.2,1076.2 1066.4,1076.9C1066.6,1077.7 1066.6,1078.6 1066.3,1079.0C1065.9,1079.5 1065.0,1079.7 1064.2,1079.5C1063.4,1079.4 1062.3,1078.8 1061.6,1078.2C1060.8,1077.5 1059.9,1076.3 1059.6,1075.5C1059.4,1074.7 1059.8,1073.8 1060.2,1073.4Z" stroke-width="2.7" stroke-linecap="round"/>
<path d="M1053.7,1313.7C1053.4,1313.0 1053.1,1311.8 1053.6,1311.0C1054.2,1310.2 1055.9,1309.1 1057.2,1308.7C1058.4,1308.2 1060.2,1308.0 1061.2,1308.2C1062.2,1308.5 1063.1,1309.2 1063.4,1309.9C1063.7,1310.6 1063.7,1311.8 1063.1,1312.7C1062.5,1313.5 1060.8,1314.4 1059.6,1314.8C1058.4,1315.2 1056.8,1315.4 1055.8,1315.2C1054.8,1315.0 1054.1,1314.4 1053.7,1313.7Z" stroke-width="2.8" stroke-linecap="round"/>
<path d="M1015.5,1257.3C1015.5,1258.3 1014.9,1259.6 1014.1,1260.4C1013.2,1261.2 1011.8,1261.8 1010.6,1261.9C1009.4,1262.0 1007.8,1261.8 1006.8,1261.1C1005.7,1260.4 1004.5,1259.1 1004.4,1258.0C1004.3,1256.8 1005.2,1255.2 1006.1,1254.4C1007.1,1253.6 1008.8,1253.4 1010.1,1253.3C1011.4,1253.2 1013.1,1253.3 1014.0,1254.0C1015.0,1254.6 1015.5,1256.2 1015.5,1257.3Z" stroke-width="2.6" stroke-linecap="round"/>
<path d="M1076.9,1045.4C1076.2,1046.5 1074.5,1047.4 1073.3,1047.5C1072.0,1047.5 1070.5,1046.4 1069.4,1045.5C1068.2,1044.7 1066.8,1043.7 1066.4,1042.5C1066.0,1041.4 1066.2,1039.5 1066.8,1038.5C1067.5,1037.5 1069.1,1036.6 1070.4,1036.6C1071.6,1036.6 1073.1,1037.6 1074.3,1038.4C1075.4,1039.2 1076.6,1040.2 1077.1,1041.4C1077.5,1042.6 1077.5,1044.4 1076.9,1045.4Z" stroke-width="2.8" stroke-linecap="round"/>
<path d="M1025.2,1311.4C1025.4,1310.7 1025.7,1308.5 1026.3,1307.2C1026.9,1305.8 1027.8,1303.9 1028.8,1303.4C1029.7,1302.8 1031.2,1303.2 1032.0,1303.7C1032.9,1304.2 1033.6,1305.9 1033.9,1306.3" stroke-width="2.8" stroke-linecap="round"/>
<path d="M1007.3,1483.2C1007.8,1482.9 1009.3,1481.4 1010.2,1481.2C1011.2,1481.0 1012.5,1481.3 1013.1,1481.9C1013.6,1482.5 1013.6,1483.8 1013.5,1484.8C1013.4,1485.8 1012.7,1487.4 1012.5,1487.9" stroke-width="3.0" stroke-linecap="round"/>
<path d="M1041.5,1458.9C1041.8,1458.3 1042.7,1457.7 1043.6,1457.7C1044.4,1457.7 1045.7,1458.3 1046.5,1458.9C1047.4,1459.4 1048.3,1460.2 1048.7,1460.9C1049.2,1461.7 1049.5,1462.9 1049.1,1463.5C1048.8,1464.0 1047.6,1464.2 1046.7,1464.2C1045.8,1464.2 1044.7,1463.8 1043.9,1463.3C1043.1,1462.8 1042.2,1462.0 1041.8,1461.3C1041.4,1460.5 1041.2,1459.5 1041.5,1458.9Z" stroke-width="2.7" stroke-linecap="round"/>
<path d="M1090.2,1478.1C1091.2,1478.1 1092.5,1478.6 1093.0,1479.5C1093.6,1480.4 1093.6,1482.2 1093.5,1483.5C1093.4,1484.7 1093.0,1486.2 1092.4,1486.9C1091.7,1487.7 1090.6,1488.0 1089.7,1488.0C1088.8,1488.0 1087.7,1487.6 1087.1,1486.7C1086.6,1485.9 1086.3,1484.3 1086.4,1483.1C1086.4,1481.8 1086.7,1480.2 1087.4,1479.3C1088.0,1478.5 1089.3,1478.0 1090.2,1478.1Z" stroke-width="3.0" stroke-linecap="round"/>
<path d="M1055.1,1355.0C1055.0,1354.5 1054.5,1353.3 1054.7,1352.3C1054.9,1351.3 1055.6,1349.9 1056.5,1349.1C1057.3,1348.4 1058.7,1347.9 1059.8,1347.7C1060.9,1347.4 1062.5,1347.1 1063.1,1347.7C1063.7,1348.2 1063.3,1350.4 1063.3,1350.9" stroke-width="2.6" stroke-linecap="round"/>
<path d="M935.8,1117.5C935.6,1118.3 934.7,1119.1 933.8,1119.3C933.0,1119.6 931.7,1119.3 930.7,1119.0C929.8,1118.7 928.5,1118.1 928.1,1117.4C927.6,1116.7 927.7,1115.6 927.9,1114.9C928.2,1114.3 928.9,1113.5 929.6,1113.2C930.4,1113.0 931.7,1113.1 932.6,1113.4C933.4,1113.7 934.4,1114.4 934.9,1115.1C935.4,1115.8 936.0,1116.8 935.8,1117.5Z" stroke-width="2.8" stroke-linecap="round"/>
<path d="M1010.7,1324.0C1010.0,1324.4 1009.0,1324.5 1008.2,1324.2C1007.4,1324.0 1006.3,1323.4 1005.7,1322.6C1005.1,1321.9 1004.6,1320.7 1004.6,1319.8C1004.5,1318.9 1004.8,1317.6 1005.4,1317.2C1006.0,1316.8 1007.2,1317.1 1008.1,1317.3C1009.0,1317.6 1010.1,1318.0 1010.7,1318.7C1011.4,1319.5 1011.9,1320.9 1011.9,1321.7C1011.9,1322.6 1011.3,1323.5 1010.7,1324.0Z" stroke-width="2.6" stroke-linecap="round"/>
<path d="M980.4,1094.9C981.4,1094.4 983.2,1095.1 984.5,1095.7C985.7,1096.2 987.1,1097.1 987.9,1098.3C988.6,1099.5 989.2,1101.6 988.9,1102.9C988.6,1104.1 987.3,1105.3 986.3,1105.8C985.2,1106.4 983.5,1106.6 982.4,1106.1C981.3,1105.6 980.2,1103.9 979.6,1102.7C979.0,1101.4 978.7,1100.0 978.8,1098.7C978.9,1097.4 979.5,1095.4 980.4,1094.9Z" stroke-width="2.6" stroke-linecap="round"/>
<path d="M984.8,1380.4C984.8,1379.6 985.2,1378.6 985.9,1378.1C986.6,1377.6 988.0,1377.2 989.0,1377.2C990.0,1377.3 991.1,1377.9 991.7,1378.5C992.3,1379.0 992.7,1379.9 992.6,1380.6C992.6,1381.3 992.1,1382.1 991.5,1382.6C990.8,1383.1 989.7,1383.5 988.8,1383.5C987.9,1383.5 986.7,1383.1 986.0,1382.5C985.3,1382.0 984.8,1381.1 984.8,1380.4Z" stroke-width="2.6" stroke-linecap="round"/>
<path d="M967.6,1148.2C968.1,1148.8 968.3,1149.9 968.1,1150.8C967.9,1151.7 967.4,1152.9 966.7,1153.6C965.9,1154.2 964.5,1154.6 963.7,1154.6C962.8,1154.6 962.0,1154.1 961.5,1153.5C961.0,1152.9 960.7,1152.1 960.8,1151.2C960.9,1150.3 961.3,1149.0 962.1,1148.3C962.8,1147.6 964.3,1147.1 965.2,1147.0C966.1,1147.0 967.2,1147.5 967.6,1148.2Z" stroke-width="2.8" stroke-linecap="round"/>
<path d="M1007.3,1433.9C1006.5,1433.7 1005.8,1432.5 1005.5,1431.5C1005.2,1430.5 1005.3,1429.0 1005.6,1427.8C1005.9,1426.5 1006.4,1424.7 1007.1,1424.0C1007.8,1423.4 1009.0,1423.6 1009.8,1423.9C1010.6,1424.1 1011.7,1424.4 1012.0,1425.3C1012.4,1426.2 1012.1,1428.1 1011.7,1429.3C1011.4,1430.5 1010.7,1431.9 1010.0,1432.6C1009.2,1433.4 1008.0,1434.1 1007.3,1433.9Z" stroke-width="3.1" stroke-linecap="round"/>
<path d="M968.2,1105.2C969.1,1105.4 969.9,1106.4 970.3,1107.5C970.6,1108.5 970.7,1110.1 970.4,1111.4C970.1,1112.8 969.3,1114.7 968.5,1115.3C967.6,1116.0 966.3,1115.8 965.5,1115.4C964.7,1115.1 964.1,1114.2 963.7,1113.3C963.3,1112.3 962.8,1110.6 963.1,1109.5C963.4,1108.3 964.6,1107.0 965.4,1106.3C966.3,1105.6 967.4,1105.0 968.2,1105.2Z" stroke-width="2.7" stroke-linecap="round"/>
<path d="M1083.8,1376.3C1083.2,1377.4 1082.4,1379.0 1081.1,1379.4C1079.8,1379.7 1077.6,1379.0 1076.3,1378.2C1075.0,1377.4 1073.7,1375.8 1073.2,1374.4C1072.8,1373.1 1072.8,1371.1 1073.5,1370.0C1074.2,1368.9 1076.0,1368.0 1077.4,1367.9C1078.8,1367.7 1080.6,1368.3 1081.8,1369.1C1083.0,1369.8 1084.3,1371.3 1084.7,1372.5C1085.0,1373.7 1084.4,1375.1 1083.8,1376.3Z" stroke-width="2.9" stroke-linecap="round"/>
<path d="M1085.8,1172.3C1084.8,1171.9 1083.8,1170.7 1083.4,1169.6C1083.1,1168.5 1083.4,1166.9 1083.8,1165.6C1084.2,1164.4 1085.0,1162.7 1086.0,1162.0C1086.9,1161.4 1088.7,1161.5 1089.6,1161.9C1090.6,1162.3 1091.6,1163.5 1091.9,1164.6C1092.3,1165.8 1092.3,1167.4 1091.9,1168.7C1091.5,1169.9 1090.4,1171.4 1089.4,1172.0C1088.4,1172.6 1086.8,1172.7 1085.8,1172.3Z" stroke-width="3.0" stroke-linecap="round"/>
<path d="M1053.6,1156.5C1054.0,1157.0 1053.4,1158.3 1053.0,1159.2C1052.6,1160.1 1052.0,1161.1 1051.2,1161.7C1050.5,1162.3 1049.3,1162.7 1048.4,1162.9C1047.5,1163.0 1046.2,1163.1 1045.8,1162.6C1045.4,1162.2 1045.7,1160.9 1046.1,1160.1C1046.4,1159.2 1047.1,1158.1 1048.0,1157.5C1048.8,1156.8 1050.0,1156.3 1051.0,1156.1C1051.9,1156.0 1053.3,1156.0 1053.6,1156.5Z" stroke-width="3.2" stroke-linecap="round"/>
<path d="M1014.0,1217.4C1014.3,1218.0 1015.7,1220.0 1015.6,1221.2C1015.6,1222.5 1014.5,1224.1 1013.7,1224.9C1012.8,1225.8 1011.5,1226.3 1010.5,1226.3C1009.4,1226.3 1007.8,1225.8 1007.2,1224.9C1006.6,1224.0 1006.8,1221.5 1006.7,1220.9" stroke-width="3.2" stroke-linecap="round"/>
<path d="M997.0,1218.4C997.5,1219.2 997.6,1220.5 997.3,1221.6C996.9,1222.7 996.0,1224.2 994.9,1225.0C993.9,1225.7 992.3,1226.1 991.1,1226.1C989.9,1226.1 988.4,1225.7 987.9,1225.0C987.3,1224.3 987.4,1222.7 987.8,1221.7C988.2,1220.6 989.2,1219.3 990.2,1218.5C991.3,1217.7 993.0,1216.7 994.1,1216.6C995.2,1216.6 996.4,1217.5 997.0,1218.4Z" stroke-width="3.3" stroke-linecap="round"/>
<path d="M969.8,1203.3C969.0,1203.6 967.8,1203.3 966.8,1202.8C965.9,1202.3 964.6,1201.1 964.1,1200.1C963.7,1199.0 964.0,1197.6 964.1,1196.5C964.3,1195.4 964.6,1194.1 965.2,1193.7C965.9,1193.3 967.3,1193.8 968.1,1194.3C969.0,1194.9 969.9,1196.0 970.4,1197.1C971.0,1198.2 971.6,1199.8 971.5,1200.8C971.4,1201.9 970.6,1203.0 969.8,1203.3Z" stroke-width="2.8" stroke-linecap="round"/>
<path d="M1047.1,1101.4C1047.1,1101.9 1047.5,1103.5 1047.3,1104.4C1047.2,1105.4 1046.8,1106.4 1046.2,1107.1C1045.5,1107.9 1044.3,1108.9 1043.4,1108.9C1042.5,1109.0 1041.5,1108.1 1041.0,1107.4C1040.4,1106.8 1040.2,1105.3 1040.1,1104.9" stroke-width="2.6" stroke-linecap="round"/>
<path d="M1029.6,1366.7C1030.3,1367.0 1030.8,1368.1 1031.0,1368.9C1031.2,1369.8 1031.1,1371.1 1030.8,1372.0C1030.4,1372.9 1029.6,1373.7 1028.8,1374.1C1028.1,1374.6 1027.2,1375.0 1026.5,1374.8C1025.9,1374.7 1025.1,1373.9 1024.8,1373.1C1024.6,1372.3 1024.6,1370.7 1025.0,1369.8C1025.4,1368.8 1026.3,1367.9 1027.1,1367.4C1027.9,1366.9 1029.0,1366.5 1029.6,1366.7Z" stroke-width="3.0" stroke-linecap="round"/>
<path d="M1063.1,1147.8C1062.6,1147.5 1060.8,1146.9 1060.0,1145.9C1059.3,1145.0 1058.6,1143.1 1058.6,1142.2C1058.6,1141.2 1059.4,1140.5 1060.0,1140.2C1060.7,1139.8 1062.0,1140.1 1062.4,1140.1" stroke-width="3.1" stroke-linecap="round"/>
<path d="M1073.9,1144.1C1074.6,1143.8 1075.7,1144.3 1076.6,1144.7C1077.5,1145.1 1078.8,1145.6 1079.3,1146.4C1079.7,1147.3 1079.7,1148.9 1079.4,1149.8C1079.2,1150.6 1078.4,1151.2 1077.7,1151.6C1077.0,1152.0 1075.9,1152.5 1075.1,1152.2C1074.3,1151.8 1073.2,1150.7 1072.8,1149.7C1072.3,1148.8 1072.3,1147.5 1072.5,1146.6C1072.7,1145.6 1073.2,1144.4 1073.9,1144.1Z" stroke-width="2.9" stroke-linecap="round"/>
<path d="M1052.7,1254.3C1053.0,1254.9 1054.1,1256.4 1054.4,1257.6C1054.7,1258.8 1054.9,1260.5 1054.4,1261.5C1053.9,1262.5 1052.5,1263.5 1051.4,1263.6C1050.3,1263.8 1048.8,1263.5 1047.9,1262.7C1047.1,1262.0 1046.6,1259.9 1046.4,1259.3" stroke-width="3.3" stroke-linecap="round"/>
<path d="M1032.6,1445.1C1033.1,1444.8 1034.5,1443.4 1035.6,1443.0C1036.6,1442.6 1037.9,1442.4 1039.0,1442.7C1040.0,1443.0 1041.4,1443.8 1042.0,1444.7C1042.5,1445.5 1042.2,1447.3 1042.2,1447.9" stroke-width="3.2" stroke-linecap="round"/>
<path d="M1012.9,1232.6C1013.7,1232.2 1014.8,1232.2 1015.6,1232.5C1016.5,1232.9 1017.4,1233.8 1018.0,1234.7C1018.6,1235.6 1019.3,1237.2 1019.1,1238.1C1019.0,1239.0 1017.9,1239.7 1017.0,1240.2C1016.2,1240.7 1015.0,1241.3 1014.1,1241.0C1013.1,1240.7 1011.8,1239.4 1011.3,1238.3C1010.7,1237.3 1010.7,1235.6 1011.0,1234.7C1011.2,1233.7 1012.1,1233.0 1012.9,1232.6Z" stroke-width="2.5" stroke-linecap="round"/>
<path d="M1055.3,1492.0C1055.7,1492.5 1055.5,1493.7 1055.3,1494.6C1055.1,1495.6 1054.9,1496.8 1054.2,1497.6C1053.5,1498.4 1052.1,1499.3 1051.2,1499.6C1050.4,1499.8 1049.4,1499.5 1048.9,1499.0C1048.5,1498.6 1048.4,1497.6 1048.5,1496.7C1048.7,1495.8 1049.0,1494.4 1049.7,1493.6C1050.4,1492.8 1051.7,1492.2 1052.7,1491.9C1053.6,1491.7 1054.8,1491.6 1055.3,1492.0Z" stroke-width="2.7" stroke-linecap="round"/>
<path d="M1064.6,1394.4C1063.3,1394.0 1061.9,1393.2 1061.3,1391.9C1060.7,1390.7 1060.5,1388.3 1061.0,1387.0C1061.5,1385.7 1063.1,1384.6 1064.3,1383.9C1065.4,1383.2 1066.8,1382.5 1068.0,1382.7C1069.2,1382.9 1070.8,1384.0 1071.2,1385.2C1071.7,1386.4 1071.2,1388.4 1070.8,1389.9C1070.4,1391.4 1069.7,1393.3 1068.7,1394.1C1067.6,1394.8 1065.8,1394.7 1064.6,1394.4Z" stroke-width="3.3" stroke-linecap="round"/>
<path d="M1070.2,1292.9C1070.8,1292.5 1071.9,1292.4 1072.7,1292.7C1073.5,1293.1 1074.5,1294.0 1075.1,1294.9C1075.8,1295.7 1076.6,1296.9 1076.7,1297.7C1076.8,1298.4 1076.1,1299.0 1075.6,1299.4C1075.1,1299.9 1074.4,1300.5 1073.7,1300.3C1073.0,1300.0 1072.0,1298.8 1071.4,1298.0C1070.7,1297.1 1069.8,1296.1 1069.6,1295.3C1069.4,1294.5 1069.7,1293.4 1070.2,1292.9Z" stroke-width="3.3" stroke-linecap="round"/>
<path d="M992.7,1290.0C991.9,1290.6 990.5,1290.8 989.4,1290.5C988.3,1290.2 986.8,1289.2 986.0,1288.2C985.3,1287.2 985.0,1285.8 984.8,1284.6C984.6,1283.4 984.4,1281.6 985.0,1281.0C985.6,1280.4 987.4,1280.7 988.6,1281.0C989.7,1281.4 991.0,1282.2 991.9,1283.2C992.8,1284.1 993.8,1285.8 994.0,1286.9C994.1,1288.1 993.4,1289.4 992.7,1290.0Z" stroke-width="3.2" stroke-linecap="round"/>
<path d="M1075.1,1232.2C1075.2,1231.2 1076.0,1229.9 1077.0,1229.3C1078.1,1228.6 1079.9,1228.0 1081.4,1228.1C1082.8,1228.2 1084.8,1228.9 1085.8,1229.8C1086.7,1230.7 1087.5,1232.3 1087.3,1233.4C1087.1,1234.4 1085.9,1235.6 1084.8,1236.2C1083.6,1236.9 1081.9,1237.4 1080.5,1237.3C1079.2,1237.1 1077.5,1236.2 1076.6,1235.4C1075.7,1234.6 1075.1,1233.3 1075.1,1232.2Z" stroke-width="3.3" stroke-linecap="round"/>
<path d="M1027.0,1229.3C1025.9,1228.8 1024.9,1227.5 1024.4,1226.3C1023.9,1225.0 1023.7,1223.2 1024.0,1221.8C1024.4,1220.3 1025.5,1218.5 1026.6,1217.7C1027.7,1216.8 1029.6,1216.4 1030.8,1216.7C1032.0,1217.1 1033.3,1218.6 1033.8,1219.9C1034.3,1221.2 1034.1,1223.1 1033.7,1224.7C1033.2,1226.2 1032.4,1228.3 1031.3,1229.1C1030.2,1229.8 1028.2,1229.8 1027.0,1229.3Z" stroke-width="2.8" stroke-linecap="round"/>
<path d="M1031.0,1556.4C1031.5,1557.3 1031.6,1558.8 1031.2,1559.8C1030.7,1560.8 1029.2,1561.9 1028.1,1562.4C1027.0,1562.9 1025.7,1563.0 1024.6,1562.9C1023.5,1562.8 1022.0,1562.4 1021.6,1561.7C1021.1,1560.9 1021.6,1559.4 1022.1,1558.4C1022.6,1557.5 1023.5,1556.6 1024.5,1555.9C1025.5,1555.3 1027.1,1554.4 1028.1,1554.5C1029.2,1554.6 1030.5,1555.5 1031.0,1556.4Z" stroke-width="2.8" stroke-linecap="round"/>
<path d="M1055.5,1057.5C1055.3,1056.7 1055.9,1055.6 1056.6,1054.7C1057.3,1053.9 1058.5,1052.6 1059.7,1052.3C1060.9,1052.0 1062.7,1052.5 1063.8,1053.0C1064.9,1053.5 1066.0,1054.3 1066.3,1055.3C1066.6,1056.2 1066.2,1057.8 1065.4,1058.6C1064.6,1059.4 1062.6,1059.8 1061.3,1060.0C1060.0,1060.2 1058.5,1060.2 1057.5,1059.7C1056.5,1059.3 1055.6,1058.3 1055.5,1057.5Z" stroke-width="2.9" stroke-linecap="round"/>
<path d="M1082.1,1098.7C1082.2,1097.8 1083.0,1096.9 1083.8,1096.2C1084.6,1095.6 1085.9,1094.8 1086.9,1094.9C1087.9,1094.9 1089.1,1095.7 1089.8,1096.4C1090.4,1097.0 1090.9,1097.9 1091.0,1098.7C1091.0,1099.5 1090.9,1100.8 1090.2,1101.4C1089.5,1102.0 1088.0,1102.3 1086.8,1102.3C1085.7,1102.3 1084.2,1102.0 1083.5,1101.4C1082.7,1100.8 1082.1,1099.5 1082.1,1098.7Z" stroke-width="3.1" stroke-linecap="round"/>
<path d="M998.9,1302.1C999.8,1301.7 1001.4,1302.1 1002.2,1302.7C1003.0,1303.3 1003.6,1304.6 1004.0,1305.7C1004.3,1306.7 1004.6,1308.1 1004.2,1309.0C1003.9,1310.0 1002.9,1311.2 1002.0,1311.4C1001.2,1311.7 999.7,1311.3 998.9,1310.8C998.0,1310.2 997.2,1309.0 996.9,1308.0C996.5,1306.9 996.4,1305.5 996.8,1304.5C997.1,1303.5 998.0,1302.4 998.9,1302.1Z" stroke-width="2.9" stroke-linecap="round"/>
<path d="M1068.6,1479.4C1068.0,1478.8 1067.9,1477.6 1068.0,1476.6C1068.1,1475.7 1068.6,1474.5 1069.3,1473.7C1070.0,1473.0 1071.2,1472.3 1072.2,1472.1C1073.2,1471.9 1074.7,1471.9 1075.3,1472.5C1075.9,1473.1 1076.0,1474.5 1075.8,1475.6C1075.7,1476.6 1075.3,1478.0 1074.5,1478.8C1073.8,1479.6 1072.3,1480.2 1071.3,1480.3C1070.3,1480.4 1069.1,1480.0 1068.6,1479.4Z" stroke-width="2.6" stroke-linecap="round"/>
<path d="M1009.7,1348.4C1010.3,1347.7 1011.6,1346.9 1012.5,1347.0C1013.5,1347.2 1014.6,1348.5 1015.3,1349.4C1016.1,1350.3 1017.0,1351.4 1017.1,1352.4C1017.1,1353.4 1016.4,1354.5 1015.7,1355.2C1015.0,1355.9 1013.7,1356.5 1012.7,1356.3C1011.7,1356.2 1010.4,1355.3 1009.7,1354.4C1009.0,1353.6 1008.6,1352.2 1008.6,1351.2C1008.6,1350.2 1009.0,1349.1 1009.7,1348.4Z" stroke-width="2.7" stroke-linecap="round"/>
<circle cx="1036.7" cy="1439.1" r="1.7" stroke="none" fill="#000"/>
<line x1="1071.8" y1="1162.2" x2="1075.2" y2="1164.4" stroke-width="2.1" stroke-linecap="round"/>
<line x1="1004.1" y1="1515.6" x2="1008.6" y2="1515.6" stroke-width="3.0" stroke-linecap="round"/>
<line x1="1020.9" y1="1382.8" x2="1026.0" y2="1385.0" stroke-width="2.8" stroke-linecap="round"/>
<circle cx="1046.6" cy="1344.1" r="2.0" stroke="none" fill="#000"/>
<circle cx="1038.8" cy="1091.4" r="2.1" stroke="none" fill="#000"/>
<circle cx="991.4" cy="1315.5" r="2.2" stroke="none" fill="#000"/>
<circle cx="1089.3" cy="1234.4" r="2.0" stroke="none" fill="#000"/>
<circle cx="1057.6" cy="1322.3" r="1.7" stroke="none" fill="#000"/>
<line x1="995.6" y1="1049.2" x2="1002.3" y2="1050.3" stroke-width="2.5" stroke-linecap="round"/>
<line x1="1085.6" y1="1368.2" x2="1091.0" y2="1369.6" stroke-width="2.4" stroke-linecap="round"/>
<circle cx="1092.9" cy="1173.5" r="1.4" stroke="none" fill="#000"/>
<circle cx="1032.1" cy="1116.2" r="2.2" stroke="none" fill="#000"/>
<line x1="1094.2" y1="1297.9" x2="1097.1" y2="1297.0" stroke-width="2.7" stroke-linecap="round"/>
<line x1="1082.2" y1="1523.0" x2="1086.5" y2="1523.7" stroke-width="3.2" stroke-linecap="round"/>
<line x1="1020.0" y1="1101.1" x2="1023.3" y2="1099.3" stroke-width="2.5" stroke-linecap="round"/>
<circle cx="984.3" cy="1199.7" r="1.6" stroke="none" fill="#000"/>
<line x1="1090.8" y1="1104.7" x2="1095.6" y2="1106.9" stroke-width="2.3" stroke-linecap="round"/>
<line x1="989.7" y1="1352.2" x2="995.5" y2="1354.3" stroke-width="2.5" stroke-linecap="round"/>
<line x1="1084.2" y1="1129.1" x2="1088.3" y2="1130.2" stroke-width="2.3" stroke-linecap="round"/>
<circle cx="1000.2" cy="1467.2" r="1.7" stroke="none" fill="#000"/>
<circle cx="960.5" cy="1130.5" r="1.5" stroke="none" fill="#000"/>
<circle cx="1078.2" cy="1465.7" r="2.1" stroke="none" fill="#000"/>
<line x1="1065.1" y1="1106.0" x2="1070.1" y2="1106.6" stroke-width="3.1" stroke-linecap="round"/>
<circle cx="1093.1" cy="1405.1" r="1.6" stroke="none" fill="#000"/>
<line x1="1015.9" y1="1464.3" x2="1019.8" y2="1468.9" stroke-width="2.7" stroke-linecap="round"/>
<circle cx="985.5" cy="1122.1" r="2.1" stroke="none" fill="#000"/>
<circle cx="1079.8" cy="1547.5" r="2.2" stroke="none" fill="#000"/>
<circle cx="1051.0" cy="1251.2" r="2.0" stroke="none" fill="#000"/>
<circle cx="1033.5" cy="1367.8" r="1.6" stroke="none" fill="#000"/>
<line x1="1027.5" y1="1097.8" x2="1031.0" y2="1097.4" stroke-width="3.2" stroke-linecap="round"/>
<circle cx="1079.9" cy="1393.5" r="2.2" stroke="none" fill="#000"/>
<circle cx="1076.4" cy="1182.2" r="2.1" stroke="none" fill="#000"/>
<circle cx="1077.5" cy="1538.3" r="1.6" stroke="none" fill="#000"/>
<line x1="1040.0" y1="1501.2" x2="1044.9" y2="1501.6" stroke-width="2.6" stroke-linecap="round"/>
<line x1="947.9" y1="1154.6" x2="953.8" y2="1152.8" stroke-width="2.2" stroke-linecap="round"/>
<line x1="1092.7" y1="1323.6" x2="1095.4" y2="1321.9" stroke-width="3.2" stroke-linecap="round"/>
<line x1="1042.8" y1="1125.8" x2="1048.3" y2="1127.6" stroke-width="2.8" stroke-linecap="round"/>
<line x1="1058.9" y1="1475.1" x2="1060.1" y2="1478.3" stroke-width="2.9" stroke-linecap="round"/>
<circle cx="1000.3" cy="1486.7" r="2.1" stroke="none" fill="#000"/>
<circle cx="1041.3" cy="1340.6" r="1.5" stroke="none" fill="#000"/>
<line x1="1053.0" y1="1369.8" x2="1051.5" y2="1373.8" stroke-width="2.1" stroke-linecap="round"/>
<line x1="1055.9" y1="1252.3" x2="1060.0" y2="1254.6" stroke-width="2.9" stroke-linecap="round"/>
<line x1="1074.7" y1="1384.3" x2="1081.0" y2="1384.2" stroke-width="3.4" stroke-linecap="round"/>
<line x1="1017.5" y1="1545.4" x2="1021.1" y2="1545.9" stroke-width="2.4" stroke-linecap="round"/>
<circle cx="989.6" cy="1528.5" r="1.5" stroke="none" fill="#000"/>
<circle cx="1069.2" cy="1426.7" r="1.6" stroke="none" fill="#000"/>
<line x1="1028.1" y1="1049.3" x2="1032.3" y2="1051.4" stroke-width="3.4" stroke-linecap="round"/>
<line x1="1069.8" y1="1159.0" x2="1073.6" y2="1158.3" stroke-width="3.4" stroke-linecap="round"/>
<circle cx="942.2" cy="1104.0" r="1.8" stroke="none" fill="#000"/>
<line x1="1067.9" y1="1327.5" x2="1074.4" y2="1325.8" stroke-width="2.9" stroke-linecap="round"/>
<line x1="1035.9" y1="1090.3" x2="1035.3" y2="1096.1" stroke-width="3.3" stroke-linecap="round"/>
<circle cx="1094.8" cy="1208.0" r="1.8" stroke="none" fill="#000"/>
<line x1="1038.4" y1="1215.6" x2="1035.8" y2="1221.8" stroke-width="3.5" stroke-linecap="round"/>
<circle cx="1086.9" cy="1125.3" r="2.2" stroke="none" fill="#000"/>
<line x1="1033.4" y1="1243.3" x2="1036.6" y2="1245.4" stroke-width="2.5" stroke-linecap="round"/>
<line x1="1045.4" y1="1453.2" x2="1048.9" y2="1453.4" stroke-width="2.7" stroke-linecap="round"/>
<circle cx="1028.1" cy="1540.7" r="1.4" stroke="none" fill="#000"/>
<line x1="1018.4" y1="1496.6" x2="1014.2" y2="1500.3" stroke-width="3.2" stroke-linecap="round"/>
<line x1="1022.1" y1="1150.3" x2="1026.3" y2="1150.5" stroke-width="2.2" stroke-linecap="round"/>
<line x1="1061.6" y1="1236.3" x2="1057.0" y2="1237.1" stroke-width="2.8" stroke-linecap="round"/>
<line x1="985.0" y1="1273.1" x2="991.5" y2="1271.3" stroke-width="2.7" stroke-linecap="round"/>
<circle cx="1084.2" cy="1518.6" r="1.8" stroke="none" fill="#000"/>
<circle cx="1027.1" cy="1421.0" r="2.0" stroke="none" fill="#000"/>
<circle cx="994.0" cy="1253.4" r="1.4" stroke="none" fill="#000"/>
<circle cx="1019.9" cy="1071.8" r="2.0" stroke="none" fill="#000"/>
<circle cx="1000.9" cy="1215.3" r="1.9" stroke="none" fill="#000"/>
<line x1="1026.5" y1="1089.5" x2="1031.1" y2="1091.0" stroke-width="3.0" stroke-linecap="round"/>
<line x1="1057.8" y1="1266.1" x2="1051.2" y2="1267.7" stroke-width="3.4" stroke-linecap="round"/>
<line x1="1029.1" y1="1529.5" x2="1033.5" y2="1530.9" stroke-width="2.5" stroke-linecap="round"/>
<circle cx="985.2" cy="1335.7" r="1.8" stroke="none" fill="#000"/>
<line x1="998.5" y1="1252.1" x2="1003.2" y2="1254.8" stroke-width="2.2" stroke-linecap="round"/>
<line x1="1029.2" y1="1396.6" x2="1025.1" y2="1400.0" stroke-width="3.4" stroke-linecap="round"/>
<line x1="1037.5" y1="1260.7" x2="1041.9" y2="1261.3" stroke-width="2.9" stroke-linecap="round"/>
<circle cx="1093.5" cy="1270.9" r="2.0" stroke="none" fill="#000"/>
<circle cx="1012.1" cy="1539.0" r="1.6" stroke="none" fill="#000"/>
<circle cx="1048.0" cy="1135.4" r="1.7" stroke="none" fill="#000"/>
<circle cx="977.9" cy="1060.2" r="1.6" stroke="none" fill="#000"/>
<circle cx="1071.2" cy="1550.4" r="2.0" stroke="none" fill="#000"/>
<circle cx="1092.5" cy="1499.0" r="1.6" stroke="none" fill="#000"/>
<circle cx="1036.0" cy="1370.2" r="1.8" stroke="none" fill="#000"/>
<line x1="1056.6" y1="1519.0" x2="1059.2" y2="1520.6" stroke-width="3.1" stroke-linecap="round"/>
<circle cx="992.1" cy="1084.0" r="1.9" stroke="none" fill="#000"/>
<circle cx="1002.3" cy="1372.0" r="1.8" stroke="none" fill="#000"/>
<circle cx="1084.4" cy="1356.5" r="1.9" stroke="none" fill="#000"/>
<circle cx="1060.4" cy="1294.6" r="1.7" stroke="none" fill="#000"/>
<line x1="1044.7" y1="1521.5" x2="1047.5" y2="1520.3" stroke-width="2.7" stroke-linecap="round"/>
<circle cx="999.5" cy="1245.7" r="1.4" stroke="none" fill="#000"/>
<line x1="996.2" y1="1388.5" x2="991.5" y2="1389.2" stroke-width="3.0" stroke-linecap="round"/>
<line x1="1028.5" y1="1171.7" x2="1031.3" y2="1177.5" stroke-width="2.3" stroke-linecap="round"/>
<line x1="1049.6" y1="1123.8" x2="1055.0" y2="1126.3" stroke-width="2.9" stroke-linecap="round"/>
<line x1="1026.1" y1="1284.6" x2="1031.7" y2="1286.6" stroke-width="2.8" stroke-linecap="round"/>
<line x1="1089.7" y1="1431.1" x2="1094.0" y2="1433.7" stroke-width="3.0" stroke-linecap="round"/>
<circle cx="1026.5" cy="1147.8" r="1.8" stroke="none" fill="#000"/>
<line x1="1073.3" y1="1426.4" x2="1078.1" y2="1430.3" stroke-width="2.1" stroke-linecap="round"/>
<line x1="1018.2" y1="1091.3" x2="1022.1" y2="1089.4" stroke-width="3.0" stroke-linecap="round"/>
<line x1="1031.3" y1="1565.5" x2="1036.3" y2="1563.7" stroke-width="3.5" stroke-linecap="round"/>
<line x1="1022.6" y1="1476.0" x2="1026.9" y2="1478.5" stroke-width="3.5" stroke-linecap="round"/>
<line x1="983.9" y1="1091.9" x2="987.9" y2="1091.8" stroke-width="2.5" stroke-linecap="round"/>
<circle cx="1060.4" cy="1280.2" r="1.6" stroke="none" fill="#000"/>
<line x1="1036.5" y1="1347.9" x2="1033.1" y2="1349.6" stroke-width="2.5" stroke-linecap="round"/>
<circle cx="978.1" cy="1168.4" r="1.6" stroke="none" fill="#000"/>
<circle cx="976.0" cy="1208.6" r="1.7" stroke="none" fill="#000"/>
<circle cx="1059.0" cy="1042.9" r="2.1" stroke="none" fill="#000"/>
<circle cx="987.5" cy="1499.2" r="2.0" stroke="none" fill="#000"/>
<circle cx="1065.3" cy="1473.9" r="1.6" stroke="none" fill="#000"/>
<line x1="981.2" y1="1438.3" x2="986.6" y2="1437.3" stroke-width="2.6" stroke-linecap="round"/>
<circle cx="996.2" cy="1377.4" r="1.7" stroke="none" fill="#000"/>
<line x1="1046.0" y1="1388.3" x2="1051.5" y2="1391.5" stroke-width="2.9" stroke-linecap="round"/>
<circle cx="1030.5" cy="1547.5" r="1.7" stroke="none" fill="#000"/>
<circle cx="1078.0" cy="1205.5" r="1.6" stroke="none" fill="#000"/>
<line x1="970.3" y1="1096.5" x2="973.7" y2="1094.5" stroke-width="3.0" stroke-linecap="round"/>
<line x1="1025.6" y1="1075.1" x2="1028.7" y2="1075.5" stroke-width="2.4" stroke-linecap="round"/>
<circle cx="1071.9" cy="1504.2" r="2.0" stroke="none" fill="#000"/>
<line x1="1073.1" y1="1345.9" x2="1076.6" y2="1344.0" stroke-width="2.4" stroke-linecap="round"/>
<line x1="998.1" y1="1475.6" x2="1001.5" y2="1475.9" stroke-width="2.9" stroke-linecap="round"/>
<line x1="991.3" y1="1122.4" x2="988.9" y2="1124.9" stroke-width="2.1" stroke-linecap="round"/>
<line x1="1091.0" y1="1244.5" x2="1095.9" y2="1241.8" stroke-width="3.2" stroke-linecap="round"/>
<circle cx="1057.3" cy="1275.8" r="2.1" stroke="none" fill="#000"/>
<line x1="1068.4" y1="1536.6" x2="1073.0" y2="1539.4" stroke-width="3.5" stroke-linecap="round"/>
<line x1="979.7" y1="1090.7" x2="986.0" y2="1093.3" stroke-width="3.5" stroke-linecap="round"/>
<circle cx="1078.7" cy="1257.7" r="1.9" stroke="none" fill="#000"/>
<circle cx="1058.0" cy="1193.6" r="1.6" stroke="none" fill="#000"/>
<line x1="1045.9" y1="1367.1" x2="1048.7" y2="1368.4" stroke-width="2.8" stroke-linecap="round"/>
<circle cx="981.9" cy="1058.1" r="1.3" stroke="none" fill="#000"/>
<circle cx="996.9" cy="1493.2" r="2.2" stroke="none" fill="#000"/>
<line x1="1072.2" y1="1507.7" x2="1078.1" y2="1510.7" stroke-width="3.4" stroke-linecap="round"/>
<line x1="971.7" y1="1114.8" x2="974.8" y2="1115.9" stroke-width="2.8" stroke-linecap="round"/>
<circle cx="1049.8" cy="1099.0" r="1.7" stroke="none" fill="#000"/>
<circle cx="1002.8" cy="1144.1" r="2.1" stroke="none" fill="#000"/>
<line x1="1009.6" y1="1289.1" x2="1014.5" y2="1289.0" stroke-width="3.3" stroke-linecap="round"/>
<line x1="1057.9" y1="1126.8" x2="1061.8" y2="1127.7" stroke-width="2.8" stroke-linecap="round"/>
<line x1="1025.1" y1="1517.9" x2="1029.8" y2="1522.9" stroke-width="2.5" stroke-linecap="round"/>
<line x1="984.9" y1="1252.8" x2="987.9" y2="1255.2" stroke-width="3.4" stroke-linecap="round"/>
<line x1="1004.5" y1="1550.8" x2="1005.3" y2="1554.9" stroke-width="3.1" stroke-linecap="round"/>
<line x1="1045.3" y1="1430.0" x2="1051.8" y2="1429.2" stroke-width="3.3" stroke-linecap="round"/>
<circle cx="996.1" cy="1120.7" r="2.1" stroke="none" fill="#000"/>
<circle cx="1059.1" cy="1245.6" r="1.4" stroke="none" fill="#000"/>
<line x1="1083.9" y1="1493.7" x2="1088.1" y2="1492.0" stroke-width="3.5" stroke-linecap="round"/>
<circle cx="1089.0" cy="1058.4" r="1.6" stroke="none" fill="#000"/>
<circle cx="989.1" cy="1454.4" r="1.7" stroke="none" fill="#000"/>
<line x1="1047.8" y1="1350.9" x2="1050.8" y2="1352.6" stroke-width="2.1" stroke-linecap="round"/>
<line x1="1056.9" y1="1232.0" x2="1060.3" y2="1231.8" stroke-width="3.0" stroke-linecap="round"/>
<line x1="938.6" y1="1103.4" x2="936.2" y2="1107.2" stroke-width="2.7" stroke-linecap="round"/>
<circle cx="1047.9" cy="1045.4" r="1.5" stroke="none" fill="#000"/>
<circle cx="940.4" cy="1166.3" r="1.4" stroke="none" fill="#000"/>
<circle cx="1034.7" cy="1275.6" r="1.8" stroke="none" fill="#000"/>
<circle cx="1032.2" cy="1268.2" r="1.7" stroke="none" fill="#000"/>
<line x1="1061.3" y1="1403.1" x2="1059.6" y2="1406.8" stroke-width="3.2" stroke-linecap="round"/>
<line x1="998.6" y1="1546.8" x2="996.9" y2="1552.2" stroke-width="3.2" stroke-linecap="round"/>
<line x1="995.4" y1="1435.4" x2="998.8" y2="1434.6" stroke-width="2.6" stroke-linecap="round"/>
<circle cx="1025.5" cy="1465.9" r="2.1" stroke="none" fill="#000"/>
<line x1="1015.9" y1="1483.0" x2="1021.4" y2="1483.6" stroke-width="3.4" stroke-linecap="round"/>
<circle cx="1055.0" cy="1445.4" r="1.5" stroke="none" fill="#000"/>
<circle cx="1007.2" cy="1240.2" r="1.5" stroke="none" fill="#000"/>
<line x1="1048.9" y1="1217.0" x2="1052.8" y2="1215.8" stroke-width="3.4" stroke-linecap="round"/>
<circle cx="1066.3" cy="1280.2" r="1.6" stroke="none" fill="#000"/>
<circle cx="1004.4" cy="1472.6" r="1.8" stroke="none" fill="#000"/>
<circle cx="1067.4" cy="1165.2" r="2.0" stroke="none" fill="#000"/>
<line x1="1092.6" y1="1301.1" x2="1096.9" y2="1302.0" stroke-width="3.1" stroke-linecap="round"/>
<line x1="1093.7" y1="1330.9" x2="1099.1" y2="1329.1" stroke-width="3.3" stroke-linecap="round"/>
<line x1="981.5" y1="1226.2" x2="987.8" y2="1227.5" stroke-width="3.5" stroke-linecap="round"/>
<line x1="1078.5" y1="1555.1" x2="1079.8" y2="1560.3" stroke-width="2.2" stroke-linecap="round"/>
<line x1="1076.7" y1="1490.3" x2="1080.8" y2="1491.7" stroke-width="2.6" stroke-linecap="round"/>
<line x1="997.2" y1="1360.8" x2="1003.4" y2="1361.7" stroke-width="2.4" stroke-linecap="round"/>
<circle cx="1055.2" cy="1375.9" r="1.5" stroke="none" fill="#000"/>
<line x1="1045.5" y1="1558.9" x2="1051.3" y2="1557.2" stroke-width="2.8" stroke-linecap="round"/>
<line x1="1060.7" y1="1225.3" x2="1057.0" y2="1226.4" stroke-width="2.5" stroke-linecap="round"/>
<circle cx="1072.9" cy="1525.8" r="1.6" stroke="none" fill="#000"/>
<line x1="1033.5" y1="1554.4" x2="1039.8" y2="1557.3" stroke-width="2.5" stroke-linecap="round"/>
<circle cx="1066.9" cy="1481.0" r="1.4" stroke="none" fill="#000"/>
<circle cx="1071.7" cy="1237.1" r="1.9" stroke="none" fill="#000"/>
<circle cx="1077.1" cy="1291.3" r="1.6" stroke="none" fill="#000"/>
<line x1="1064.5" y1="1362.1" x2="1068.2" y2="1361.5" stroke-width="2.6" stroke-linecap="round"/>
<circle cx="1022.4" cy="1438.7" r="1.7" stroke="none" fill="#000"/>
<circle cx="1037.9" cy="1330.9" r="1.6" stroke="none" fill="#000"/>
<circle cx="985.0" cy="1315.0" r="1.9" stroke="none" fill="#000"/>
<line x1="1001.9" y1="1360.9" x2="1005.2" y2="1360.7" stroke-width="2.4" stroke-linecap="round"/>
<line x1="1061.5" y1="1318.5" x2="1067.6" y2="1317.9" stroke-width="2.5" stroke-linecap="round"/>
<line x1="1068.1" y1="1286.4" x2="1073.6" y2="1287.6" stroke-width="3.5" stroke-linecap="round"/>
<circle cx="1082.9" cy="1540.6" r="1.9" stroke="none" fill="#000"/>
<line x1="1013.5" y1="1135.3" x2="1012.3" y2="1138.3" stroke-width="2.2" stroke-linecap="round"/>
<circle cx="1096.1" cy="1309.3" r="1.7" stroke="none" fill="#000"/>
<circle cx="1056.4" cy="1197.0" r="2.2" stroke="none" fill="#000"/>
<line x1="1061.0" y1="1520.8" x2="1064.6" y2="1521.5" stroke-width="2.5" stroke-linecap="round"/>
<circle cx="1063.4" cy="1457.5" r="1.4" stroke="none" fill="#000"/>
<circle cx="1003.8" cy="1485.5" r="2.2" stroke="none" fill="#000"/>
<line x1="1036.7" y1="1194.5" x2="1042.8" y2="1194.7" stroke-width="2.3" stroke-linecap="round"/>
<line x1="1029.2" y1="1523.1" x2="1034.0" y2="1524.8" stroke-width="2.4" stroke-linecap="round"/>
<line x1="995.1" y1="1254.2" x2="1000.4" y2="1252.7" stroke-width="2.9" stroke-linecap="round"/>
<circle cx="986.1" cy="1241.5" r="2.0" stroke="none" fill="#000"/>
<line x1="1089.3" y1="1154.3" x2="1094.8" y2="1151.6" stroke-width="3.3" stroke-linecap="round"/>
<line x1="1079.3" y1="1454.6" x2="1083.9" y2="1453.5" stroke-width="3.3" stroke-linecap="round"/>
<line x1="1041.1" y1="1312.2" x2="1046.8" y2="1313.9" stroke-width="2.5" stroke-linecap="round"/>
<line x1="1008.0" y1="1159.5" x2="1014.0" y2="1160.2" stroke-width="3.4" stroke-linecap="round"/>
<line x1="990.4" y1="1089.5" x2="994.5" y2="1088.8" stroke-width="2.3" stroke-linecap="round"/>
<line x1="992.0" y1="1473.3" x2="997.6" y2="1470.9" stroke-width="3.1" stroke-linecap="round"/>
<circle cx="1023.5" cy="1233.1" r="1.4" stroke="none" fill="#000"/>
<line x1="966.6" y1="1084.9" x2="962.0" y2="1085.3" stroke-width="3.3" stroke-linecap="round"/>
<circle cx="1015.9" cy="1112.5" r="1.3" stroke="none" fill="#000"/>
<line x1="1026.2" y1="1244.2" x2="1032.0" y2="1242.4" stroke-width="2.5" stroke-linecap="round"/>
<circle cx="959.2" cy="1124.6" r="2.0" stroke="none" fill="#000"/>
<circle cx="1016.8" cy="1449.6" r="1.8" stroke="none" fill="#000"/>
<line x1="1087.3" y1="1293.5" x2="1092.2" y2="1293.5" stroke-width="3.4" stroke-linecap="round"/>
<circle cx="1015.2" cy="1320.9" r="1.9" stroke="none" fill="#000"/>
<circle cx="1040.7" cy="1189.6" r="2.1" stroke="none" fill="#000"/>
<line x1="996.8" y1="1518.5" x2="1001.0" y2="1518.0" stroke-width="2.5" stroke-linecap="round"/>
<circle cx="1055.6" cy="1462.9" r="2.2" stroke="none" fill="#000"/>
<line x1="1089.3" y1="1328.0" x2="1093.1" y2="1329.2" stroke-width="3.5" stroke-linecap="round"/>
<circle cx="1068.5" cy="1443.2" r="2.0" stroke="none" fill="#000"/>
<circle cx="944.5" cy="1071.7" r="1.6" stroke="none" fill="#000"/>
<circle cx="1092.2" cy="1410.0" r="1.7" stroke="none" fill="#000"/>
<circle cx="985.9" cy="1266.9" r="1.6" stroke="none" fill="#000"/>
<circle cx="1045.9" cy="1469.5" r="1.3" stroke="none" fill="#000"/>
<circle cx="1054.2" cy="1395.7" r="1.4" stroke="none" fill="#000"/>
<circle cx="1071.3" cy="1522.7" r="1.5" stroke="none" fill="#000"/>
<line x1="978.6" y1="1239.6" x2="983.0" y2="1240.7" stroke-width="3.1" stroke-linecap="round"/>
<line x1="1093.9" y1="1356.9" x2="1093.5" y2="1363.9" stroke-width="2.6" stroke-linecap="round"/>
<line x1="1035.8" y1="1278.2" x2="1039.9" y2="1279.4" stroke-width="2.5" stroke-linecap="round"/>
<line x1="1008.0" y1="1491.0" x2="1013.3" y2="1493.0" stroke-width="2.6" stroke-linecap="round"/>
<line x1="1089.8" y1="1180.3" x2="1094.8" y2="1179.0" stroke-width="2.7" stroke-linecap="round"/>
<line x1="1072.9" y1="1052.5" x2="1078.0" y2="1052.5" stroke-width="2.5" stroke-linecap="round"/>
<line x1="1017.0" y1="1302.0" x2="1022.5" y2="1303.7" stroke-width="2.6" stroke-linecap="round"/>
<line x1="983.3" y1="1078.0" x2="987.2" y2="1079.9" stroke-width="2.4" stroke-linecap="round"/>
<line x1="1020.9" y1="1192.0" x2="1026.1" y2="1192.5" stroke-width="3.2" stroke-linecap="round"/>
<line x1="1043.4" y1="1220.6" x2="1045.7" y2="1224.1" stroke-width="2.1" stroke-linecap="round"/>
<line x1="1056.8" y1="1156.4" x2="1062.1" y2="1155.9" stroke-width="3.3" stroke-linecap="round"/>
<circle cx="1076.5" cy="1266.7" r="1.9" stroke="none" fill="#000"/>
<circle cx="940.8" cy="1132.2" r="1.4" stroke="none" fill="#000"/>
<circle cx="1011.2" cy="1362.6" r="2.1" stroke="none" fill="#000"/>
<line x1="957.7" y1="1075.1" x2="959.7" y2="1080.7" stroke-width="2.8" stroke-linecap="round"/>
<circle cx="952.1" cy="1099.1" r="1.8" stroke="none" fill="#000"/>
<circle cx="1024.5" cy="1047.8" r="1.5" stroke="none" fill="#000"/>
<line x1="1060.2" y1="1503.9" x2="1064.2" y2="1503.4" stroke-width="3.1" stroke-linecap="round"/>
<line x1="1009.2" y1="1188.4" x2="1012.8" y2="1190.6" stroke-width="2.1" stroke-linecap="round"/>
<circle cx="985.8" cy="1340.2" r="1.5" stroke="none" fill="#000"/>
<circle cx="1063.9" cy="1554.4" r="1.6" stroke="none" fill="#000"/>
<line x1="1020.0" y1="1174.5" x2="1023.7" y2="1172.4" stroke-width="3.0" stroke-linecap="round"/>
<line x1="1054.1" y1="1431.1" x2="1053.3" y2="1435.5" stroke-width="3.0" stroke-linecap="round"/>
<line x1="1016.0" y1="1194.2" x2="1019.2" y2="1196.3" stroke-width="2.3" stroke-linecap="round"/>
<line x1="960.5" y1="1156.4" x2="965.1" y2="1158.9" stroke-width="2.2" stroke-linecap="round"/>
<line x1="1016.2" y1="1202.4" x2="1018.9" y2="1205.7" stroke-width="3.5" stroke-linecap="round"/>
<circle cx="977.7" cy="1069.0" r="1.5" stroke="none" fill="#000"/>
<circle cx="1041.6" cy="1333.4" r="1.6" stroke="none" fill="#000"/>
<line x1="1049.8" y1="1148.4" x2="1050.3" y2="1153.6" stroke-width="3.2" stroke-linecap="round"/>
<line x1="978.9" y1="1083.9" x2="983.2" y2="1084.5" stroke-width="3.0" stroke-linecap="round"/>
<line x1="1089.0" y1="1226.6" x2="1095.7" y2="1225.2" stroke-width="2.4" stroke-linecap="round"/>
<line x1="1072.0" y1="1241.7" x2="1073.3" y2="1244.7" stroke-width="3.1" stroke-linecap="round"/>
<line x1="1035.1" y1="1135.6" x2="1040.3" y2="1137.2" stroke-width="2.4" stroke-linecap="round"/>
<circle cx="1083.3" cy="1552.2" r="1.7" stroke="none" fill="#000"/>
<line x1="1090.3" y1="1522.1" x2="1095.4" y2="1523.8" stroke-width="3.5" stroke-linecap="round"/>
<line x1="1013.7" y1="1139.8" x2="1016.5" y2="1138.1" stroke-width="3.3" stroke-linecap="round"/>
<circle cx="1023.7" cy="1412.4" r="1.5" stroke="none" fill="#000"/>
<circle cx="1036.1" cy="1423.0" r="1.5" stroke="none" fill="#000"/>
<circle cx="1012.1" cy="1205.0" r="1.4" stroke="none" fill="#000"/>
<circle cx="989.8" cy="1114.7" r="1.3" stroke="none" fill="#000"/>
<line x1="1090.7" y1="1556.1" x2="1096.5" y2="1555.2" stroke-width="2.4" stroke-linecap="round"/>
<line x1="1033.0" y1="1177.2" x2="1030.5" y2="1182.5" stroke-width="3.0" stroke-linecap="round"/>
<line x1="1008.9" y1="1243.3" x2="1012.4" y2="1245.6" stroke-width="2.9" stroke-linecap="round"/>
<circle cx="1044.2" cy="1534.9" r="1.4" stroke="none" fill="#000"/>
<circle cx="1017.0" cy="1225.5" r="1.9" stroke="none" fill="#000"/>
<line x1="999.3" y1="1456.9" x2="1003.2" y2="1457.6" stroke-width="3.1" stroke-linecap="round"/>
<line x1="1093.0" y1="1262.8" x2="1097.9" y2="1262.9" stroke-width="2.8" stroke-linecap="round"/>
<line x1="1032.0" y1="1485.1" x2="1028.0" y2="1488.2" stroke-width="2.1" stroke-linecap="round"/>
<line x1="1003.0" y1="1045.2" x2="1006.6" y2="1043.4" stroke-width="2.5" stroke-linecap="round"/>
<line x1="1048.4" y1="1515.5" x2="1049.0" y2="1519.4" stroke-width="3.2" stroke-linecap="round"/>
<circle cx="952.0" cy="1089.4" r="1.3" stroke="none" fill="#000"/>
<line x1="979.2" y1="1199.5" x2="983.1" y2="1198.9" stroke-width="2.4" stroke-linecap="round"/>
<line x1="1058.6" y1="1324.9" x2="1062.5" y2="1327.1" stroke-width="2.8" stroke-linecap="round"/>
<line x1="1051.9" y1="1505.3" x2="1055.6" y2="1507.8" stroke-width="2.5" stroke-linecap="round"/>
<line x1="1038.0" y1="1419.2" x2="1043.1" y2="1416.1" stroke-width="3.0" stroke-linecap="round"/>
<circle cx="939.6" cy="1075.3" r="1.4" stroke="none" fill="#000"/>
<line x1="1020.4" y1="1566.9" x2="1027.0" y2="1564.9" stroke-width="3.0" stroke-linecap="round"/>
<line x1="1065.2" y1="1298.0" x2="1067.9" y2="1296.2" stroke-width="3.5" stroke-linecap="round"/>
<line x1="988.7" y1="1335.4" x2="992.3" y2="1337.7" stroke-width="3.5" stroke-linecap="round"/>
<line x1="980.3" y1="1274.9" x2="986.4" y2="1276.0" stroke-width="2.3" stroke-linecap="round"/>
<circle cx="994.3" cy="1191.8" r="1.4" stroke="none" fill="#000"/>
<circle cx="1100.1" cy="1439.8" r="1.9" stroke="none" fill="#000"/>
<circle cx="1081.1" cy="1241.4" r="2.1" stroke="none" fill="#000"/>
<circle cx="1006.3" cy="1226.5" r="1.4" stroke="none" fill="#000"/>
<line x1="989.7" y1="1355.9" x2="993.1" y2="1359.6" stroke-width="2.2" stroke-linecap="round"/>
<circle cx="1000.6" cy="1297.0" r="1.4" stroke="none" fill="#000"/>
<circle cx="1093.3" cy="1332.9" r="1.7" stroke="none" fill="#000"/>
<circle cx="1082.8" cy="1190.4" r="2.2" stroke="none" fill="#000"/>
<line x1="1065.0" y1="1291.4" x2="1067.9" y2="1292.1" stroke-width="2.2" stroke-linecap="round"/>
<circle cx="1044.5" cy="1163.5" r="1.7" stroke="none" fill="#000"/>
<circle cx="1064.1" cy="1422.7" r="2.1" stroke="none" fill="#000"/>
<line x1="934.5" y1="1168.5" x2="938.8" y2="1170.8" stroke-width="2.9" stroke-linecap="round"/>
<circle cx="962.5" cy="1139.2" r="2.1" stroke="none" fill="#000"/>
<line x1="1037.7" y1="1127.8" x2="1042.9" y2="1128.1" stroke-width="2.9" stroke-linecap="round"/>
<circle cx="1065.3" cy="1333.7" r="2.1" stroke="none" fill="#000"/>
<line x1="1061.7" y1="1382.7" x2="1066.3" y2="1379.8" stroke-width="3.4" stroke-linecap="round"/>
<line x1="984.3" y1="1295.9" x2="986.2" y2="1300.9" stroke-width="2.3" stroke-linecap="round"/>
<line x1="969.7" y1="1115.4" x2="966.3" y2="1119.4" stroke-width="3.2" stroke-linecap="round"/>
<circle cx="1041.3" cy="1351.4" r="1.7" stroke="none" fill="#000"/>
<circle cx="979.5" cy="1135.1" r="2.1" stroke="none" fill="#000"/>
<circle cx="1018.7" cy="1143.3" r="1.7" stroke="none" fill="#000"/>
<circle cx="1037.9" cy="1102.2" r="2.1" stroke="none" fill="#000"/>
<line x1="1007.3" y1="1343.2" x2="1013.9" y2="1343.1" stroke-width="2.9" stroke-linecap="round"/>
<line x1="1050.1" y1="1399.8" x2="1053.7" y2="1399.2" stroke-width="3.1" stroke-linecap="round"/><ellipse cx="304" cy="15" rx="3" ry="1.2" stroke="none" fill="#000"/>
<ellipse cx="351" cy="94" rx="1.5" ry="1" stroke="none" fill="#000"/>
<ellipse cx="1189.7" cy="87" rx="2.2" ry="2" stroke="none" fill="#000"/>
<ellipse cx="1320.8" cy="123.5" rx="1" ry="1" stroke="none" fill="#000"/>
<ellipse cx="1545" cy="83.5" rx="1" ry="1" stroke="none" fill="#000"/>
<ellipse cx="1543.4" cy="111" rx="1" ry="1" stroke="none" fill="#000"/>
<ellipse cx="1560.8" cy="116.5" rx="1" ry="1" stroke="none" fill="#000"/>
<ellipse cx="1524.3" cy="273" rx="1.5" ry="1.2" stroke="none" fill="#000"/>
<ellipse cx="1526" cy="462.6" rx="1" ry="1.5" stroke="none" fill="#000"/>
<ellipse cx="1519" cy="688.6" rx="3" ry="1.5" stroke="none" fill="#000"/>
<ellipse cx="151" cy="862" rx="1.5" ry="1.5" stroke="none" fill="#000"/>
<ellipse cx="41.7" cy="1007.5" rx="1" ry="1" stroke="none" fill="#000"/>
<ellipse cx="140.8" cy="1008.6" rx="1.2" ry="1.2" stroke="none" fill="#000"/>
<ellipse cx="158" cy="1026" rx="1" ry="1.5" stroke="none" fill="#000"/>
<ellipse cx="184" cy="1137" rx="1.2" ry="1.2" stroke="none" fill="#000"/>
<ellipse cx="198" cy="1184" rx="1" ry="1" stroke="none" fill="#000"/>
<ellipse cx="189.4" cy="1446.5" rx="1.2" ry="1.2" stroke="none" fill="#000"/>
<ellipse cx="765" cy="1040" rx="1.2" ry="1.2" stroke="none" fill="#000"/>
<ellipse cx="826" cy="1122" rx="1.2" ry="1.2" stroke="none" fill="#000"/>
<ellipse cx="630" cy="1450" rx="1" ry="1" stroke="none" fill="#000"/>
<ellipse cx="803" cy="1476" rx="4" ry="1.5" stroke="none" fill="#000"/>
<ellipse cx="1260" cy="885" rx="1" ry="1" stroke="none" fill="#000"/>
<ellipse cx="1312" cy="953" rx="1" ry="1" stroke="none" fill="#000"/>
<ellipse cx="1357" cy="1031" rx="1" ry="1" stroke="none" fill="#000"/>
<ellipse cx="1406" cy="1178" rx="1" ry="1" stroke="none" fill="#000"/>
<ellipse cx="1315" cy="1214" rx="1" ry="1" stroke="none" fill="#000"/>
<ellipse cx="1507" cy="1266" rx="1" ry="1" stroke="none" fill="#000"/>
<ellipse cx="1508.4" cy="1076.3" rx="1" ry="1" stroke="none" fill="#000"/>
<ellipse cx="1344" cy="1279" rx="1" ry="1" stroke="none" fill="#000"/>
<ellipse cx="1367" cy="1318" rx="1" ry="1" stroke="none" fill="#000"/>
<ellipse cx="1377" cy="1348" rx="1.5" ry="1" stroke="none" fill="#000"/>
<ellipse cx="1393" cy="1550" rx="1" ry="1" stroke="none" fill="#000"/>
<ellipse cx="1325" cy="1683" rx="1" ry="1" stroke="none" fill="#000"/>
<ellipse cx="1396" cy="2113" rx="1.2" ry="1.2" stroke="none" fill="#000"/>
<ellipse cx="1402" cy="2137" rx="1.2" ry="1.2" stroke="none" fill="#000"/>
<ellipse cx="1280" cy="2252" rx="1.2" ry="1" stroke="none" fill="#000"/>
<ellipse cx="1361" cy="2276" rx="1.2" ry="1" stroke="none" fill="#000"/>
<ellipse cx="920.6" cy="2285.6" rx="1.2" ry="1" stroke="none" fill="#000"/>
<ellipse cx="318" cy="2258" rx="1.6" ry="2" stroke="none" fill="#000"/>
<path d="M1155.6,5 L1150,70 M1149,85 L1148,95 M1145,100 L1140,128 M1139,130 L1138.3,133" stroke-width="1.4"/></g></svg>
</body></html>
